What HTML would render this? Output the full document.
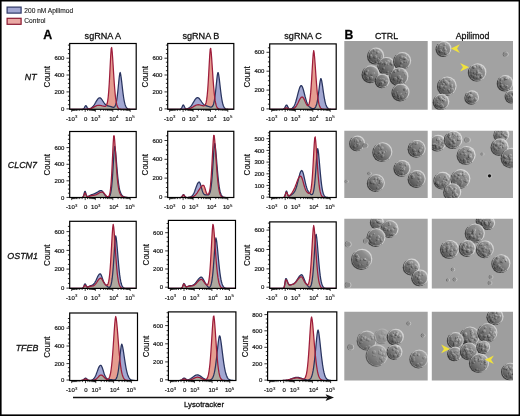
<!DOCTYPE html>
<html><head><meta charset="utf-8"><title>Figure</title>
<style>
html,body{margin:0;padding:0;background:#fff;}
body{width:520px;height:416px;overflow:hidden;}
svg{display:block;will-change:transform;}
text{font-family:"Liberation Sans",sans-serif;stroke:#111;stroke-width:0.28px;}
</style></head><body>
<svg width="520" height="416" viewBox="0 0 520 416">
<rect width="520" height="416" fill="#fff"/>
<rect x="7.1" y="7.1" width="14" height="6" fill="#a2a7d2" stroke="#2e3866" stroke-width="1.2"/>
<rect x="7.1" y="18.3" width="14" height="6" fill="#eaa9a4" stroke="#8a1830" stroke-width="1.2"/>
<text x="24.3" y="13.2" font-size="6.6" fill="#222" style="stroke-width:0.1px">200 nM Apilimod</text>
<text x="24.3" y="23.1" font-size="6.6" fill="#222" style="stroke-width:0.1px">Control</text>
<text x="47.8" y="38.8" font-size="12.4" font-weight="bold" text-anchor="middle" fill="#000">A</text>
<text x="348.8" y="38.6" font-size="12.2" font-weight="bold" text-anchor="middle" fill="#000">B</text>
<text x="386.5" y="39.4" font-size="8.9" text-anchor="middle" fill="#111">CTRL</text>
<text x="472.5" y="39.2" font-size="8.8" text-anchor="middle" fill="#111">Apilimod</text>
<clipPath id="c00"><rect x="69.7" y="43.5" width="66.5" height="65.8"/></clipPath>
<g clip-path="url(#c00)">
<path d="M69.7,109.3 L69.7,109.3 70.2,109.3 70.7,109.3 71.2,109.3 71.7,109.3 72.2,109.3 72.7,109.3 73.2,109.3 73.7,109.3 74.2,109.3 74.7,109.3 75.2,109.3 75.7,109.3 76.2,109.3 76.7,109.3 77.2,109.3 77.7,109.3 78.2,109.3 78.7,109.3 79.2,109.3 79.7,109.3 80.2,109.3 80.7,109.3 81.2,109.3 81.7,109.3 82.2,109.3 82.7,109.2 83.2,109.1 83.7,108.7 84.2,108 84.7,107 85.2,106.1 85.7,105.6 86.2,105.8 86.7,106.6 87.2,107.6 87.7,108.3 88.2,108.8 88.7,108.9 89.2,108.9 89.7,108.8 90.2,108.6 90.7,108.3 91.2,108.1 91.7,107.7 92.2,107.3 92.7,106.7 93.2,106.2 93.7,105.5 94.2,104.8 94.7,104 95.2,103.1 95.7,102.3 96.2,101.4 96.7,100.6 97.2,99.8 97.7,99.2 98.2,98.6 98.7,98.2 99.2,97.9 99.7,97.8 100.2,97.9 100.7,98.2 101.2,98.7 101.7,99.3 102.2,100 102.7,100.8 103.2,101.5 103.7,102.3 104.2,103 104.7,103.7 105.2,104.2 105.7,104.7 106.2,105.1 106.7,105.4 107.2,105.6 107.7,105.8 108.2,105.9 108.7,106.1 109.2,106.2 109.7,106.3 110.2,106.4 110.7,106.6 111.2,106.7 111.7,106.9 112.2,107.1 112.7,107.2 113.2,107.3 113.7,107.3 114.2,107.1 114.7,106.6 115.2,105.9 115.7,104.6 116.2,102.7 116.7,100.1 117.2,96.6 117.7,92.4 118.2,87.5 118.7,82.4 119.2,77.5 119.7,73.8 120.2,72.5 120.7,74.5 121.2,77.8 121.7,81.9 122.2,86.3 122.7,90.6 123.2,94.5 123.7,98 124.2,100.8 124.7,103.1 125.2,104.9 125.7,106.3 126.2,107.2 126.7,107.9 127.2,108.4 127.7,108.7 128.2,109 128.7,109.1 129.2,109.2 129.7,109.2 130.2,109.3 130.7,109.3 131.2,109.3 131.7,109.3 132.2,109.3 132.7,109.3 133.2,109.3 133.7,109.3 134.2,109.3 134.7,109.3 135.2,109.3 135.7,109.3 L135.7,109.3 Z" fill="#a2a7d2"/>
<path d="M69.7,109.3 L69.7,109.3 70.2,109.3 70.7,109.3 71.2,109.3 71.7,109.3 72.2,109.3 72.7,109.3 73.2,109.3 73.7,109.3 74.2,109.3 74.7,109.3 75.2,109.3 75.7,109.3 76.2,109.3 76.7,109.3 77.2,109.3 77.7,109.3 78.2,109.3 78.7,109.3 79.2,109.3 79.7,109.3 80.2,109.3 80.7,109.3 81.2,109.3 81.7,109.3 82.2,109.3 82.7,109.3 83.2,109.3 83.7,109.3 84.2,109.3 84.7,109.3 85.2,109.3 85.7,109.2 86.2,109.2 86.7,109.2 87.2,109.1 87.7,109.1 88.2,109 88.7,109 89.2,108.9 89.7,108.8 90.2,108.6 90.7,108.5 91.2,108.3 91.7,108.1 92.2,107.9 92.7,107.7 93.2,107.4 93.7,107.1 94.2,106.9 94.7,106.6 95.2,106.3 95.7,106.1 96.2,105.9 96.7,105.7 97.2,105.5 97.7,105.4 98.2,105.3 98.7,105.3 99.2,105.3 99.7,105.3 100.2,105.4 100.7,105.5 101.2,105.6 101.7,105.7 102.2,105.9 102.7,106 103.2,106.1 103.7,106.2 104.2,106.3 104.7,106.3 105.2,106.3 105.7,106.1 106.2,105.7 106.7,104.8 107.2,103.3 107.7,100.8 108.2,97 108.7,91.6 109.2,84.3 109.7,75.3 110.2,65.3 110.7,55.7 111.2,48.6 111.7,47.5 112.2,52 112.7,58.8 113.2,66.7 113.7,74.7 114.2,82.2 114.7,88.8 115.2,94.3 115.7,98.7 116.2,102 116.7,104.4 117.2,106.1 117.7,107.3 118.2,108 118.7,108.5 119.2,108.9 119.7,109 120.2,109.2 120.7,109.2 121.2,109.3 121.7,109.3 122.2,109.3 122.7,109.3 123.2,109.3 123.7,109.3 124.2,109.3 124.7,109.3 125.2,109.3 125.7,109.3 126.2,109.3 126.7,109.3 127.2,109.3 127.7,109.3 128.2,109.3 128.7,109.3 129.2,109.3 129.7,109.3 130.2,109.3 130.7,109.3 131.2,109.3 131.7,109.3 132.2,109.3 132.7,109.3 133.2,109.3 133.7,109.3 134.2,109.3 134.7,109.3 135.2,109.3 135.7,109.3 L135.7,109.3 Z" fill="#e59d90"/>
<path d="M69.7,109.3 L69.7,109.3 70.2,109.3 70.7,109.3 71.2,109.3 71.7,109.3 72.2,109.3 72.7,109.3 73.2,109.3 73.7,109.3 74.2,109.3 74.7,109.3 75.2,109.3 75.7,109.3 76.2,109.3 76.7,109.3 77.2,109.3 77.7,109.3 78.2,109.3 78.7,109.3 79.2,109.3 79.7,109.3 80.2,109.3 80.7,109.3 81.2,109.3 81.7,109.3 82.2,109.3 82.7,109.3 83.2,109.3 83.7,109.3 84.2,109.3 84.7,109.3 85.2,109.3 85.7,109.2 86.2,109.2 86.7,109.2 87.2,109.1 87.7,109.1 88.2,109 88.7,109 89.2,108.9 89.7,108.8 90.2,108.6 90.7,108.5 91.2,108.3 91.7,108.1 92.2,107.9 92.7,107.7 93.2,107.4 93.7,107.1 94.2,106.9 94.7,106.6 95.2,106.3 95.7,106.1 96.2,105.9 96.7,105.7 97.2,105.5 97.7,105.4 98.2,105.3 98.7,105.3 99.2,105.3 99.7,105.3 100.2,105.4 100.7,105.5 101.2,105.6 101.7,105.7 102.2,105.9 102.7,106 103.2,106.1 103.7,106.2 104.2,106.3 104.7,106.3 105.2,106.3 105.7,106.1 106.2,105.7 106.7,105.4 107.2,105.6 107.7,105.8 108.2,105.9 108.7,106.1 109.2,106.2 109.7,106.3 110.2,106.4 110.7,106.6 111.2,106.7 111.7,106.9 112.2,107.1 112.7,107.2 113.2,107.3 113.7,107.3 114.2,107.1 114.7,106.6 115.2,105.9 115.7,104.6 116.2,102.7 116.7,104.4 117.2,106.1 117.7,107.3 118.2,108 118.7,108.5 119.2,108.9 119.7,109 120.2,109.2 120.7,109.2 121.2,109.3 121.7,109.3 122.2,109.3 122.7,109.3 123.2,109.3 123.7,109.3 124.2,109.3 124.7,109.3 125.2,109.3 125.7,109.3 126.2,109.3 126.7,109.3 127.2,109.3 127.7,109.3 128.2,109.3 128.7,109.3 129.2,109.3 129.7,109.3 130.2,109.3 130.7,109.3 131.2,109.3 131.7,109.3 132.2,109.3 132.7,109.3 133.2,109.3 133.7,109.3 134.2,109.3 134.7,109.3 135.2,109.3 135.7,109.3 L135.7,109.3 Z" fill="#aea99f"/>
<path d="M69.7,109.3 L70.2,109.3 L70.7,109.3 L71.2,109.3 L71.7,109.3 L72.2,109.3 L72.7,109.3 L73.2,109.3 L73.7,109.3 L74.2,109.3 L74.7,109.3 L75.2,109.3 L75.7,109.3 L76.2,109.3 L76.7,109.3 L77.2,109.3 L77.7,109.3 L78.2,109.3 L78.7,109.3 L79.2,109.3 L79.7,109.3 L80.2,109.3 L80.7,109.3 L81.2,109.3 L81.7,109.3 L82.2,109.3 L82.7,109.2 L83.2,109.1 L83.7,108.7 L84.2,108 L84.7,107 L85.2,106.1 L85.7,105.6 L86.2,105.8 L86.7,106.6 L87.2,107.6 L87.7,108.3 L88.2,108.8 L88.7,108.9 L89.2,108.9 L89.7,108.8 L90.2,108.6 L90.7,108.3 L91.2,108.1 L91.7,107.7 L92.2,107.3 L92.7,106.7 L93.2,106.2 L93.7,105.5 L94.2,104.8 L94.7,104 L95.2,103.1 L95.7,102.3 L96.2,101.4 L96.7,100.6 L97.2,99.8 L97.7,99.2 L98.2,98.6 L98.7,98.2 L99.2,97.9 L99.7,97.8 L100.2,97.9 L100.7,98.2 L101.2,98.7 L101.7,99.3 L102.2,100 L102.7,100.8 L103.2,101.5 L103.7,102.3 L104.2,103 L104.7,103.7 L105.2,104.2 L105.7,104.7 L106.2,105.1 L106.7,105.4 L107.2,105.6 L107.7,105.8 L108.2,105.9 L108.7,106.1 L109.2,106.2 L109.7,106.3 L110.2,106.4 L110.7,106.6 L111.2,106.7 L111.7,106.9 L112.2,107.1 L112.7,107.2 L113.2,107.3 L113.7,107.3 L114.2,107.1 L114.7,106.6 L115.2,105.9 L115.7,104.6 L116.2,102.7 L116.7,100.1 L117.2,96.6 L117.7,92.4 L118.2,87.5 L118.7,82.4 L119.2,77.5 L119.7,73.8 L120.2,72.5 L120.7,74.5 L121.2,77.8 L121.7,81.9 L122.2,86.3 L122.7,90.6 L123.2,94.5 L123.7,98 L124.2,100.8 L124.7,103.1 L125.2,104.9 L125.7,106.3 L126.2,107.2 L126.7,107.9 L127.2,108.4 L127.7,108.7 L128.2,109 L128.7,109.1 L129.2,109.2 L129.7,109.2 L130.2,109.3 L130.7,109.3 L131.2,109.3 L131.7,109.3 L132.2,109.3 L132.7,109.3 L133.2,109.3 L133.7,109.3 L134.2,109.3 L134.7,109.3 L135.2,109.3 L135.7,109.3" fill="none" stroke="#29345f" stroke-width="1.25" stroke-linejoin="round"/>
<path d="M69.7,109.3 L70.2,109.3 L70.7,109.3 L71.2,109.3 L71.7,109.3 L72.2,109.3 L72.7,109.3 L73.2,109.3 L73.7,109.3 L74.2,109.3 L74.7,109.3 L75.2,109.3 L75.7,109.3 L76.2,109.3 L76.7,109.3 L77.2,109.3 L77.7,109.3 L78.2,109.3 L78.7,109.3 L79.2,109.3 L79.7,109.3 L80.2,109.3 L80.7,109.3 L81.2,109.3 L81.7,109.3 L82.2,109.3 L82.7,109.3 L83.2,109.3 L83.7,109.3 L84.2,109.3 L84.7,109.3 L85.2,109.3 L85.7,109.2 L86.2,109.2 L86.7,109.2 L87.2,109.1 L87.7,109.1 L88.2,109 L88.7,109 L89.2,108.9 L89.7,108.8 L90.2,108.6 L90.7,108.5 L91.2,108.3 L91.7,108.1 L92.2,107.9 L92.7,107.7 L93.2,107.4 L93.7,107.1 L94.2,106.9 L94.7,106.6 L95.2,106.3 L95.7,106.1 L96.2,105.9 L96.7,105.7 L97.2,105.5 L97.7,105.4 L98.2,105.3 L98.7,105.3 L99.2,105.3 L99.7,105.3 L100.2,105.4 L100.7,105.5 L101.2,105.6 L101.7,105.7 L102.2,105.9 L102.7,106 L103.2,106.1 L103.7,106.2 L104.2,106.3 L104.7,106.3 L105.2,106.3 L105.7,106.1 L106.2,105.7 L106.7,104.8 L107.2,103.3 L107.7,100.8 L108.2,97 L108.7,91.6 L109.2,84.3 L109.7,75.3 L110.2,65.3 L110.7,55.7 L111.2,48.6 L111.7,47.5 L112.2,52 L112.7,58.8 L113.2,66.7 L113.7,74.7 L114.2,82.2 L114.7,88.8 L115.2,94.3 L115.7,98.7 L116.2,102 L116.7,104.4 L117.2,106.1 L117.7,107.3 L118.2,108 L118.7,108.5 L119.2,108.9 L119.7,109 L120.2,109.2 L120.7,109.2 L121.2,109.3 L121.7,109.3 L122.2,109.3 L122.7,109.3 L123.2,109.3 L123.7,109.3 L124.2,109.3 L124.7,109.3 L125.2,109.3 L125.7,109.3 L126.2,109.3 L126.7,109.3 L127.2,109.3 L127.7,109.3 L128.2,109.3 L128.7,109.3 L129.2,109.3 L129.7,109.3 L130.2,109.3 L130.7,109.3 L131.2,109.3 L131.7,109.3 L132.2,109.3 L132.7,109.3 L133.2,109.3 L133.7,109.3 L134.2,109.3 L134.7,109.3 L135.2,109.3 L135.7,109.3" fill="none" stroke="#9e1d3b" stroke-width="1.25" stroke-linejoin="round"/>
</g>
<rect x="69.7" y="43.5" width="66.5" height="65.8" fill="none" stroke="#000" stroke-width="1.2"/>
<path d="M66.5,58.2H69.7 M66.5,75H69.7 M66.5,91.9H69.7 M66.5,108.9H69.7 M67.9,104.7H69.7 M67.9,100.4H69.7 M67.9,96.2H69.7 M67.9,87.7H69.7 M67.9,83.4H69.7 M67.9,79.2H69.7 M67.9,70.7H69.7 M67.9,66.4H69.7 M67.9,62.2H69.7 M67.9,53.6H69.7 M67.9,49.4H69.7 M67.9,45.1H69.7" stroke="#000" stroke-width="0.8"/>
<text x="64.4" y="60.3" font-size="6.0" text-anchor="end" fill="#222" style="stroke-width:0.2px">600</text>
<text x="64.4" y="77.1" font-size="6.0" text-anchor="end" fill="#222" style="stroke-width:0.2px">400</text>
<text x="64.4" y="94" font-size="6.0" text-anchor="end" fill="#222" style="stroke-width:0.2px">200</text>
<text x="64.4" y="111" font-size="6.0" text-anchor="end" fill="#222" style="stroke-width:0.2px">0</text>
<path d="M71.7,109.3v2.6 M85.2,109.3v2.6 M95.3,109.3v2.6 M112.8,109.3v2.6 M130.2,109.3v2.6 M100.6,109.3v1.6 M103.6,109.3v1.6 M105.8,109.3v1.6 M107.5,109.3v1.6 M108.9,109.3v1.6 M110,109.3v1.6 M111.1,109.3v1.6 M112,109.3v1.6 M118.1,109.3v1.6 M121.1,109.3v1.6 M123.3,109.3v1.6 M125,109.3v1.6 M126.4,109.3v1.6 M127.5,109.3v1.6 M128.6,109.3v1.6 M129.5,109.3v1.6 M87.5,109.3v1.6 M82.1,109.3v1.6 M89.3,109.3v1.6 M79.7,109.3v1.6 M90.7,109.3v1.6 M77.9,109.3v1.6 M91.7,109.3v1.6 M76.5,109.3v1.6 M92.6,109.3v1.6 M75.3,109.3v1.6 M93.3,109.3v1.6 M74.4,109.3v1.6 M93.9,109.3v1.6 M73.6,109.3v1.6 M94.4,109.3v1.6 M72.9,109.3v1.6 M94.9,109.3v1.6 M72.3,109.3v1.6" stroke="#000" stroke-width="0.75"/>
<text x="66.1" y="121.1" font-size="6.0" fill="#222" style="stroke-width:0.2px">-10</text>
<text x="75" y="118.3" font-size="4.3" fill="#222" style="stroke-width:0.12px">3</text>
<text x="85.7" y="121.1" font-size="6.0" text-anchor="middle" fill="#222" style="stroke-width:0.2px">0</text>
<text x="91.1" y="121.1" font-size="6.0" fill="#222" style="stroke-width:0.2px">10</text>
<text x="98" y="118.3" font-size="4.3" fill="#222" style="stroke-width:0.12px">3</text>
<text x="109.2" y="121.1" font-size="6.0" fill="#222" style="stroke-width:0.2px">10</text>
<text x="116.1" y="118.3" font-size="4.3" fill="#222" style="stroke-width:0.12px">4</text>
<text x="125.3" y="121.1" font-size="6.0" fill="#222" style="stroke-width:0.2px">10</text>
<text x="132.2" y="118.3" font-size="4.3" fill="#222" style="stroke-width:0.12px">5</text>
<text transform="translate(50.1,76.7) rotate(-90)" font-size="9.0" text-anchor="middle" textLength="21.4" lengthAdjust="spacingAndGlyphs" fill="#111" style="stroke-width:0.15px">Count</text>
<clipPath id="c01"><rect x="167.7" y="43.5" width="66.1" height="65.8"/></clipPath>
<g clip-path="url(#c01)">
<path d="M167.7,109.3 L167.7,109.3 168.2,109.3 168.7,109.3 169.2,109.3 169.7,109.3 170.2,109.3 170.7,109.3 171.2,109.3 171.7,109.3 172.2,109.3 172.7,109.3 173.2,109.3 173.7,109.3 174.2,109.3 174.7,109.3 175.2,109.3 175.7,109.3 176.2,109.3 176.7,109.3 177.2,109.3 177.7,109.3 178.2,109.3 178.7,109.3 179.2,109.3 179.7,109.3 180.2,109.2 180.7,109 181.2,108.6 181.7,107.8 182.2,106.7 182.7,105.6 183.2,105 183.7,105.2 184.2,106.2 184.7,107.3 185.2,108.2 185.7,108.7 186.2,108.9 186.7,108.9 187.2,108.8 187.7,108.6 188.2,108.4 188.7,108.2 189.2,107.8 189.7,107.4 190.2,106.9 190.7,106.4 191.2,105.8 191.7,105.1 192.2,104.3 192.7,103.5 193.2,102.7 193.7,101.8 194.2,101 194.7,100.2 195.2,99.4 195.7,98.8 196.2,98.3 196.7,97.9 197.2,97.7 197.7,97.6 198.2,97.8 198.7,98.1 199.2,98.5 199.7,99.1 200.2,99.8 200.7,100.5 201.2,101.2 201.7,102 202.2,102.7 202.7,103.3 203.2,103.9 203.7,104.4 204.2,104.8 204.7,105.1 205.2,105.4 205.7,105.6 206.2,105.7 206.7,105.9 207.2,106.1 207.7,106.2 208.2,106.4 208.7,106.5 209.2,106.7 209.7,106.8 210.2,107 210.7,107.1 211.2,107.1 211.7,107 212.2,106.6 212.7,106 213.2,105 213.7,103.4 214.2,101.3 214.7,98.3 215.2,94.7 215.7,90.3 216.2,85.5 216.7,80.6 217.2,76.1 217.7,73 218.2,72.6 218.7,74.9 219.2,78.4 219.7,82.6 220.2,87.1 220.7,91.3 221.2,95.2 221.7,98.5 222.2,101.3 222.7,103.5 223.2,105.2 223.7,106.5 224.2,107.4 224.7,108 225.2,108.5 225.7,108.8 226.2,109 226.7,109.1 227.2,109.2 227.7,109.2 228.2,109.3 228.7,109.3 229.2,109.3 229.7,109.3 230.2,109.3 230.7,109.3 231.2,109.3 231.7,109.3 232.2,109.3 232.7,109.3 233.2,109.3 233.7,109.3 L233.7,109.3 Z" fill="#a2a7d2"/>
<path d="M167.7,109.3 L167.7,109.3 168.2,109.3 168.7,109.3 169.2,109.3 169.7,109.3 170.2,109.3 170.7,109.3 171.2,109.3 171.7,109.3 172.2,109.3 172.7,109.3 173.2,109.3 173.7,109.3 174.2,109.3 174.7,109.3 175.2,109.3 175.7,109.3 176.2,109.3 176.7,109.3 177.2,109.3 177.7,109.3 178.2,109.3 178.7,109.3 179.2,109.3 179.7,109.3 180.2,109.3 180.7,109.3 181.2,109.3 181.7,109.3 182.2,109.3 182.7,109.3 183.2,109.3 183.7,109.3 184.2,109.3 184.7,109.2 185.2,109.2 185.7,109.2 186.2,109.2 186.7,109.1 187.2,109 187.7,109 188.2,108.9 188.7,108.8 189.2,108.6 189.7,108.5 190.2,108.3 190.7,108.1 191.2,107.9 191.7,107.6 192.2,107.3 192.7,107.1 193.2,106.8 193.7,106.4 194.2,106.1 194.7,105.9 195.2,105.6 195.7,105.3 196.2,105.1 196.7,105 197.2,104.8 197.7,104.8 198.2,104.7 198.7,104.8 199.2,104.8 199.7,104.9 200.2,105 200.7,105.2 201.2,105.3 201.7,105.5 202.2,105.6 202.7,105.7 203.2,105.8 203.7,105.8 204.2,105.8 204.7,105.5 205.2,104.9 205.7,103.9 206.2,102.2 206.7,99.4 207.2,95.3 207.7,89.7 208.2,82.5 208.7,73.9 209.2,64.6 209.7,55.8 210.2,49.4 210.7,48.4 211.2,52.5 211.7,58.9 212.2,66.2 212.7,73.9 213.2,81.1 213.7,87.5 214.2,93 214.7,97.5 215.2,100.9 215.7,103.5 216.2,105.4 216.7,106.8 217.2,107.7 217.7,108.3 218.2,108.7 218.7,108.9 219.2,109.1 219.7,109.2 220.2,109.2 220.7,109.3 221.2,109.3 221.7,109.3 222.2,109.3 222.7,109.3 223.2,109.3 223.7,109.3 224.2,109.3 224.7,109.3 225.2,109.3 225.7,109.3 226.2,109.3 226.7,109.3 227.2,109.3 227.7,109.3 228.2,109.3 228.7,109.3 229.2,109.3 229.7,109.3 230.2,109.3 230.7,109.3 231.2,109.3 231.7,109.3 232.2,109.3 232.7,109.3 233.2,109.3 233.7,109.3 L233.7,109.3 Z" fill="#e59d90"/>
<path d="M167.7,109.3 L167.7,109.3 168.2,109.3 168.7,109.3 169.2,109.3 169.7,109.3 170.2,109.3 170.7,109.3 171.2,109.3 171.7,109.3 172.2,109.3 172.7,109.3 173.2,109.3 173.7,109.3 174.2,109.3 174.7,109.3 175.2,109.3 175.7,109.3 176.2,109.3 176.7,109.3 177.2,109.3 177.7,109.3 178.2,109.3 178.7,109.3 179.2,109.3 179.7,109.3 180.2,109.3 180.7,109.3 181.2,109.3 181.7,109.3 182.2,109.3 182.7,109.3 183.2,109.3 183.7,109.3 184.2,109.3 184.7,109.2 185.2,109.2 185.7,109.2 186.2,109.2 186.7,109.1 187.2,109 187.7,109 188.2,108.9 188.7,108.8 189.2,108.6 189.7,108.5 190.2,108.3 190.7,108.1 191.2,107.9 191.7,107.6 192.2,107.3 192.7,107.1 193.2,106.8 193.7,106.4 194.2,106.1 194.7,105.9 195.2,105.6 195.7,105.3 196.2,105.1 196.7,105 197.2,104.8 197.7,104.8 198.2,104.7 198.7,104.8 199.2,104.8 199.7,104.9 200.2,105 200.7,105.2 201.2,105.3 201.7,105.5 202.2,105.6 202.7,105.7 203.2,105.8 203.7,105.8 204.2,105.8 204.7,105.5 205.2,105.4 205.7,105.6 206.2,105.7 206.7,105.9 207.2,106.1 207.7,106.2 208.2,106.4 208.7,106.5 209.2,106.7 209.7,106.8 210.2,107 210.7,107.1 211.2,107.1 211.7,107 212.2,106.6 212.7,106 213.2,105 213.7,103.4 214.2,101.3 214.7,98.3 215.2,100.9 215.7,103.5 216.2,105.4 216.7,106.8 217.2,107.7 217.7,108.3 218.2,108.7 218.7,108.9 219.2,109.1 219.7,109.2 220.2,109.2 220.7,109.3 221.2,109.3 221.7,109.3 222.2,109.3 222.7,109.3 223.2,109.3 223.7,109.3 224.2,109.3 224.7,109.3 225.2,109.3 225.7,109.3 226.2,109.3 226.7,109.3 227.2,109.3 227.7,109.3 228.2,109.3 228.7,109.3 229.2,109.3 229.7,109.3 230.2,109.3 230.7,109.3 231.2,109.3 231.7,109.3 232.2,109.3 232.7,109.3 233.2,109.3 233.7,109.3 L233.7,109.3 Z" fill="#aea99f"/>
<path d="M167.7,109.3 L168.2,109.3 L168.7,109.3 L169.2,109.3 L169.7,109.3 L170.2,109.3 L170.7,109.3 L171.2,109.3 L171.7,109.3 L172.2,109.3 L172.7,109.3 L173.2,109.3 L173.7,109.3 L174.2,109.3 L174.7,109.3 L175.2,109.3 L175.7,109.3 L176.2,109.3 L176.7,109.3 L177.2,109.3 L177.7,109.3 L178.2,109.3 L178.7,109.3 L179.2,109.3 L179.7,109.3 L180.2,109.2 L180.7,109 L181.2,108.6 L181.7,107.8 L182.2,106.7 L182.7,105.6 L183.2,105 L183.7,105.2 L184.2,106.2 L184.7,107.3 L185.2,108.2 L185.7,108.7 L186.2,108.9 L186.7,108.9 L187.2,108.8 L187.7,108.6 L188.2,108.4 L188.7,108.2 L189.2,107.8 L189.7,107.4 L190.2,106.9 L190.7,106.4 L191.2,105.8 L191.7,105.1 L192.2,104.3 L192.7,103.5 L193.2,102.7 L193.7,101.8 L194.2,101 L194.7,100.2 L195.2,99.4 L195.7,98.8 L196.2,98.3 L196.7,97.9 L197.2,97.7 L197.7,97.6 L198.2,97.8 L198.7,98.1 L199.2,98.5 L199.7,99.1 L200.2,99.8 L200.7,100.5 L201.2,101.2 L201.7,102 L202.2,102.7 L202.7,103.3 L203.2,103.9 L203.7,104.4 L204.2,104.8 L204.7,105.1 L205.2,105.4 L205.7,105.6 L206.2,105.7 L206.7,105.9 L207.2,106.1 L207.7,106.2 L208.2,106.4 L208.7,106.5 L209.2,106.7 L209.7,106.8 L210.2,107 L210.7,107.1 L211.2,107.1 L211.7,107 L212.2,106.6 L212.7,106 L213.2,105 L213.7,103.4 L214.2,101.3 L214.7,98.3 L215.2,94.7 L215.7,90.3 L216.2,85.5 L216.7,80.6 L217.2,76.1 L217.7,73 L218.2,72.6 L218.7,74.9 L219.2,78.4 L219.7,82.6 L220.2,87.1 L220.7,91.3 L221.2,95.2 L221.7,98.5 L222.2,101.3 L222.7,103.5 L223.2,105.2 L223.7,106.5 L224.2,107.4 L224.7,108 L225.2,108.5 L225.7,108.8 L226.2,109 L226.7,109.1 L227.2,109.2 L227.7,109.2 L228.2,109.3 L228.7,109.3 L229.2,109.3 L229.7,109.3 L230.2,109.3 L230.7,109.3 L231.2,109.3 L231.7,109.3 L232.2,109.3 L232.7,109.3 L233.2,109.3 L233.7,109.3" fill="none" stroke="#29345f" stroke-width="1.25" stroke-linejoin="round"/>
<path d="M167.7,109.3 L168.2,109.3 L168.7,109.3 L169.2,109.3 L169.7,109.3 L170.2,109.3 L170.7,109.3 L171.2,109.3 L171.7,109.3 L172.2,109.3 L172.7,109.3 L173.2,109.3 L173.7,109.3 L174.2,109.3 L174.7,109.3 L175.2,109.3 L175.7,109.3 L176.2,109.3 L176.7,109.3 L177.2,109.3 L177.7,109.3 L178.2,109.3 L178.7,109.3 L179.2,109.3 L179.7,109.3 L180.2,109.3 L180.7,109.3 L181.2,109.3 L181.7,109.3 L182.2,109.3 L182.7,109.3 L183.2,109.3 L183.7,109.3 L184.2,109.3 L184.7,109.2 L185.2,109.2 L185.7,109.2 L186.2,109.2 L186.7,109.1 L187.2,109 L187.7,109 L188.2,108.9 L188.7,108.8 L189.2,108.6 L189.7,108.5 L190.2,108.3 L190.7,108.1 L191.2,107.9 L191.7,107.6 L192.2,107.3 L192.7,107.1 L193.2,106.8 L193.7,106.4 L194.2,106.1 L194.7,105.9 L195.2,105.6 L195.7,105.3 L196.2,105.1 L196.7,105 L197.2,104.8 L197.7,104.8 L198.2,104.7 L198.7,104.8 L199.2,104.8 L199.7,104.9 L200.2,105 L200.7,105.2 L201.2,105.3 L201.7,105.5 L202.2,105.6 L202.7,105.7 L203.2,105.8 L203.7,105.8 L204.2,105.8 L204.7,105.5 L205.2,104.9 L205.7,103.9 L206.2,102.2 L206.7,99.4 L207.2,95.3 L207.7,89.7 L208.2,82.5 L208.7,73.9 L209.2,64.6 L209.7,55.8 L210.2,49.4 L210.7,48.4 L211.2,52.5 L211.7,58.9 L212.2,66.2 L212.7,73.9 L213.2,81.1 L213.7,87.5 L214.2,93 L214.7,97.5 L215.2,100.9 L215.7,103.5 L216.2,105.4 L216.7,106.8 L217.2,107.7 L217.7,108.3 L218.2,108.7 L218.7,108.9 L219.2,109.1 L219.7,109.2 L220.2,109.2 L220.7,109.3 L221.2,109.3 L221.7,109.3 L222.2,109.3 L222.7,109.3 L223.2,109.3 L223.7,109.3 L224.2,109.3 L224.7,109.3 L225.2,109.3 L225.7,109.3 L226.2,109.3 L226.7,109.3 L227.2,109.3 L227.7,109.3 L228.2,109.3 L228.7,109.3 L229.2,109.3 L229.7,109.3 L230.2,109.3 L230.7,109.3 L231.2,109.3 L231.7,109.3 L232.2,109.3 L232.7,109.3 L233.2,109.3 L233.7,109.3" fill="none" stroke="#9e1d3b" stroke-width="1.25" stroke-linejoin="round"/>
</g>
<rect x="167.7" y="43.5" width="66.1" height="65.8" fill="none" stroke="#000" stroke-width="1.2"/>
<path d="M164.5,58.2H167.7 M164.5,75H167.7 M164.5,91.9H167.7 M164.5,108.9H167.7 M165.9,104.7H167.7 M165.9,100.4H167.7 M165.9,96.2H167.7 M165.9,87.7H167.7 M165.9,83.4H167.7 M165.9,79.2H167.7 M165.9,70.7H167.7 M165.9,66.4H167.7 M165.9,62.2H167.7 M165.9,53.6H167.7 M165.9,49.4H167.7 M165.9,45.1H167.7" stroke="#000" stroke-width="0.8"/>
<text x="162.4" y="60.3" font-size="6.0" text-anchor="end" fill="#222" style="stroke-width:0.2px">600</text>
<text x="162.4" y="77.1" font-size="6.0" text-anchor="end" fill="#222" style="stroke-width:0.2px">400</text>
<text x="162.4" y="94" font-size="6.0" text-anchor="end" fill="#222" style="stroke-width:0.2px">200</text>
<text x="162.4" y="111" font-size="6.0" text-anchor="end" fill="#222" style="stroke-width:0.2px">0</text>
<path d="M169.7,109.3v2.6 M183.1,109.3v2.6 M193.1,109.3v2.6 M210.5,109.3v2.6 M227.8,109.3v2.6 M198.4,109.3v1.6 M201.4,109.3v1.6 M203.6,109.3v1.6 M205.3,109.3v1.6 M206.6,109.3v1.6 M207.8,109.3v1.6 M208.8,109.3v1.6 M209.7,109.3v1.6 M215.8,109.3v1.6 M218.8,109.3v1.6 M221,109.3v1.6 M222.7,109.3v1.6 M224,109.3v1.6 M225.2,109.3v1.6 M226.2,109.3v1.6 M227.1,109.3v1.6 M185.4,109.3v1.6 M180,109.3v1.6 M187.2,109.3v1.6 M177.6,109.3v1.6 M188.5,109.3v1.6 M175.8,109.3v1.6 M189.6,109.3v1.6 M174.4,109.3v1.6 M190.4,109.3v1.6 M173.3,109.3v1.6 M191.1,109.3v1.6 M172.4,109.3v1.6 M191.7,109.3v1.6 M171.6,109.3v1.6 M192.3,109.3v1.6 M170.9,109.3v1.6 M192.7,109.3v1.6 M170.2,109.3v1.6" stroke="#000" stroke-width="0.75"/>
<text x="164.1" y="121.1" font-size="6.0" fill="#222" style="stroke-width:0.2px">-10</text>
<text x="173" y="118.3" font-size="4.3" fill="#222" style="stroke-width:0.12px">3</text>
<text x="183.6" y="121.1" font-size="6.0" text-anchor="middle" fill="#222" style="stroke-width:0.2px">0</text>
<text x="188.9" y="121.1" font-size="6.0" fill="#222" style="stroke-width:0.2px">10</text>
<text x="195.9" y="118.3" font-size="4.3" fill="#222" style="stroke-width:0.12px">3</text>
<text x="206.9" y="121.1" font-size="6.0" fill="#222" style="stroke-width:0.2px">10</text>
<text x="213.9" y="118.3" font-size="4.3" fill="#222" style="stroke-width:0.12px">4</text>
<text x="222.9" y="121.1" font-size="6.0" fill="#222" style="stroke-width:0.2px">10</text>
<text x="229.9" y="118.3" font-size="4.3" fill="#222" style="stroke-width:0.12px">5</text>
<text transform="translate(148.1,76.7) rotate(-90)" font-size="9.0" text-anchor="middle" textLength="21.4" lengthAdjust="spacingAndGlyphs" fill="#111" style="stroke-width:0.15px">Count</text>
<clipPath id="c02"><rect x="269.7" y="43.9" width="66.5" height="65.4"/></clipPath>
<g clip-path="url(#c02)">
<path d="M269.7,109.3 L269.7,109.3 270.2,109.3 270.7,109.3 271.2,109.3 271.7,109.3 272.2,109.3 272.7,109.3 273.2,109.3 273.7,109.3 274.2,109.3 274.7,109.3 275.2,109.3 275.7,109.3 276.2,109.3 276.7,109.3 277.2,109.3 277.7,109.3 278.2,109.3 278.7,109.3 279.2,109.3 279.7,109.3 280.2,109.3 280.7,109.3 281.2,109.3 281.7,109.3 282.2,109.3 282.7,109.3 283.2,109.2 283.7,109 284.2,108.6 284.7,107.9 285.2,106.9 285.7,105.8 286.2,105 286.7,105 287.2,105.6 287.7,106.6 288.2,107.7 288.7,108.4 289.2,108.9 289.7,109 290.2,109 290.7,109 291.2,108.8 291.7,108.6 292.2,108.3 292.7,107.8 293.2,107.3 293.7,106.6 294.2,105.7 294.7,104.7 295.2,103.4 295.7,102 296.2,100.3 296.7,98.5 297.2,96.6 297.7,94.6 298.2,92.6 298.7,90.8 299.2,89.1 299.7,87.6 300.2,86.6 300.7,85.9 301.2,85.6 301.7,85.9 302.2,86.6 302.7,87.7 303.2,89.2 303.7,91 304.2,92.9 304.7,94.9 305.2,96.9 305.7,98.7 306.2,100.4 306.7,102 307.2,103.3 307.7,104.4 308.2,105.3 308.7,106 309.2,106.6 309.7,107.1 310.2,107.5 310.7,107.9 311.2,108.1 311.7,108.3 312.2,108.5 312.7,108.6 313.2,108.6 313.7,108.6 314.2,108.4 314.7,108.1 315.2,107.6 315.7,106.8 316.2,105.6 316.7,104 317.2,101.8 317.7,99.1 318.2,95.8 318.7,92.1 319.2,88.1 319.7,84.2 320.2,80.8 320.7,78.6 321.2,78.8 321.7,80.8 322.2,83.8 322.7,87.2 323.2,90.8 323.7,94.2 324.2,97.3 324.7,100 325.2,102.3 325.7,104.2 326.2,105.6 326.7,106.7 327.2,107.5 327.7,108.1 328.2,108.5 328.7,108.8 329.2,109 329.7,109.1 330.2,109.2 330.7,109.2 331.2,109.3 331.7,109.3 332.2,109.3 332.7,109.3 333.2,109.3 333.7,109.3 334.2,109.3 334.7,109.3 335.2,109.3 335.7,109.3 336.2,109.3 L336.2,109.3 Z" fill="#a2a7d2"/>
<path d="M269.7,109.3 L269.7,109.3 270.2,109.3 270.7,109.3 271.2,109.3 271.7,109.3 272.2,109.3 272.7,109.3 273.2,109.3 273.7,109.3 274.2,109.3 274.7,109.3 275.2,109.3 275.7,109.3 276.2,109.3 276.7,109.3 277.2,109.3 277.7,109.3 278.2,109.3 278.7,109.3 279.2,109.3 279.7,109.3 280.2,109.3 280.7,109.3 281.2,109.3 281.7,109.3 282.2,109.3 282.7,109.3 283.2,109.3 283.7,109.2 284.2,109.1 284.7,108.8 285.2,108.5 285.7,108.1 286.2,107.8 286.7,107.8 287.2,108 287.7,108.4 288.2,108.7 288.7,109 289.2,109.2 289.7,109.2 290.2,109.2 290.7,109.2 291.2,109.2 291.7,109.1 292.2,109 292.7,108.9 293.2,108.7 293.7,108.5 294.2,108.2 294.7,107.8 295.2,107.3 295.7,106.8 296.2,106.1 296.7,105.3 297.2,104.4 297.7,103.5 298.2,102.5 298.7,101.4 299.2,100.4 299.7,99.5 300.2,98.6 300.7,97.9 301.2,97.4 301.7,97.1 302.2,97 302.7,97.2 303.2,97.7 303.7,98.4 304.2,99.4 304.7,100.4 305.2,101.6 305.7,102.7 306.2,103.7 306.7,104.6 307.2,105.3 307.7,105.7 308.2,105.6 308.7,104.9 309.2,103.5 309.7,101.1 310.2,97.4 310.7,92.4 311.2,85.9 311.7,78.1 312.2,69.5 312.7,61 313.2,54.1 313.7,50.7 314.2,53.2 314.7,58.5 315.2,65.2 315.7,72.5 316.2,79.6 316.7,86.1 317.2,91.7 317.7,96.4 318.2,100 318.7,102.8 319.2,104.9 319.7,106.4 320.2,107.4 320.7,108.1 321.2,108.6 321.7,108.9 322.2,109 322.7,109.2 323.2,109.2 323.7,109.3 324.2,109.3 324.7,109.3 325.2,109.3 325.7,109.3 326.2,109.3 326.7,109.3 327.2,109.3 327.7,109.3 328.2,109.3 328.7,109.3 329.2,109.3 329.7,109.3 330.2,109.3 330.7,109.3 331.2,109.3 331.7,109.3 332.2,109.3 332.7,109.3 333.2,109.3 333.7,109.3 334.2,109.3 334.7,109.3 335.2,109.3 335.7,109.3 336.2,109.3 L336.2,109.3 Z" fill="#e59d90"/>
<path d="M269.7,109.3 L269.7,109.3 270.2,109.3 270.7,109.3 271.2,109.3 271.7,109.3 272.2,109.3 272.7,109.3 273.2,109.3 273.7,109.3 274.2,109.3 274.7,109.3 275.2,109.3 275.7,109.3 276.2,109.3 276.7,109.3 277.2,109.3 277.7,109.3 278.2,109.3 278.7,109.3 279.2,109.3 279.7,109.3 280.2,109.3 280.7,109.3 281.2,109.3 281.7,109.3 282.2,109.3 282.7,109.3 283.2,109.3 283.7,109.2 284.2,109.1 284.7,108.8 285.2,108.5 285.7,108.1 286.2,107.8 286.7,107.8 287.2,108 287.7,108.4 288.2,108.7 288.7,109 289.2,109.2 289.7,109.2 290.2,109.2 290.7,109.2 291.2,109.2 291.7,109.1 292.2,109 292.7,108.9 293.2,108.7 293.7,108.5 294.2,108.2 294.7,107.8 295.2,107.3 295.7,106.8 296.2,106.1 296.7,105.3 297.2,104.4 297.7,103.5 298.2,102.5 298.7,101.4 299.2,100.4 299.7,99.5 300.2,98.6 300.7,97.9 301.2,97.4 301.7,97.1 302.2,97 302.7,97.2 303.2,97.7 303.7,98.4 304.2,99.4 304.7,100.4 305.2,101.6 305.7,102.7 306.2,103.7 306.7,104.6 307.2,105.3 307.7,105.7 308.2,105.6 308.7,106 309.2,106.6 309.7,107.1 310.2,107.5 310.7,107.9 311.2,108.1 311.7,108.3 312.2,108.5 312.7,108.6 313.2,108.6 313.7,108.6 314.2,108.4 314.7,108.1 315.2,107.6 315.7,106.8 316.2,105.6 316.7,104 317.2,101.8 317.7,99.1 318.2,100 318.7,102.8 319.2,104.9 319.7,106.4 320.2,107.4 320.7,108.1 321.2,108.6 321.7,108.9 322.2,109 322.7,109.2 323.2,109.2 323.7,109.3 324.2,109.3 324.7,109.3 325.2,109.3 325.7,109.3 326.2,109.3 326.7,109.3 327.2,109.3 327.7,109.3 328.2,109.3 328.7,109.3 329.2,109.3 329.7,109.3 330.2,109.3 330.7,109.3 331.2,109.3 331.7,109.3 332.2,109.3 332.7,109.3 333.2,109.3 333.7,109.3 334.2,109.3 334.7,109.3 335.2,109.3 335.7,109.3 336.2,109.3 L336.2,109.3 Z" fill="#aea99f"/>
<path d="M269.7,109.3 L270.2,109.3 L270.7,109.3 L271.2,109.3 L271.7,109.3 L272.2,109.3 L272.7,109.3 L273.2,109.3 L273.7,109.3 L274.2,109.3 L274.7,109.3 L275.2,109.3 L275.7,109.3 L276.2,109.3 L276.7,109.3 L277.2,109.3 L277.7,109.3 L278.2,109.3 L278.7,109.3 L279.2,109.3 L279.7,109.3 L280.2,109.3 L280.7,109.3 L281.2,109.3 L281.7,109.3 L282.2,109.3 L282.7,109.3 L283.2,109.2 L283.7,109 L284.2,108.6 L284.7,107.9 L285.2,106.9 L285.7,105.8 L286.2,105 L286.7,105 L287.2,105.6 L287.7,106.6 L288.2,107.7 L288.7,108.4 L289.2,108.9 L289.7,109 L290.2,109 L290.7,109 L291.2,108.8 L291.7,108.6 L292.2,108.3 L292.7,107.8 L293.2,107.3 L293.7,106.6 L294.2,105.7 L294.7,104.7 L295.2,103.4 L295.7,102 L296.2,100.3 L296.7,98.5 L297.2,96.6 L297.7,94.6 L298.2,92.6 L298.7,90.8 L299.2,89.1 L299.7,87.6 L300.2,86.6 L300.7,85.9 L301.2,85.6 L301.7,85.9 L302.2,86.6 L302.7,87.7 L303.2,89.2 L303.7,91 L304.2,92.9 L304.7,94.9 L305.2,96.9 L305.7,98.7 L306.2,100.4 L306.7,102 L307.2,103.3 L307.7,104.4 L308.2,105.3 L308.7,106 L309.2,106.6 L309.7,107.1 L310.2,107.5 L310.7,107.9 L311.2,108.1 L311.7,108.3 L312.2,108.5 L312.7,108.6 L313.2,108.6 L313.7,108.6 L314.2,108.4 L314.7,108.1 L315.2,107.6 L315.7,106.8 L316.2,105.6 L316.7,104 L317.2,101.8 L317.7,99.1 L318.2,95.8 L318.7,92.1 L319.2,88.1 L319.7,84.2 L320.2,80.8 L320.7,78.6 L321.2,78.8 L321.7,80.8 L322.2,83.8 L322.7,87.2 L323.2,90.8 L323.7,94.2 L324.2,97.3 L324.7,100 L325.2,102.3 L325.7,104.2 L326.2,105.6 L326.7,106.7 L327.2,107.5 L327.7,108.1 L328.2,108.5 L328.7,108.8 L329.2,109 L329.7,109.1 L330.2,109.2 L330.7,109.2 L331.2,109.3 L331.7,109.3 L332.2,109.3 L332.7,109.3 L333.2,109.3 L333.7,109.3 L334.2,109.3 L334.7,109.3 L335.2,109.3 L335.7,109.3 L336.2,109.3" fill="none" stroke="#29345f" stroke-width="1.25" stroke-linejoin="round"/>
<path d="M269.7,109.3 L270.2,109.3 L270.7,109.3 L271.2,109.3 L271.7,109.3 L272.2,109.3 L272.7,109.3 L273.2,109.3 L273.7,109.3 L274.2,109.3 L274.7,109.3 L275.2,109.3 L275.7,109.3 L276.2,109.3 L276.7,109.3 L277.2,109.3 L277.7,109.3 L278.2,109.3 L278.7,109.3 L279.2,109.3 L279.7,109.3 L280.2,109.3 L280.7,109.3 L281.2,109.3 L281.7,109.3 L282.2,109.3 L282.7,109.3 L283.2,109.3 L283.7,109.2 L284.2,109.1 L284.7,108.8 L285.2,108.5 L285.7,108.1 L286.2,107.8 L286.7,107.8 L287.2,108 L287.7,108.4 L288.2,108.7 L288.7,109 L289.2,109.2 L289.7,109.2 L290.2,109.2 L290.7,109.2 L291.2,109.2 L291.7,109.1 L292.2,109 L292.7,108.9 L293.2,108.7 L293.7,108.5 L294.2,108.2 L294.7,107.8 L295.2,107.3 L295.7,106.8 L296.2,106.1 L296.7,105.3 L297.2,104.4 L297.7,103.5 L298.2,102.5 L298.7,101.4 L299.2,100.4 L299.7,99.5 L300.2,98.6 L300.7,97.9 L301.2,97.4 L301.7,97.1 L302.2,97 L302.7,97.2 L303.2,97.7 L303.7,98.4 L304.2,99.4 L304.7,100.4 L305.2,101.6 L305.7,102.7 L306.2,103.7 L306.7,104.6 L307.2,105.3 L307.7,105.7 L308.2,105.6 L308.7,104.9 L309.2,103.5 L309.7,101.1 L310.2,97.4 L310.7,92.4 L311.2,85.9 L311.7,78.1 L312.2,69.5 L312.7,61 L313.2,54.1 L313.7,50.7 L314.2,53.2 L314.7,58.5 L315.2,65.2 L315.7,72.5 L316.2,79.6 L316.7,86.1 L317.2,91.7 L317.7,96.4 L318.2,100 L318.7,102.8 L319.2,104.9 L319.7,106.4 L320.2,107.4 L320.7,108.1 L321.2,108.6 L321.7,108.9 L322.2,109 L322.7,109.2 L323.2,109.2 L323.7,109.3 L324.2,109.3 L324.7,109.3 L325.2,109.3 L325.7,109.3 L326.2,109.3 L326.7,109.3 L327.2,109.3 L327.7,109.3 L328.2,109.3 L328.7,109.3 L329.2,109.3 L329.7,109.3 L330.2,109.3 L330.7,109.3 L331.2,109.3 L331.7,109.3 L332.2,109.3 L332.7,109.3 L333.2,109.3 L333.7,109.3 L334.2,109.3 L334.7,109.3 L335.2,109.3 L335.7,109.3 L336.2,109.3" fill="none" stroke="#9e1d3b" stroke-width="1.25" stroke-linejoin="round"/>
</g>
<rect x="269.7" y="43.9" width="66.5" height="65.4" fill="none" stroke="#000" stroke-width="1.2"/>
<path d="M266.5,52.3H269.7 M266.5,71.2H269.7 M266.5,90.1H269.7 M266.5,108.9H269.7 M267.9,104.2H269.7 M267.9,99.5H269.7 M267.9,94.8H269.7 M267.9,85.4H269.7 M267.9,80.7H269.7 M267.9,76H269.7 M267.9,66.6H269.7 M267.9,61.9H269.7 M267.9,57.2H269.7 M267.9,47.8H269.7" stroke="#000" stroke-width="0.8"/>
<text x="264.4" y="54.4" font-size="6.0" text-anchor="end" fill="#222" style="stroke-width:0.2px">600</text>
<text x="264.4" y="73.3" font-size="6.0" text-anchor="end" fill="#222" style="stroke-width:0.2px">400</text>
<text x="264.4" y="92.2" font-size="6.0" text-anchor="end" fill="#222" style="stroke-width:0.2px">200</text>
<text x="264.4" y="111" font-size="6.0" text-anchor="end" fill="#222" style="stroke-width:0.2px">0</text>
<path d="M271.7,109.3v2.6 M285.2,109.3v2.6 M295.3,109.3v2.6 M312.8,109.3v2.6 M330.2,109.3v2.6 M300.6,109.3v1.6 M303.6,109.3v1.6 M305.8,109.3v1.6 M307.5,109.3v1.6 M308.9,109.3v1.6 M310,109.3v1.6 M311.1,109.3v1.6 M312,109.3v1.6 M318.1,109.3v1.6 M321.1,109.3v1.6 M323.3,109.3v1.6 M325,109.3v1.6 M326.4,109.3v1.6 M327.5,109.3v1.6 M328.6,109.3v1.6 M329.5,109.3v1.6 M287.5,109.3v1.6 M282.1,109.3v1.6 M289.3,109.3v1.6 M279.7,109.3v1.6 M290.7,109.3v1.6 M277.9,109.3v1.6 M291.7,109.3v1.6 M276.5,109.3v1.6 M292.6,109.3v1.6 M275.3,109.3v1.6 M293.3,109.3v1.6 M274.4,109.3v1.6 M293.9,109.3v1.6 M273.6,109.3v1.6 M294.4,109.3v1.6 M272.9,109.3v1.6 M294.9,109.3v1.6 M272.3,109.3v1.6" stroke="#000" stroke-width="0.75"/>
<text x="266.1" y="121.1" font-size="6.0" fill="#222" style="stroke-width:0.2px">-10</text>
<text x="275" y="118.3" font-size="4.3" fill="#222" style="stroke-width:0.12px">3</text>
<text x="285.7" y="121.1" font-size="6.0" text-anchor="middle" fill="#222" style="stroke-width:0.2px">0</text>
<text x="291.1" y="121.1" font-size="6.0" fill="#222" style="stroke-width:0.2px">10</text>
<text x="298" y="118.3" font-size="4.3" fill="#222" style="stroke-width:0.12px">3</text>
<text x="309.2" y="121.1" font-size="6.0" fill="#222" style="stroke-width:0.2px">10</text>
<text x="316.1" y="118.3" font-size="4.3" fill="#222" style="stroke-width:0.12px">4</text>
<text x="325.3" y="121.1" font-size="6.0" fill="#222" style="stroke-width:0.2px">10</text>
<text x="332.2" y="118.3" font-size="4.3" fill="#222" style="stroke-width:0.12px">5</text>
<text transform="translate(250.1,76.9) rotate(-90)" font-size="9.0" text-anchor="middle" textLength="21.4" lengthAdjust="spacingAndGlyphs" fill="#111" style="stroke-width:0.15px">Count</text>
<clipPath id="c10"><rect x="69.7" y="131.5" width="66.5" height="66"/></clipPath>
<g clip-path="url(#c10)">
<path d="M69.7,197.5 L69.7,197.5 70.2,197.5 70.7,197.5 71.2,197.5 71.7,197.5 72.2,197.5 72.7,197.5 73.2,197.5 73.7,197.5 74.2,197.5 74.7,197.5 75.2,197.5 75.7,197.5 76.2,197.5 76.7,197.5 77.2,197.5 77.7,197.5 78.2,197.5 78.7,197.5 79.2,197.5 79.7,197.5 80.2,197.5 80.7,197.5 81.2,197.5 81.7,197.5 82.2,197.4 82.7,197.2 83.2,196.6 83.7,195.3 84.2,193.2 84.7,191.5 85.2,191.3 85.7,192.6 86.2,194.6 86.7,195.9 87.2,196.5 87.7,196.6 88.2,196.4 88.7,196.2 89.2,195.9 89.7,195.7 90.2,195.4 90.7,195.2 91.2,194.9 91.7,194.7 92.2,194.5 92.7,194.4 93.2,194.2 93.7,194 94.2,193.8 94.7,193.6 95.2,193.4 95.7,193.2 96.2,192.9 96.7,192.6 97.2,192.3 97.7,192 98.2,191.7 98.7,191.4 99.2,191.1 99.7,190.9 100.2,190.7 100.7,190.6 101.2,190.6 101.7,190.7 102.2,191.1 102.7,191.7 103.2,192.4 103.7,193.2 104.2,194 104.7,194.7 105.2,195.4 105.7,196 106.2,196.4 106.7,196.7 107.2,197 107.7,197.1 108.2,197.1 108.7,197 109.2,196.7 109.7,196.1 110.2,195 110.7,193.1 111.2,190.3 111.7,186.3 112.2,180.7 112.7,173.7 113.2,165.5 113.7,157.2 114.2,150 114.7,146.3 115.2,148.3 115.7,152.8 116.2,158.6 116.7,164.8 117.2,170.8 117.7,176.2 118.2,180.8 118.7,184.6 119.2,187.7 119.7,190 120.2,191.8 120.7,193.1 121.2,194.2 121.7,194.9 122.2,195.5 122.7,196 123.2,196.4 123.7,196.7 124.2,196.9 124.7,197.1 125.2,197.2 125.7,197.3 126.2,197.4 126.7,197.4 127.2,197.4 127.7,197.5 128.2,197.5 128.7,197.5 129.2,197.5 129.7,197.5 130.2,197.5 130.7,197.5 131.2,197.5 131.7,197.5 132.2,197.5 132.7,197.5 133.2,197.5 133.7,197.5 134.2,197.5 134.7,197.5 135.2,197.5 135.7,197.5 L135.7,197.5 Z" fill="#a2a7d2"/>
<path d="M69.7,197.5 L69.7,197.5 70.2,197.5 70.7,197.5 71.2,197.5 71.7,197.5 72.2,197.5 72.7,197.5 73.2,197.5 73.7,197.5 74.2,197.5 74.7,197.5 75.2,197.5 75.7,197.5 76.2,197.5 76.7,197.5 77.2,197.5 77.7,197.5 78.2,197.5 78.7,197.5 79.2,197.5 79.7,197.5 80.2,197.5 80.7,197.5 81.2,197.5 81.7,197.5 82.2,197.5 82.7,197.3 83.2,196.9 83.7,195.9 84.2,194.4 84.7,193.1 85.2,193 85.7,194 86.2,195.3 86.7,196.3 87.2,196.7 87.7,196.8 88.2,196.6 88.7,196.5 89.2,196.3 89.7,196.1 90.2,195.9 90.7,195.8 91.2,195.6 91.7,195.5 92.2,195.5 92.7,195.4 93.2,195.3 93.7,195.3 94.2,195.2 94.7,195.2 95.2,195 95.7,194.9 96.2,194.7 96.7,194.5 97.2,194.2 97.7,193.9 98.2,193.6 98.7,193.3 99.2,193 99.7,192.7 100.2,192.5 100.7,192.3 101.2,192.1 101.7,192 102.2,192 102.7,192.1 103.2,192.4 103.7,192.8 104.2,193.4 104.7,194 105.2,194.7 105.7,195.3 106.2,195.8 106.7,196.2 107.2,196.5 107.7,196.7 108.2,196.7 108.7,196.3 109.2,195.6 109.7,194.1 110.2,191.6 110.7,187.7 111.2,181.9 111.7,174.1 112.2,164.3 112.7,153.4 113.2,143.1 113.7,135.8 114.2,135.8 114.7,140.8 115.2,147.9 115.7,155.9 116.2,163.8 116.7,171 117.2,177.1 117.7,182.1 118.2,186 118.7,189 119.2,191.2 119.7,192.8 120.2,194 120.7,194.9 121.2,195.5 121.7,196 122.2,196.4 122.7,196.7 123.2,196.9 123.7,197.1 124.2,197.2 124.7,197.3 125.2,197.4 125.7,197.4 126.2,197.4 126.7,197.5 127.2,197.5 127.7,197.5 128.2,197.5 128.7,197.5 129.2,197.5 129.7,197.5 130.2,197.5 130.7,197.5 131.2,197.5 131.7,197.5 132.2,197.5 132.7,197.5 133.2,197.5 133.7,197.5 134.2,197.5 134.7,197.5 135.2,197.5 135.7,197.5 L135.7,197.5 Z" fill="#e59d90"/>
<path d="M69.7,197.5 L69.7,197.5 70.2,197.5 70.7,197.5 71.2,197.5 71.7,197.5 72.2,197.5 72.7,197.5 73.2,197.5 73.7,197.5 74.2,197.5 74.7,197.5 75.2,197.5 75.7,197.5 76.2,197.5 76.7,197.5 77.2,197.5 77.7,197.5 78.2,197.5 78.7,197.5 79.2,197.5 79.7,197.5 80.2,197.5 80.7,197.5 81.2,197.5 81.7,197.5 82.2,197.5 82.7,197.3 83.2,196.9 83.7,195.9 84.2,194.4 84.7,193.1 85.2,193 85.7,194 86.2,195.3 86.7,196.3 87.2,196.7 87.7,196.8 88.2,196.6 88.7,196.5 89.2,196.3 89.7,196.1 90.2,195.9 90.7,195.8 91.2,195.6 91.7,195.5 92.2,195.5 92.7,195.4 93.2,195.3 93.7,195.3 94.2,195.2 94.7,195.2 95.2,195 95.7,194.9 96.2,194.7 96.7,194.5 97.2,194.2 97.7,193.9 98.2,193.6 98.7,193.3 99.2,193 99.7,192.7 100.2,192.5 100.7,192.3 101.2,192.1 101.7,192 102.2,192 102.7,192.1 103.2,192.4 103.7,193.2 104.2,194 104.7,194.7 105.2,195.4 105.7,196 106.2,196.4 106.7,196.7 107.2,197 107.7,197.1 108.2,197.1 108.7,197 109.2,196.7 109.7,196.1 110.2,195 110.7,193.1 111.2,190.3 111.7,186.3 112.2,180.7 112.7,173.7 113.2,165.5 113.7,157.2 114.2,150 114.7,146.3 115.2,148.3 115.7,155.9 116.2,163.8 116.7,171 117.2,177.1 117.7,182.1 118.2,186 118.7,189 119.2,191.2 119.7,192.8 120.2,194 120.7,194.9 121.2,195.5 121.7,196 122.2,196.4 122.7,196.7 123.2,196.9 123.7,197.1 124.2,197.2 124.7,197.3 125.2,197.4 125.7,197.4 126.2,197.4 126.7,197.5 127.2,197.5 127.7,197.5 128.2,197.5 128.7,197.5 129.2,197.5 129.7,197.5 130.2,197.5 130.7,197.5 131.2,197.5 131.7,197.5 132.2,197.5 132.7,197.5 133.2,197.5 133.7,197.5 134.2,197.5 134.7,197.5 135.2,197.5 135.7,197.5 L135.7,197.5 Z" fill="#aea99f"/>
<path d="M69.7,197.5 L70.2,197.5 L70.7,197.5 L71.2,197.5 L71.7,197.5 L72.2,197.5 L72.7,197.5 L73.2,197.5 L73.7,197.5 L74.2,197.5 L74.7,197.5 L75.2,197.5 L75.7,197.5 L76.2,197.5 L76.7,197.5 L77.2,197.5 L77.7,197.5 L78.2,197.5 L78.7,197.5 L79.2,197.5 L79.7,197.5 L80.2,197.5 L80.7,197.5 L81.2,197.5 L81.7,197.5 L82.2,197.4 L82.7,197.2 L83.2,196.6 L83.7,195.3 L84.2,193.2 L84.7,191.5 L85.2,191.3 L85.7,192.6 L86.2,194.6 L86.7,195.9 L87.2,196.5 L87.7,196.6 L88.2,196.4 L88.7,196.2 L89.2,195.9 L89.7,195.7 L90.2,195.4 L90.7,195.2 L91.2,194.9 L91.7,194.7 L92.2,194.5 L92.7,194.4 L93.2,194.2 L93.7,194 L94.2,193.8 L94.7,193.6 L95.2,193.4 L95.7,193.2 L96.2,192.9 L96.7,192.6 L97.2,192.3 L97.7,192 L98.2,191.7 L98.7,191.4 L99.2,191.1 L99.7,190.9 L100.2,190.7 L100.7,190.6 L101.2,190.6 L101.7,190.7 L102.2,191.1 L102.7,191.7 L103.2,192.4 L103.7,193.2 L104.2,194 L104.7,194.7 L105.2,195.4 L105.7,196 L106.2,196.4 L106.7,196.7 L107.2,197 L107.7,197.1 L108.2,197.1 L108.7,197 L109.2,196.7 L109.7,196.1 L110.2,195 L110.7,193.1 L111.2,190.3 L111.7,186.3 L112.2,180.7 L112.7,173.7 L113.2,165.5 L113.7,157.2 L114.2,150 L114.7,146.3 L115.2,148.3 L115.7,152.8 L116.2,158.6 L116.7,164.8 L117.2,170.8 L117.7,176.2 L118.2,180.8 L118.7,184.6 L119.2,187.7 L119.7,190 L120.2,191.8 L120.7,193.1 L121.2,194.2 L121.7,194.9 L122.2,195.5 L122.7,196 L123.2,196.4 L123.7,196.7 L124.2,196.9 L124.7,197.1 L125.2,197.2 L125.7,197.3 L126.2,197.4 L126.7,197.4 L127.2,197.4 L127.7,197.5 L128.2,197.5 L128.7,197.5 L129.2,197.5 L129.7,197.5 L130.2,197.5 L130.7,197.5 L131.2,197.5 L131.7,197.5 L132.2,197.5 L132.7,197.5 L133.2,197.5 L133.7,197.5 L134.2,197.5 L134.7,197.5 L135.2,197.5 L135.7,197.5" fill="none" stroke="#29345f" stroke-width="1.25" stroke-linejoin="round"/>
<path d="M69.7,197.5 L70.2,197.5 L70.7,197.5 L71.2,197.5 L71.7,197.5 L72.2,197.5 L72.7,197.5 L73.2,197.5 L73.7,197.5 L74.2,197.5 L74.7,197.5 L75.2,197.5 L75.7,197.5 L76.2,197.5 L76.7,197.5 L77.2,197.5 L77.7,197.5 L78.2,197.5 L78.7,197.5 L79.2,197.5 L79.7,197.5 L80.2,197.5 L80.7,197.5 L81.2,197.5 L81.7,197.5 L82.2,197.5 L82.7,197.3 L83.2,196.9 L83.7,195.9 L84.2,194.4 L84.7,193.1 L85.2,193 L85.7,194 L86.2,195.3 L86.7,196.3 L87.2,196.7 L87.7,196.8 L88.2,196.6 L88.7,196.5 L89.2,196.3 L89.7,196.1 L90.2,195.9 L90.7,195.8 L91.2,195.6 L91.7,195.5 L92.2,195.5 L92.7,195.4 L93.2,195.3 L93.7,195.3 L94.2,195.2 L94.7,195.2 L95.2,195 L95.7,194.9 L96.2,194.7 L96.7,194.5 L97.2,194.2 L97.7,193.9 L98.2,193.6 L98.7,193.3 L99.2,193 L99.7,192.7 L100.2,192.5 L100.7,192.3 L101.2,192.1 L101.7,192 L102.2,192 L102.7,192.1 L103.2,192.4 L103.7,192.8 L104.2,193.4 L104.7,194 L105.2,194.7 L105.7,195.3 L106.2,195.8 L106.7,196.2 L107.2,196.5 L107.7,196.7 L108.2,196.7 L108.7,196.3 L109.2,195.6 L109.7,194.1 L110.2,191.6 L110.7,187.7 L111.2,181.9 L111.7,174.1 L112.2,164.3 L112.7,153.4 L113.2,143.1 L113.7,135.8 L114.2,135.8 L114.7,140.8 L115.2,147.9 L115.7,155.9 L116.2,163.8 L116.7,171 L117.2,177.1 L117.7,182.1 L118.2,186 L118.7,189 L119.2,191.2 L119.7,192.8 L120.2,194 L120.7,194.9 L121.2,195.5 L121.7,196 L122.2,196.4 L122.7,196.7 L123.2,196.9 L123.7,197.1 L124.2,197.2 L124.7,197.3 L125.2,197.4 L125.7,197.4 L126.2,197.4 L126.7,197.5 L127.2,197.5 L127.7,197.5 L128.2,197.5 L128.7,197.5 L129.2,197.5 L129.7,197.5 L130.2,197.5 L130.7,197.5 L131.2,197.5 L131.7,197.5 L132.2,197.5 L132.7,197.5 L133.2,197.5 L133.7,197.5 L134.2,197.5 L134.7,197.5 L135.2,197.5 L135.7,197.5" fill="none" stroke="#9e1d3b" stroke-width="1.25" stroke-linejoin="round"/>
</g>
<rect x="69.7" y="131.5" width="66.5" height="66" fill="none" stroke="#000" stroke-width="1.2"/>
<path d="M66.5,147.6H69.7 M66.5,164.3H69.7 M66.5,180.8H69.7 M66.5,197.4H69.7 M67.9,193.2H69.7 M67.9,189.1H69.7 M67.9,185H69.7 M67.9,176.7H69.7 M67.9,172.5H69.7 M67.9,168.4H69.7 M67.9,160.1H69.7 M67.9,155.9H69.7 M67.9,151.8H69.7 M67.9,143.5H69.7 M67.9,139.3H69.7 M67.9,135.2H69.7" stroke="#000" stroke-width="0.8"/>
<text x="64.4" y="149.7" font-size="6.0" text-anchor="end" fill="#222" style="stroke-width:0.2px">600</text>
<text x="64.4" y="166.4" font-size="6.0" text-anchor="end" fill="#222" style="stroke-width:0.2px">400</text>
<text x="64.4" y="182.9" font-size="6.0" text-anchor="end" fill="#222" style="stroke-width:0.2px">200</text>
<text x="64.4" y="199.5" font-size="6.0" text-anchor="end" fill="#222" style="stroke-width:0.2px">0</text>
<path d="M71.7,197.5v2.6 M85.2,197.5v2.6 M95.3,197.5v2.6 M112.8,197.5v2.6 M130.2,197.5v2.6 M100.6,197.5v1.6 M103.6,197.5v1.6 M105.8,197.5v1.6 M107.5,197.5v1.6 M108.9,197.5v1.6 M110,197.5v1.6 M111.1,197.5v1.6 M112,197.5v1.6 M118.1,197.5v1.6 M121.1,197.5v1.6 M123.3,197.5v1.6 M125,197.5v1.6 M126.4,197.5v1.6 M127.5,197.5v1.6 M128.6,197.5v1.6 M129.5,197.5v1.6 M87.5,197.5v1.6 M82.1,197.5v1.6 M89.3,197.5v1.6 M79.7,197.5v1.6 M90.7,197.5v1.6 M77.9,197.5v1.6 M91.7,197.5v1.6 M76.5,197.5v1.6 M92.6,197.5v1.6 M75.3,197.5v1.6 M93.3,197.5v1.6 M74.4,197.5v1.6 M93.9,197.5v1.6 M73.6,197.5v1.6 M94.4,197.5v1.6 M72.9,197.5v1.6 M94.9,197.5v1.6 M72.3,197.5v1.6" stroke="#000" stroke-width="0.75"/>
<text x="66.1" y="209.3" font-size="6.0" fill="#222" style="stroke-width:0.2px">-10</text>
<text x="75" y="206.5" font-size="4.3" fill="#222" style="stroke-width:0.12px">3</text>
<text x="85.7" y="209.3" font-size="6.0" text-anchor="middle" fill="#222" style="stroke-width:0.2px">0</text>
<text x="91.1" y="209.3" font-size="6.0" fill="#222" style="stroke-width:0.2px">10</text>
<text x="98" y="206.5" font-size="4.3" fill="#222" style="stroke-width:0.12px">3</text>
<text x="109.2" y="209.3" font-size="6.0" fill="#222" style="stroke-width:0.2px">10</text>
<text x="116.1" y="206.5" font-size="4.3" fill="#222" style="stroke-width:0.12px">4</text>
<text x="125.3" y="209.3" font-size="6.0" fill="#222" style="stroke-width:0.2px">10</text>
<text x="132.2" y="206.5" font-size="4.3" fill="#222" style="stroke-width:0.12px">5</text>
<text transform="translate(50.1,164.8) rotate(-90)" font-size="9.0" text-anchor="middle" textLength="21.4" lengthAdjust="spacingAndGlyphs" fill="#111" style="stroke-width:0.15px">Count</text>
<clipPath id="c11"><rect x="167.7" y="131.3" width="66.1" height="66.2"/></clipPath>
<g clip-path="url(#c11)">
<path d="M167.7,197.5 L167.7,197.5 168.2,197.5 168.7,197.5 169.2,197.5 169.7,197.5 170.2,197.5 170.7,197.5 171.2,197.5 171.7,197.5 172.2,197.5 172.7,197.5 173.2,197.5 173.7,197.5 174.2,197.5 174.7,197.5 175.2,197.5 175.7,197.5 176.2,197.5 176.7,197.5 177.2,197.5 177.7,197.5 178.2,197.5 178.7,197.5 179.2,197.5 179.7,197.5 180.2,197.5 180.7,197.4 181.2,197.3 181.7,196.9 182.2,196.2 182.7,195.3 183.2,194.6 183.7,194.6 184.2,195.2 184.7,196 185.2,196.8 185.7,197.2 186.2,197.4 186.7,197.5 187.2,197.5 187.7,197.5 188.2,197.4 188.7,197.4 189.2,197.3 189.7,197.2 190.2,197.1 190.7,196.9 191.2,196.6 191.7,196.3 192.2,195.8 192.7,195.2 193.2,194.4 193.7,193.5 194.2,192.4 194.7,191.2 195.2,189.8 195.7,188.4 196.2,187 196.7,185.7 197.2,184.4 197.7,183.4 198.2,182.6 198.7,182.1 199.2,182 199.7,182.5 200.2,183.5 200.7,185.1 201.2,186.9 201.7,188.7 202.2,190.5 202.7,191.9 203.2,193.1 203.7,193.9 204.2,194.4 204.7,194.7 205.2,194.8 205.7,194.9 206.2,194.9 206.7,194.9 207.2,194.9 207.7,194.9 208.2,194.8 208.7,194.6 209.2,194.2 209.7,193.3 210.2,191.9 210.7,189.6 211.2,186.2 211.7,181.6 212.2,175.6 212.7,168.5 213.2,160.6 213.7,152.9 214.2,146.5 214.7,143.4 215.2,145.5 215.7,149.8 216.2,155.4 216.7,161.5 217.2,167.6 217.7,173.4 218.2,178.6 218.7,183 219.2,186.7 219.7,189.6 220.2,191.9 220.7,193.6 221.2,194.8 221.7,195.7 222.2,196.3 222.7,196.8 223.2,197 223.7,197.2 224.2,197.3 224.7,197.4 225.2,197.4 225.7,197.5 226.2,197.5 226.7,197.5 227.2,197.5 227.7,197.5 228.2,197.5 228.7,197.5 229.2,197.5 229.7,197.5 230.2,197.5 230.7,197.5 231.2,197.5 231.7,197.5 232.2,197.5 232.7,197.5 233.2,197.5 233.7,197.5 L233.7,197.5 Z" fill="#a2a7d2"/>
<path d="M167.7,197.5 L167.7,197.5 168.2,197.5 168.7,197.5 169.2,197.5 169.7,197.5 170.2,197.5 170.7,197.5 171.2,197.5 171.7,197.5 172.2,197.5 172.7,197.5 173.2,197.5 173.7,197.5 174.2,197.5 174.7,197.5 175.2,197.5 175.7,197.5 176.2,197.5 176.7,197.5 177.2,197.5 177.7,197.5 178.2,197.5 178.7,197.5 179.2,197.5 179.7,197.5 180.2,197.5 180.7,197.5 181.2,197.3 181.7,197 182.2,196.4 182.7,195.7 183.2,195.1 183.7,195 184.2,195.5 184.7,196.3 185.2,196.9 185.7,197.3 186.2,197.4 186.7,197.5 187.2,197.5 187.7,197.5 188.2,197.5 188.7,197.4 189.2,197.4 189.7,197.4 190.2,197.3 190.7,197.3 191.2,197.2 191.7,197.1 192.2,196.9 192.7,196.8 193.2,196.6 193.7,196.3 194.2,196 194.7,195.6 195.2,195.2 195.7,194.7 196.2,194.1 196.7,193.5 197.2,192.8 197.7,192 198.2,191.2 198.7,190.4 199.2,189.6 199.7,188.8 200.2,188 200.7,187.3 201.2,186.7 201.7,186.1 202.2,185.7 202.7,185.4 203.2,185.3 203.7,185.4 204.2,186.1 204.7,187.4 205.2,189 205.7,190.7 206.2,192.2 206.7,193.3 207.2,194.1 207.7,194.4 208.2,194.3 208.7,193.8 209.2,192.6 209.7,190.6 210.2,187.5 210.7,183 211.2,176.9 211.7,169.1 212.2,159.9 212.7,150.2 213.2,141.4 213.7,135.4 214.2,135.6 214.7,140.1 215.2,146.4 215.7,153.7 216.2,161.2 216.7,168.3 217.2,174.7 217.7,180.2 218.2,184.7 218.7,188.3 219.2,191 219.7,193.1 220.2,194.5 220.7,195.5 221.2,196.2 221.7,196.7 222.2,197 222.7,197.2 223.2,197.3 223.7,197.4 224.2,197.4 224.7,197.5 225.2,197.5 225.7,197.5 226.2,197.5 226.7,197.5 227.2,197.5 227.7,197.5 228.2,197.5 228.7,197.5 229.2,197.5 229.7,197.5 230.2,197.5 230.7,197.5 231.2,197.5 231.7,197.5 232.2,197.5 232.7,197.5 233.2,197.5 233.7,197.5 L233.7,197.5 Z" fill="#e59d90"/>
<path d="M167.7,197.5 L167.7,197.5 168.2,197.5 168.7,197.5 169.2,197.5 169.7,197.5 170.2,197.5 170.7,197.5 171.2,197.5 171.7,197.5 172.2,197.5 172.7,197.5 173.2,197.5 173.7,197.5 174.2,197.5 174.7,197.5 175.2,197.5 175.7,197.5 176.2,197.5 176.7,197.5 177.2,197.5 177.7,197.5 178.2,197.5 178.7,197.5 179.2,197.5 179.7,197.5 180.2,197.5 180.7,197.5 181.2,197.3 181.7,197 182.2,196.4 182.7,195.7 183.2,195.1 183.7,195 184.2,195.5 184.7,196.3 185.2,196.9 185.7,197.3 186.2,197.4 186.7,197.5 187.2,197.5 187.7,197.5 188.2,197.5 188.7,197.4 189.2,197.4 189.7,197.4 190.2,197.3 190.7,197.3 191.2,197.2 191.7,197.1 192.2,196.9 192.7,196.8 193.2,196.6 193.7,196.3 194.2,196 194.7,195.6 195.2,195.2 195.7,194.7 196.2,194.1 196.7,193.5 197.2,192.8 197.7,192 198.2,191.2 198.7,190.4 199.2,189.6 199.7,188.8 200.2,188 200.7,187.3 201.2,186.9 201.7,188.7 202.2,190.5 202.7,191.9 203.2,193.1 203.7,193.9 204.2,194.4 204.7,194.7 205.2,194.8 205.7,194.9 206.2,194.9 206.7,194.9 207.2,194.9 207.7,194.9 208.2,194.8 208.7,194.6 209.2,194.2 209.7,193.3 210.2,191.9 210.7,189.6 211.2,186.2 211.7,181.6 212.2,175.6 212.7,168.5 213.2,160.6 213.7,152.9 214.2,146.5 214.7,143.4 215.2,146.4 215.7,153.7 216.2,161.2 216.7,168.3 217.2,174.7 217.7,180.2 218.2,184.7 218.7,188.3 219.2,191 219.7,193.1 220.2,194.5 220.7,195.5 221.2,196.2 221.7,196.7 222.2,197 222.7,197.2 223.2,197.3 223.7,197.4 224.2,197.4 224.7,197.5 225.2,197.5 225.7,197.5 226.2,197.5 226.7,197.5 227.2,197.5 227.7,197.5 228.2,197.5 228.7,197.5 229.2,197.5 229.7,197.5 230.2,197.5 230.7,197.5 231.2,197.5 231.7,197.5 232.2,197.5 232.7,197.5 233.2,197.5 233.7,197.5 L233.7,197.5 Z" fill="#aea99f"/>
<path d="M167.7,197.5 L168.2,197.5 L168.7,197.5 L169.2,197.5 L169.7,197.5 L170.2,197.5 L170.7,197.5 L171.2,197.5 L171.7,197.5 L172.2,197.5 L172.7,197.5 L173.2,197.5 L173.7,197.5 L174.2,197.5 L174.7,197.5 L175.2,197.5 L175.7,197.5 L176.2,197.5 L176.7,197.5 L177.2,197.5 L177.7,197.5 L178.2,197.5 L178.7,197.5 L179.2,197.5 L179.7,197.5 L180.2,197.5 L180.7,197.4 L181.2,197.3 L181.7,196.9 L182.2,196.2 L182.7,195.3 L183.2,194.6 L183.7,194.6 L184.2,195.2 L184.7,196 L185.2,196.8 L185.7,197.2 L186.2,197.4 L186.7,197.5 L187.2,197.5 L187.7,197.5 L188.2,197.4 L188.7,197.4 L189.2,197.3 L189.7,197.2 L190.2,197.1 L190.7,196.9 L191.2,196.6 L191.7,196.3 L192.2,195.8 L192.7,195.2 L193.2,194.4 L193.7,193.5 L194.2,192.4 L194.7,191.2 L195.2,189.8 L195.7,188.4 L196.2,187 L196.7,185.7 L197.2,184.4 L197.7,183.4 L198.2,182.6 L198.7,182.1 L199.2,182 L199.7,182.5 L200.2,183.5 L200.7,185.1 L201.2,186.9 L201.7,188.7 L202.2,190.5 L202.7,191.9 L203.2,193.1 L203.7,193.9 L204.2,194.4 L204.7,194.7 L205.2,194.8 L205.7,194.9 L206.2,194.9 L206.7,194.9 L207.2,194.9 L207.7,194.9 L208.2,194.8 L208.7,194.6 L209.2,194.2 L209.7,193.3 L210.2,191.9 L210.7,189.6 L211.2,186.2 L211.7,181.6 L212.2,175.6 L212.7,168.5 L213.2,160.6 L213.7,152.9 L214.2,146.5 L214.7,143.4 L215.2,145.5 L215.7,149.8 L216.2,155.4 L216.7,161.5 L217.2,167.6 L217.7,173.4 L218.2,178.6 L218.7,183 L219.2,186.7 L219.7,189.6 L220.2,191.9 L220.7,193.6 L221.2,194.8 L221.7,195.7 L222.2,196.3 L222.7,196.8 L223.2,197 L223.7,197.2 L224.2,197.3 L224.7,197.4 L225.2,197.4 L225.7,197.5 L226.2,197.5 L226.7,197.5 L227.2,197.5 L227.7,197.5 L228.2,197.5 L228.7,197.5 L229.2,197.5 L229.7,197.5 L230.2,197.5 L230.7,197.5 L231.2,197.5 L231.7,197.5 L232.2,197.5 L232.7,197.5 L233.2,197.5 L233.7,197.5" fill="none" stroke="#29345f" stroke-width="1.25" stroke-linejoin="round"/>
<path d="M167.7,197.5 L168.2,197.5 L168.7,197.5 L169.2,197.5 L169.7,197.5 L170.2,197.5 L170.7,197.5 L171.2,197.5 L171.7,197.5 L172.2,197.5 L172.7,197.5 L173.2,197.5 L173.7,197.5 L174.2,197.5 L174.7,197.5 L175.2,197.5 L175.7,197.5 L176.2,197.5 L176.7,197.5 L177.2,197.5 L177.7,197.5 L178.2,197.5 L178.7,197.5 L179.2,197.5 L179.7,197.5 L180.2,197.5 L180.7,197.5 L181.2,197.3 L181.7,197 L182.2,196.4 L182.7,195.7 L183.2,195.1 L183.7,195 L184.2,195.5 L184.7,196.3 L185.2,196.9 L185.7,197.3 L186.2,197.4 L186.7,197.5 L187.2,197.5 L187.7,197.5 L188.2,197.5 L188.7,197.4 L189.2,197.4 L189.7,197.4 L190.2,197.3 L190.7,197.3 L191.2,197.2 L191.7,197.1 L192.2,196.9 L192.7,196.8 L193.2,196.6 L193.7,196.3 L194.2,196 L194.7,195.6 L195.2,195.2 L195.7,194.7 L196.2,194.1 L196.7,193.5 L197.2,192.8 L197.7,192 L198.2,191.2 L198.7,190.4 L199.2,189.6 L199.7,188.8 L200.2,188 L200.7,187.3 L201.2,186.7 L201.7,186.1 L202.2,185.7 L202.7,185.4 L203.2,185.3 L203.7,185.4 L204.2,186.1 L204.7,187.4 L205.2,189 L205.7,190.7 L206.2,192.2 L206.7,193.3 L207.2,194.1 L207.7,194.4 L208.2,194.3 L208.7,193.8 L209.2,192.6 L209.7,190.6 L210.2,187.5 L210.7,183 L211.2,176.9 L211.7,169.1 L212.2,159.9 L212.7,150.2 L213.2,141.4 L213.7,135.4 L214.2,135.6 L214.7,140.1 L215.2,146.4 L215.7,153.7 L216.2,161.2 L216.7,168.3 L217.2,174.7 L217.7,180.2 L218.2,184.7 L218.7,188.3 L219.2,191 L219.7,193.1 L220.2,194.5 L220.7,195.5 L221.2,196.2 L221.7,196.7 L222.2,197 L222.7,197.2 L223.2,197.3 L223.7,197.4 L224.2,197.4 L224.7,197.5 L225.2,197.5 L225.7,197.5 L226.2,197.5 L226.7,197.5 L227.2,197.5 L227.7,197.5 L228.2,197.5 L228.7,197.5 L229.2,197.5 L229.7,197.5 L230.2,197.5 L230.7,197.5 L231.2,197.5 L231.7,197.5 L232.2,197.5 L232.7,197.5 L233.2,197.5 L233.7,197.5" fill="none" stroke="#9e1d3b" stroke-width="1.25" stroke-linejoin="round"/>
</g>
<rect x="167.7" y="131.3" width="66.1" height="66.2" fill="none" stroke="#000" stroke-width="1.2"/>
<path d="M164.5,140.5H167.7 M164.5,159.3H167.7 M164.5,178.1H167.7 M164.5,196.9H167.7 M165.9,192.2H167.7 M165.9,187.5H167.7 M165.9,182.8H167.7 M165.9,173.4H167.7 M165.9,168.7H167.7 M165.9,164H167.7 M165.9,154.6H167.7 M165.9,149.9H167.7 M165.9,145.2H167.7 M165.9,135.8H167.7" stroke="#000" stroke-width="0.8"/>
<text x="162.4" y="142.6" font-size="6.0" text-anchor="end" fill="#222" style="stroke-width:0.2px">600</text>
<text x="162.4" y="161.4" font-size="6.0" text-anchor="end" fill="#222" style="stroke-width:0.2px">400</text>
<text x="162.4" y="180.2" font-size="6.0" text-anchor="end" fill="#222" style="stroke-width:0.2px">200</text>
<text x="162.4" y="199" font-size="6.0" text-anchor="end" fill="#222" style="stroke-width:0.2px">0</text>
<path d="M169.7,197.5v2.6 M183.1,197.5v2.6 M193.1,197.5v2.6 M210.5,197.5v2.6 M227.8,197.5v2.6 M198.4,197.5v1.6 M201.4,197.5v1.6 M203.6,197.5v1.6 M205.3,197.5v1.6 M206.6,197.5v1.6 M207.8,197.5v1.6 M208.8,197.5v1.6 M209.7,197.5v1.6 M215.8,197.5v1.6 M218.8,197.5v1.6 M221,197.5v1.6 M222.7,197.5v1.6 M224,197.5v1.6 M225.2,197.5v1.6 M226.2,197.5v1.6 M227.1,197.5v1.6 M185.4,197.5v1.6 M180,197.5v1.6 M187.2,197.5v1.6 M177.6,197.5v1.6 M188.5,197.5v1.6 M175.8,197.5v1.6 M189.6,197.5v1.6 M174.4,197.5v1.6 M190.4,197.5v1.6 M173.3,197.5v1.6 M191.1,197.5v1.6 M172.4,197.5v1.6 M191.7,197.5v1.6 M171.6,197.5v1.6 M192.3,197.5v1.6 M170.9,197.5v1.6 M192.7,197.5v1.6 M170.2,197.5v1.6" stroke="#000" stroke-width="0.75"/>
<text x="164.1" y="209.3" font-size="6.0" fill="#222" style="stroke-width:0.2px">-10</text>
<text x="173" y="206.5" font-size="4.3" fill="#222" style="stroke-width:0.12px">3</text>
<text x="183.6" y="209.3" font-size="6.0" text-anchor="middle" fill="#222" style="stroke-width:0.2px">0</text>
<text x="188.9" y="209.3" font-size="6.0" fill="#222" style="stroke-width:0.2px">10</text>
<text x="195.9" y="206.5" font-size="4.3" fill="#222" style="stroke-width:0.12px">3</text>
<text x="206.9" y="209.3" font-size="6.0" fill="#222" style="stroke-width:0.2px">10</text>
<text x="213.9" y="206.5" font-size="4.3" fill="#222" style="stroke-width:0.12px">4</text>
<text x="222.9" y="209.3" font-size="6.0" fill="#222" style="stroke-width:0.2px">10</text>
<text x="229.9" y="206.5" font-size="4.3" fill="#222" style="stroke-width:0.12px">5</text>
<text transform="translate(148.1,164.7) rotate(-90)" font-size="9.0" text-anchor="middle" textLength="21.4" lengthAdjust="spacingAndGlyphs" fill="#111" style="stroke-width:0.15px">Count</text>
<clipPath id="c12"><rect x="269.7" y="131.3" width="66.5" height="66.2"/></clipPath>
<g clip-path="url(#c12)">
<path d="M269.7,197.5 L269.7,197.5 270.2,197.5 270.7,197.5 271.2,197.5 271.7,197.5 272.2,197.5 272.7,197.5 273.2,197.5 273.7,197.5 274.2,197.5 274.7,197.5 275.2,197.5 275.7,197.5 276.2,197.5 276.7,197.5 277.2,197.5 277.7,197.5 278.2,197.5 278.7,197.5 279.2,197.5 279.7,197.5 280.2,197.5 280.7,197.5 281.2,197.5 281.7,197.5 282.2,197.5 282.7,197.5 283.2,197.5 283.7,197.4 284.2,197.1 284.7,196.4 285.2,194.8 285.7,192.7 286.2,191.1 286.7,191.2 287.2,192.8 287.7,194.6 288.2,195.8 288.7,196.2 289.2,196.1 289.7,195.9 290.2,195.6 290.7,195.2 291.2,194.9 291.7,194.6 292.2,194.2 292.7,193.8 293.2,193.4 293.7,192.9 294.2,192.2 294.7,191.4 295.2,190.5 295.7,189.3 296.2,187.9 296.7,186.2 297.2,184.4 297.7,182.4 298.2,180.3 298.7,178.2 299.2,176.1 299.7,174.3 300.2,172.7 300.7,171.5 301.2,170.8 301.7,170.5 302.2,170.9 302.7,171.8 303.2,173.2 303.7,175.1 304.2,177.3 304.7,179.6 305.2,181.9 305.7,184.1 306.2,186 306.7,187.7 307.2,189.2 307.7,190.4 308.2,191.3 308.7,192.1 309.2,192.7 309.7,193.3 310.2,193.8 310.7,194.2 311.2,194.5 311.7,194.7 312.2,194.5 312.7,193.9 313.2,192.7 313.7,190.6 314.2,187.6 314.7,183.4 315.2,178 315.7,171.4 316.2,164.3 316.7,157.2 317.2,151.4 317.7,148.6 318.2,150.6 318.7,154.7 319.2,160 319.7,165.8 320.2,171.5 320.7,176.9 321.2,181.6 321.7,185.5 322.2,188.8 322.7,191.3 323.2,193.2 323.7,194.5 324.2,195.5 324.7,196.2 325.2,196.7 325.7,197 326.2,197.2 326.7,197.3 327.2,197.4 327.7,197.4 328.2,197.5 328.7,197.5 329.2,197.5 329.7,197.5 330.2,197.5 330.7,197.5 331.2,197.5 331.7,197.5 332.2,197.5 332.7,197.5 333.2,197.5 333.7,197.5 334.2,197.5 334.7,197.5 335.2,197.5 335.7,197.5 336.2,197.5 L336.2,197.5 Z" fill="#a2a7d2"/>
<path d="M269.7,197.5 L269.7,197.5 270.2,197.5 270.7,197.5 271.2,197.5 271.7,197.5 272.2,197.5 272.7,197.5 273.2,197.5 273.7,197.5 274.2,197.5 274.7,197.5 275.2,197.5 275.7,197.5 276.2,197.5 276.7,197.5 277.2,197.5 277.7,197.5 278.2,197.5 278.7,197.5 279.2,197.5 279.7,197.5 280.2,197.5 280.7,197.5 281.2,197.5 281.7,197.5 282.2,197.5 282.7,197.5 283.2,197.5 283.7,197.3 284.2,197 284.7,196.2 285.2,195 285.7,193.4 286.2,192.3 286.7,192.4 287.2,193.4 287.7,194.6 288.2,195.6 288.7,195.9 289.2,195.8 289.7,195.5 290.2,195 290.7,194.5 291.2,193.9 291.7,193.2 292.2,192.5 292.7,191.7 293.2,190.8 293.7,189.9 294.2,188.8 294.7,187.7 295.2,186.5 295.7,185.2 296.2,183.9 296.7,182.5 297.2,181.2 297.7,179.9 298.2,178.8 298.7,177.8 299.2,177 299.7,176.4 300.2,176.1 300.7,176.2 301.2,176.6 301.7,177.5 302.2,178.8 302.7,180.4 303.2,182.2 303.7,184 304.2,185.7 304.7,187.4 305.2,188.8 305.7,190 306.2,191 306.7,191.7 307.2,192.3 307.7,192.7 308.2,193.1 308.7,193.3 309.2,193.3 309.7,193 310.2,192.2 310.7,190.7 311.2,188.2 311.7,184.2 312.2,178.7 312.7,171.5 313.2,162.8 313.7,153.4 314.2,144.5 314.7,138 315.2,136.9 315.7,141 316.2,147.2 316.7,154.5 317.2,162.1 317.7,169.3 318.2,175.8 318.7,181.2 319.2,185.7 319.7,189.1 320.2,191.7 320.7,193.6 321.2,195 321.7,195.9 322.2,196.5 322.7,196.9 323.2,197.1 323.7,197.3 324.2,197.4 324.7,197.4 325.2,197.5 325.7,197.5 326.2,197.5 326.7,197.5 327.2,197.5 327.7,197.5 328.2,197.5 328.7,197.5 329.2,197.5 329.7,197.5 330.2,197.5 330.7,197.5 331.2,197.5 331.7,197.5 332.2,197.5 332.7,197.5 333.2,197.5 333.7,197.5 334.2,197.5 334.7,197.5 335.2,197.5 335.7,197.5 336.2,197.5 L336.2,197.5 Z" fill="#e59d90"/>
<path d="M269.7,197.5 L269.7,197.5 270.2,197.5 270.7,197.5 271.2,197.5 271.7,197.5 272.2,197.5 272.7,197.5 273.2,197.5 273.7,197.5 274.2,197.5 274.7,197.5 275.2,197.5 275.7,197.5 276.2,197.5 276.7,197.5 277.2,197.5 277.7,197.5 278.2,197.5 278.7,197.5 279.2,197.5 279.7,197.5 280.2,197.5 280.7,197.5 281.2,197.5 281.7,197.5 282.2,197.5 282.7,197.5 283.2,197.5 283.7,197.4 284.2,197.1 284.7,196.4 285.2,195 285.7,193.4 286.2,192.3 286.7,192.4 287.2,193.4 287.7,194.6 288.2,195.8 288.7,196.2 289.2,196.1 289.7,195.9 290.2,195.6 290.7,195.2 291.2,194.9 291.7,194.6 292.2,194.2 292.7,193.8 293.2,193.4 293.7,192.9 294.2,192.2 294.7,191.4 295.2,190.5 295.7,189.3 296.2,187.9 296.7,186.2 297.2,184.4 297.7,182.4 298.2,180.3 298.7,178.2 299.2,177 299.7,176.4 300.2,176.1 300.7,176.2 301.2,176.6 301.7,177.5 302.2,178.8 302.7,180.4 303.2,182.2 303.7,184 304.2,185.7 304.7,187.4 305.2,188.8 305.7,190 306.2,191 306.7,191.7 307.2,192.3 307.7,192.7 308.2,193.1 308.7,193.3 309.2,193.3 309.7,193.3 310.2,193.8 310.7,194.2 311.2,194.5 311.7,194.7 312.2,194.5 312.7,193.9 313.2,192.7 313.7,190.6 314.2,187.6 314.7,183.4 315.2,178 315.7,171.4 316.2,164.3 316.7,157.2 317.2,162.1 317.7,169.3 318.2,175.8 318.7,181.2 319.2,185.7 319.7,189.1 320.2,191.7 320.7,193.6 321.2,195 321.7,195.9 322.2,196.5 322.7,196.9 323.2,197.1 323.7,197.3 324.2,197.4 324.7,197.4 325.2,197.5 325.7,197.5 326.2,197.5 326.7,197.5 327.2,197.5 327.7,197.5 328.2,197.5 328.7,197.5 329.2,197.5 329.7,197.5 330.2,197.5 330.7,197.5 331.2,197.5 331.7,197.5 332.2,197.5 332.7,197.5 333.2,197.5 333.7,197.5 334.2,197.5 334.7,197.5 335.2,197.5 335.7,197.5 336.2,197.5 L336.2,197.5 Z" fill="#aea99f"/>
<path d="M269.7,197.5 L270.2,197.5 L270.7,197.5 L271.2,197.5 L271.7,197.5 L272.2,197.5 L272.7,197.5 L273.2,197.5 L273.7,197.5 L274.2,197.5 L274.7,197.5 L275.2,197.5 L275.7,197.5 L276.2,197.5 L276.7,197.5 L277.2,197.5 L277.7,197.5 L278.2,197.5 L278.7,197.5 L279.2,197.5 L279.7,197.5 L280.2,197.5 L280.7,197.5 L281.2,197.5 L281.7,197.5 L282.2,197.5 L282.7,197.5 L283.2,197.5 L283.7,197.4 L284.2,197.1 L284.7,196.4 L285.2,194.8 L285.7,192.7 L286.2,191.1 L286.7,191.2 L287.2,192.8 L287.7,194.6 L288.2,195.8 L288.7,196.2 L289.2,196.1 L289.7,195.9 L290.2,195.6 L290.7,195.2 L291.2,194.9 L291.7,194.6 L292.2,194.2 L292.7,193.8 L293.2,193.4 L293.7,192.9 L294.2,192.2 L294.7,191.4 L295.2,190.5 L295.7,189.3 L296.2,187.9 L296.7,186.2 L297.2,184.4 L297.7,182.4 L298.2,180.3 L298.7,178.2 L299.2,176.1 L299.7,174.3 L300.2,172.7 L300.7,171.5 L301.2,170.8 L301.7,170.5 L302.2,170.9 L302.7,171.8 L303.2,173.2 L303.7,175.1 L304.2,177.3 L304.7,179.6 L305.2,181.9 L305.7,184.1 L306.2,186 L306.7,187.7 L307.2,189.2 L307.7,190.4 L308.2,191.3 L308.7,192.1 L309.2,192.7 L309.7,193.3 L310.2,193.8 L310.7,194.2 L311.2,194.5 L311.7,194.7 L312.2,194.5 L312.7,193.9 L313.2,192.7 L313.7,190.6 L314.2,187.6 L314.7,183.4 L315.2,178 L315.7,171.4 L316.2,164.3 L316.7,157.2 L317.2,151.4 L317.7,148.6 L318.2,150.6 L318.7,154.7 L319.2,160 L319.7,165.8 L320.2,171.5 L320.7,176.9 L321.2,181.6 L321.7,185.5 L322.2,188.8 L322.7,191.3 L323.2,193.2 L323.7,194.5 L324.2,195.5 L324.7,196.2 L325.2,196.7 L325.7,197 L326.2,197.2 L326.7,197.3 L327.2,197.4 L327.7,197.4 L328.2,197.5 L328.7,197.5 L329.2,197.5 L329.7,197.5 L330.2,197.5 L330.7,197.5 L331.2,197.5 L331.7,197.5 L332.2,197.5 L332.7,197.5 L333.2,197.5 L333.7,197.5 L334.2,197.5 L334.7,197.5 L335.2,197.5 L335.7,197.5 L336.2,197.5" fill="none" stroke="#29345f" stroke-width="1.25" stroke-linejoin="round"/>
<path d="M269.7,197.5 L270.2,197.5 L270.7,197.5 L271.2,197.5 L271.7,197.5 L272.2,197.5 L272.7,197.5 L273.2,197.5 L273.7,197.5 L274.2,197.5 L274.7,197.5 L275.2,197.5 L275.7,197.5 L276.2,197.5 L276.7,197.5 L277.2,197.5 L277.7,197.5 L278.2,197.5 L278.7,197.5 L279.2,197.5 L279.7,197.5 L280.2,197.5 L280.7,197.5 L281.2,197.5 L281.7,197.5 L282.2,197.5 L282.7,197.5 L283.2,197.5 L283.7,197.3 L284.2,197 L284.7,196.2 L285.2,195 L285.7,193.4 L286.2,192.3 L286.7,192.4 L287.2,193.4 L287.7,194.6 L288.2,195.6 L288.7,195.9 L289.2,195.8 L289.7,195.5 L290.2,195 L290.7,194.5 L291.2,193.9 L291.7,193.2 L292.2,192.5 L292.7,191.7 L293.2,190.8 L293.7,189.9 L294.2,188.8 L294.7,187.7 L295.2,186.5 L295.7,185.2 L296.2,183.9 L296.7,182.5 L297.2,181.2 L297.7,179.9 L298.2,178.8 L298.7,177.8 L299.2,177 L299.7,176.4 L300.2,176.1 L300.7,176.2 L301.2,176.6 L301.7,177.5 L302.2,178.8 L302.7,180.4 L303.2,182.2 L303.7,184 L304.2,185.7 L304.7,187.4 L305.2,188.8 L305.7,190 L306.2,191 L306.7,191.7 L307.2,192.3 L307.7,192.7 L308.2,193.1 L308.7,193.3 L309.2,193.3 L309.7,193 L310.2,192.2 L310.7,190.7 L311.2,188.2 L311.7,184.2 L312.2,178.7 L312.7,171.5 L313.2,162.8 L313.7,153.4 L314.2,144.5 L314.7,138 L315.2,136.9 L315.7,141 L316.2,147.2 L316.7,154.5 L317.2,162.1 L317.7,169.3 L318.2,175.8 L318.7,181.2 L319.2,185.7 L319.7,189.1 L320.2,191.7 L320.7,193.6 L321.2,195 L321.7,195.9 L322.2,196.5 L322.7,196.9 L323.2,197.1 L323.7,197.3 L324.2,197.4 L324.7,197.4 L325.2,197.5 L325.7,197.5 L326.2,197.5 L326.7,197.5 L327.2,197.5 L327.7,197.5 L328.2,197.5 L328.7,197.5 L329.2,197.5 L329.7,197.5 L330.2,197.5 L330.7,197.5 L331.2,197.5 L331.7,197.5 L332.2,197.5 L332.7,197.5 L333.2,197.5 L333.7,197.5 L334.2,197.5 L334.7,197.5 L335.2,197.5 L335.7,197.5 L336.2,197.5" fill="none" stroke="#9e1d3b" stroke-width="1.25" stroke-linejoin="round"/>
</g>
<rect x="269.7" y="131.3" width="66.5" height="66.2" fill="none" stroke="#000" stroke-width="1.2"/>
<path d="M266.5,138.7H269.7 M266.5,150.4H269.7 M266.5,162.1H269.7 M266.5,173.8H269.7 M266.5,185.4H269.7 M266.5,197.1H269.7 M267.9,194.2H269.7 M267.9,191.2H269.7 M267.9,188.3H269.7 M267.9,182.5H269.7 M267.9,179.6H269.7 M267.9,176.6H269.7 M267.9,170.8H269.7 M267.9,167.9H269.7 M267.9,164.9H269.7 M267.9,159.1H269.7 M267.9,156.2H269.7 M267.9,153.2H269.7 M267.9,147.4H269.7 M267.9,144.5H269.7 M267.9,141.5H269.7 M267.9,135.7H269.7 M267.9,132.8H269.7" stroke="#000" stroke-width="0.8"/>
<text x="264.4" y="140.8" font-size="6.0" text-anchor="end" fill="#222" style="stroke-width:0.2px">500</text>
<text x="264.4" y="152.5" font-size="6.0" text-anchor="end" fill="#222" style="stroke-width:0.2px">400</text>
<text x="264.4" y="164.2" font-size="6.0" text-anchor="end" fill="#222" style="stroke-width:0.2px">300</text>
<text x="264.4" y="175.9" font-size="6.0" text-anchor="end" fill="#222" style="stroke-width:0.2px">200</text>
<text x="264.4" y="187.5" font-size="6.0" text-anchor="end" fill="#222" style="stroke-width:0.2px">100</text>
<text x="264.4" y="199.2" font-size="6.0" text-anchor="end" fill="#222" style="stroke-width:0.2px">0</text>
<path d="M271.7,197.5v2.6 M285.2,197.5v2.6 M295.3,197.5v2.6 M312.8,197.5v2.6 M330.2,197.5v2.6 M300.6,197.5v1.6 M303.6,197.5v1.6 M305.8,197.5v1.6 M307.5,197.5v1.6 M308.9,197.5v1.6 M310,197.5v1.6 M311.1,197.5v1.6 M312,197.5v1.6 M318.1,197.5v1.6 M321.1,197.5v1.6 M323.3,197.5v1.6 M325,197.5v1.6 M326.4,197.5v1.6 M327.5,197.5v1.6 M328.6,197.5v1.6 M329.5,197.5v1.6 M287.5,197.5v1.6 M282.1,197.5v1.6 M289.3,197.5v1.6 M279.7,197.5v1.6 M290.7,197.5v1.6 M277.9,197.5v1.6 M291.7,197.5v1.6 M276.5,197.5v1.6 M292.6,197.5v1.6 M275.3,197.5v1.6 M293.3,197.5v1.6 M274.4,197.5v1.6 M293.9,197.5v1.6 M273.6,197.5v1.6 M294.4,197.5v1.6 M272.9,197.5v1.6 M294.9,197.5v1.6 M272.3,197.5v1.6" stroke="#000" stroke-width="0.75"/>
<text x="266.1" y="209.3" font-size="6.0" fill="#222" style="stroke-width:0.2px">-10</text>
<text x="275" y="206.5" font-size="4.3" fill="#222" style="stroke-width:0.12px">3</text>
<text x="285.7" y="209.3" font-size="6.0" text-anchor="middle" fill="#222" style="stroke-width:0.2px">0</text>
<text x="291.1" y="209.3" font-size="6.0" fill="#222" style="stroke-width:0.2px">10</text>
<text x="298" y="206.5" font-size="4.3" fill="#222" style="stroke-width:0.12px">3</text>
<text x="309.2" y="209.3" font-size="6.0" fill="#222" style="stroke-width:0.2px">10</text>
<text x="316.1" y="206.5" font-size="4.3" fill="#222" style="stroke-width:0.12px">4</text>
<text x="325.3" y="209.3" font-size="6.0" fill="#222" style="stroke-width:0.2px">10</text>
<text x="332.2" y="206.5" font-size="4.3" fill="#222" style="stroke-width:0.12px">5</text>
<text transform="translate(250.1,164.7) rotate(-90)" font-size="9.0" text-anchor="middle" textLength="21.4" lengthAdjust="spacingAndGlyphs" fill="#111" style="stroke-width:0.15px">Count</text>
<clipPath id="c20"><rect x="69.7" y="221.3" width="66.5" height="67.1"/></clipPath>
<g clip-path="url(#c20)">
<path d="M69.7,288.4 L69.7,288.4 70.2,288.4 70.7,288.4 71.2,288.4 71.7,288.4 72.2,288.4 72.7,288.4 73.2,288.4 73.7,288.4 74.2,288.4 74.7,288.4 75.2,288.4 75.7,288.4 76.2,288.4 76.7,288.4 77.2,288.4 77.7,288.4 78.2,288.4 78.7,288.4 79.2,288.4 79.7,288.4 80.2,288.4 80.7,288.4 81.2,288.4 81.7,288.4 82.2,288.3 82.7,288 83.2,287.5 83.7,286.5 84.2,285.1 84.7,284.1 85.2,283.9 85.7,284.6 86.2,285.6 86.7,286.5 87.2,286.9 87.7,286.9 88.2,286.8 88.7,286.5 89.2,286.3 89.7,286.1 90.2,285.9 90.7,285.7 91.2,285.5 91.7,285.4 92.2,285.2 92.7,284.9 93.2,284.5 93.7,284.1 94.2,283.5 94.7,282.8 95.2,281.9 95.7,281 96.2,279.9 96.7,278.8 97.2,277.7 97.7,276.6 98.2,275.7 98.7,274.9 99.2,274.3 99.7,273.9 100.2,273.8 100.7,274.2 101.2,275 101.7,276.2 102.2,277.7 102.7,279.1 103.2,280.5 103.7,281.7 104.2,282.7 104.7,283.5 105.2,284.2 105.7,284.7 106.2,285.2 106.7,285.7 107.2,286.2 107.7,286.7 108.2,287 108.7,287.3 109.2,287.4 109.7,287.2 110.2,286.7 110.7,285.7 111.2,284.1 111.7,281.7 112.2,278.2 112.7,273.5 113.2,267.6 113.7,260.5 114.2,252.7 114.7,245.1 115.2,238.9 115.7,235.8 116.2,237.8 116.7,242.2 117.2,247.7 117.7,253.8 118.2,259.9 118.7,265.6 119.2,270.6 119.7,274.9 120.2,278.4 120.7,281.2 121.2,283.3 121.7,284.9 122.2,286.1 122.7,286.9 123.2,287.4 123.7,287.8 124.2,288 124.7,288.2 125.2,288.3 125.7,288.3 126.2,288.4 126.7,288.4 127.2,288.4 127.7,288.4 128.2,288.4 128.7,288.4 129.2,288.4 129.7,288.4 130.2,288.4 130.7,288.4 131.2,288.4 131.7,288.4 132.2,288.4 132.7,288.4 133.2,288.4 133.7,288.4 134.2,288.4 134.7,288.4 135.2,288.4 135.7,288.4 L135.7,288.4 Z" fill="#a2a7d2"/>
<path d="M69.7,288.4 L69.7,288.4 70.2,288.4 70.7,288.4 71.2,288.4 71.7,288.4 72.2,288.4 72.7,288.4 73.2,288.4 73.7,288.4 74.2,288.4 74.7,288.4 75.2,288.4 75.7,288.4 76.2,288.4 76.7,288.4 77.2,288.4 77.7,288.4 78.2,288.4 78.7,288.4 79.2,288.4 79.7,288.4 80.2,288.4 80.7,288.4 81.2,288.4 81.7,288.4 82.2,288.3 82.7,288.1 83.2,287.7 83.7,287 84.2,286 84.7,285.3 85.2,285.1 85.7,285.6 86.2,286.3 86.7,286.9 87.2,287.1 87.7,287.1 88.2,286.9 88.7,286.8 89.2,286.6 89.7,286.4 90.2,286.3 90.7,286.2 91.2,286.1 91.7,286 92.2,286 92.7,285.9 93.2,285.8 93.7,285.6 94.2,285.3 94.7,284.9 95.2,284.4 95.7,283.9 96.2,283.2 96.7,282.5 97.2,281.7 97.7,280.9 98.2,280.1 98.7,279.5 99.2,278.9 99.7,278.5 100.2,278.2 100.7,278.1 101.2,278.3 101.7,278.9 102.2,279.7 102.7,280.6 103.2,281.5 103.7,282.4 104.2,283.2 104.7,283.9 105.2,284.4 105.7,284.9 106.2,285.2 106.7,285.3 107.2,285.1 107.7,284.5 108.2,283.4 108.7,281.4 109.2,278.3 109.7,274 110.2,268.2 110.7,261 111.2,252.6 111.7,243.6 112.2,234.9 112.7,227.8 113.2,224.4 113.7,227 114.2,232.4 114.7,239.3 115.2,246.9 115.7,254.4 116.2,261.4 116.7,267.6 117.2,272.8 117.7,276.9 118.2,280.2 118.7,282.7 119.2,284.5 119.7,285.8 120.2,286.7 120.7,287.3 121.2,287.7 121.7,288 122.2,288.2 122.7,288.3 123.2,288.3 123.7,288.4 124.2,288.4 124.7,288.4 125.2,288.4 125.7,288.4 126.2,288.4 126.7,288.4 127.2,288.4 127.7,288.4 128.2,288.4 128.7,288.4 129.2,288.4 129.7,288.4 130.2,288.4 130.7,288.4 131.2,288.4 131.7,288.4 132.2,288.4 132.7,288.4 133.2,288.4 133.7,288.4 134.2,288.4 134.7,288.4 135.2,288.4 135.7,288.4 L135.7,288.4 Z" fill="#e59d90"/>
<path d="M69.7,288.4 L69.7,288.4 70.2,288.4 70.7,288.4 71.2,288.4 71.7,288.4 72.2,288.4 72.7,288.4 73.2,288.4 73.7,288.4 74.2,288.4 74.7,288.4 75.2,288.4 75.7,288.4 76.2,288.4 76.7,288.4 77.2,288.4 77.7,288.4 78.2,288.4 78.7,288.4 79.2,288.4 79.7,288.4 80.2,288.4 80.7,288.4 81.2,288.4 81.7,288.4 82.2,288.3 82.7,288.1 83.2,287.7 83.7,287 84.2,286 84.7,285.3 85.2,285.1 85.7,285.6 86.2,286.3 86.7,286.9 87.2,287.1 87.7,287.1 88.2,286.9 88.7,286.8 89.2,286.6 89.7,286.4 90.2,286.3 90.7,286.2 91.2,286.1 91.7,286 92.2,286 92.7,285.9 93.2,285.8 93.7,285.6 94.2,285.3 94.7,284.9 95.2,284.4 95.7,283.9 96.2,283.2 96.7,282.5 97.2,281.7 97.7,280.9 98.2,280.1 98.7,279.5 99.2,278.9 99.7,278.5 100.2,278.2 100.7,278.1 101.2,278.3 101.7,278.9 102.2,279.7 102.7,280.6 103.2,281.5 103.7,282.4 104.2,283.2 104.7,283.9 105.2,284.4 105.7,284.9 106.2,285.2 106.7,285.7 107.2,286.2 107.7,286.7 108.2,287 108.7,287.3 109.2,287.4 109.7,287.2 110.2,286.7 110.7,285.7 111.2,284.1 111.7,281.7 112.2,278.2 112.7,273.5 113.2,267.6 113.7,260.5 114.2,252.7 114.7,245.1 115.2,246.9 115.7,254.4 116.2,261.4 116.7,267.6 117.2,272.8 117.7,276.9 118.2,280.2 118.7,282.7 119.2,284.5 119.7,285.8 120.2,286.7 120.7,287.3 121.2,287.7 121.7,288 122.2,288.2 122.7,288.3 123.2,288.3 123.7,288.4 124.2,288.4 124.7,288.4 125.2,288.4 125.7,288.4 126.2,288.4 126.7,288.4 127.2,288.4 127.7,288.4 128.2,288.4 128.7,288.4 129.2,288.4 129.7,288.4 130.2,288.4 130.7,288.4 131.2,288.4 131.7,288.4 132.2,288.4 132.7,288.4 133.2,288.4 133.7,288.4 134.2,288.4 134.7,288.4 135.2,288.4 135.7,288.4 L135.7,288.4 Z" fill="#aea99f"/>
<path d="M69.7,288.4 L70.2,288.4 L70.7,288.4 L71.2,288.4 L71.7,288.4 L72.2,288.4 L72.7,288.4 L73.2,288.4 L73.7,288.4 L74.2,288.4 L74.7,288.4 L75.2,288.4 L75.7,288.4 L76.2,288.4 L76.7,288.4 L77.2,288.4 L77.7,288.4 L78.2,288.4 L78.7,288.4 L79.2,288.4 L79.7,288.4 L80.2,288.4 L80.7,288.4 L81.2,288.4 L81.7,288.4 L82.2,288.3 L82.7,288 L83.2,287.5 L83.7,286.5 L84.2,285.1 L84.7,284.1 L85.2,283.9 L85.7,284.6 L86.2,285.6 L86.7,286.5 L87.2,286.9 L87.7,286.9 L88.2,286.8 L88.7,286.5 L89.2,286.3 L89.7,286.1 L90.2,285.9 L90.7,285.7 L91.2,285.5 L91.7,285.4 L92.2,285.2 L92.7,284.9 L93.2,284.5 L93.7,284.1 L94.2,283.5 L94.7,282.8 L95.2,281.9 L95.7,281 L96.2,279.9 L96.7,278.8 L97.2,277.7 L97.7,276.6 L98.2,275.7 L98.7,274.9 L99.2,274.3 L99.7,273.9 L100.2,273.8 L100.7,274.2 L101.2,275 L101.7,276.2 L102.2,277.7 L102.7,279.1 L103.2,280.5 L103.7,281.7 L104.2,282.7 L104.7,283.5 L105.2,284.2 L105.7,284.7 L106.2,285.2 L106.7,285.7 L107.2,286.2 L107.7,286.7 L108.2,287 L108.7,287.3 L109.2,287.4 L109.7,287.2 L110.2,286.7 L110.7,285.7 L111.2,284.1 L111.7,281.7 L112.2,278.2 L112.7,273.5 L113.2,267.6 L113.7,260.5 L114.2,252.7 L114.7,245.1 L115.2,238.9 L115.7,235.8 L116.2,237.8 L116.7,242.2 L117.2,247.7 L117.7,253.8 L118.2,259.9 L118.7,265.6 L119.2,270.6 L119.7,274.9 L120.2,278.4 L120.7,281.2 L121.2,283.3 L121.7,284.9 L122.2,286.1 L122.7,286.9 L123.2,287.4 L123.7,287.8 L124.2,288 L124.7,288.2 L125.2,288.3 L125.7,288.3 L126.2,288.4 L126.7,288.4 L127.2,288.4 L127.7,288.4 L128.2,288.4 L128.7,288.4 L129.2,288.4 L129.7,288.4 L130.2,288.4 L130.7,288.4 L131.2,288.4 L131.7,288.4 L132.2,288.4 L132.7,288.4 L133.2,288.4 L133.7,288.4 L134.2,288.4 L134.7,288.4 L135.2,288.4 L135.7,288.4" fill="none" stroke="#29345f" stroke-width="1.25" stroke-linejoin="round"/>
<path d="M69.7,288.4 L70.2,288.4 L70.7,288.4 L71.2,288.4 L71.7,288.4 L72.2,288.4 L72.7,288.4 L73.2,288.4 L73.7,288.4 L74.2,288.4 L74.7,288.4 L75.2,288.4 L75.7,288.4 L76.2,288.4 L76.7,288.4 L77.2,288.4 L77.7,288.4 L78.2,288.4 L78.7,288.4 L79.2,288.4 L79.7,288.4 L80.2,288.4 L80.7,288.4 L81.2,288.4 L81.7,288.4 L82.2,288.3 L82.7,288.1 L83.2,287.7 L83.7,287 L84.2,286 L84.7,285.3 L85.2,285.1 L85.7,285.6 L86.2,286.3 L86.7,286.9 L87.2,287.1 L87.7,287.1 L88.2,286.9 L88.7,286.8 L89.2,286.6 L89.7,286.4 L90.2,286.3 L90.7,286.2 L91.2,286.1 L91.7,286 L92.2,286 L92.7,285.9 L93.2,285.8 L93.7,285.6 L94.2,285.3 L94.7,284.9 L95.2,284.4 L95.7,283.9 L96.2,283.2 L96.7,282.5 L97.2,281.7 L97.7,280.9 L98.2,280.1 L98.7,279.5 L99.2,278.9 L99.7,278.5 L100.2,278.2 L100.7,278.1 L101.2,278.3 L101.7,278.9 L102.2,279.7 L102.7,280.6 L103.2,281.5 L103.7,282.4 L104.2,283.2 L104.7,283.9 L105.2,284.4 L105.7,284.9 L106.2,285.2 L106.7,285.3 L107.2,285.1 L107.7,284.5 L108.2,283.4 L108.7,281.4 L109.2,278.3 L109.7,274 L110.2,268.2 L110.7,261 L111.2,252.6 L111.7,243.6 L112.2,234.9 L112.7,227.8 L113.2,224.4 L113.7,227 L114.2,232.4 L114.7,239.3 L115.2,246.9 L115.7,254.4 L116.2,261.4 L116.7,267.6 L117.2,272.8 L117.7,276.9 L118.2,280.2 L118.7,282.7 L119.2,284.5 L119.7,285.8 L120.2,286.7 L120.7,287.3 L121.2,287.7 L121.7,288 L122.2,288.2 L122.7,288.3 L123.2,288.3 L123.7,288.4 L124.2,288.4 L124.7,288.4 L125.2,288.4 L125.7,288.4 L126.2,288.4 L126.7,288.4 L127.2,288.4 L127.7,288.4 L128.2,288.4 L128.7,288.4 L129.2,288.4 L129.7,288.4 L130.2,288.4 L130.7,288.4 L131.2,288.4 L131.7,288.4 L132.2,288.4 L132.7,288.4 L133.2,288.4 L133.7,288.4 L134.2,288.4 L134.7,288.4 L135.2,288.4 L135.7,288.4" fill="none" stroke="#9e1d3b" stroke-width="1.25" stroke-linejoin="round"/>
</g>
<rect x="69.7" y="221.3" width="66.5" height="67.1" fill="none" stroke="#000" stroke-width="1.2"/>
<path d="M66.5,231.6H69.7 M66.5,250.4H69.7 M66.5,269.1H69.7 M66.5,288.1H69.7 M67.9,283.4H69.7 M67.9,278.6H69.7 M67.9,273.9H69.7 M67.9,264.4H69.7 M67.9,259.6H69.7 M67.9,254.9H69.7 M67.9,245.4H69.7 M67.9,240.6H69.7 M67.9,235.9H69.7 M67.9,226.4H69.7" stroke="#000" stroke-width="0.8"/>
<text x="64.4" y="233.7" font-size="6.0" text-anchor="end" fill="#222" style="stroke-width:0.2px">600</text>
<text x="64.4" y="252.5" font-size="6.0" text-anchor="end" fill="#222" style="stroke-width:0.2px">400</text>
<text x="64.4" y="271.2" font-size="6.0" text-anchor="end" fill="#222" style="stroke-width:0.2px">200</text>
<text x="64.4" y="290.2" font-size="6.0" text-anchor="end" fill="#222" style="stroke-width:0.2px">0</text>
<path d="M71.7,288.4v2.6 M85.2,288.4v2.6 M95.3,288.4v2.6 M112.8,288.4v2.6 M130.2,288.4v2.6 M100.6,288.4v1.6 M103.6,288.4v1.6 M105.8,288.4v1.6 M107.5,288.4v1.6 M108.9,288.4v1.6 M110,288.4v1.6 M111.1,288.4v1.6 M112,288.4v1.6 M118.1,288.4v1.6 M121.1,288.4v1.6 M123.3,288.4v1.6 M125,288.4v1.6 M126.4,288.4v1.6 M127.5,288.4v1.6 M128.6,288.4v1.6 M129.5,288.4v1.6 M87.5,288.4v1.6 M82.1,288.4v1.6 M89.3,288.4v1.6 M79.7,288.4v1.6 M90.7,288.4v1.6 M77.9,288.4v1.6 M91.7,288.4v1.6 M76.5,288.4v1.6 M92.6,288.4v1.6 M75.3,288.4v1.6 M93.3,288.4v1.6 M74.4,288.4v1.6 M93.9,288.4v1.6 M73.6,288.4v1.6 M94.4,288.4v1.6 M72.9,288.4v1.6 M94.9,288.4v1.6 M72.3,288.4v1.6" stroke="#000" stroke-width="0.75"/>
<text x="66.1" y="300.2" font-size="6.0" fill="#222" style="stroke-width:0.2px">-10</text>
<text x="75" y="297.4" font-size="4.3" fill="#222" style="stroke-width:0.12px">3</text>
<text x="85.7" y="300.2" font-size="6.0" text-anchor="middle" fill="#222" style="stroke-width:0.2px">0</text>
<text x="91.1" y="300.2" font-size="6.0" fill="#222" style="stroke-width:0.2px">10</text>
<text x="98" y="297.4" font-size="4.3" fill="#222" style="stroke-width:0.12px">3</text>
<text x="109.2" y="300.2" font-size="6.0" fill="#222" style="stroke-width:0.2px">10</text>
<text x="116.1" y="297.4" font-size="4.3" fill="#222" style="stroke-width:0.12px">4</text>
<text x="125.3" y="300.2" font-size="6.0" fill="#222" style="stroke-width:0.2px">10</text>
<text x="132.2" y="297.4" font-size="4.3" fill="#222" style="stroke-width:0.12px">5</text>
<text transform="translate(50.1,255.2) rotate(-90)" font-size="9.0" text-anchor="middle" textLength="21.4" lengthAdjust="spacingAndGlyphs" fill="#111" style="stroke-width:0.15px">Count</text>
<clipPath id="c21"><rect x="168.4" y="220.4" width="67.1" height="68"/></clipPath>
<g clip-path="url(#c21)">
<path d="M168.4,288.4 L168.4,288.4 168.9,288.4 169.4,288.4 169.9,288.4 170.4,288.4 170.9,288.4 171.4,288.4 171.9,288.4 172.4,288.4 172.9,288.4 173.4,288.4 173.9,288.4 174.4,288.4 174.9,288.4 175.4,288.4 175.9,288.4 176.4,288.4 176.9,288.4 177.4,288.4 177.9,288.4 178.4,288.4 178.9,288.4 179.4,288.4 179.9,288.4 180.4,288.4 180.9,288.3 181.4,288.1 181.9,287.7 182.4,286.8 182.9,285.5 183.4,284.1 183.9,283.5 184.4,283.9 184.9,284.9 185.4,286 185.9,286.6 186.4,286.8 186.9,286.7 187.4,286.5 187.9,286.3 188.4,286.1 188.9,286 189.4,285.8 189.9,285.7 190.4,285.7 190.9,285.6 191.4,285.6 191.9,285.5 192.4,285.4 192.9,285.2 193.4,285 193.9,284.6 194.4,284.2 194.9,283.7 195.4,283.2 195.9,282.5 196.4,281.9 196.9,281.2 197.4,280.5 197.9,279.8 198.4,279.2 198.9,278.6 199.4,278.1 199.9,277.7 200.4,277.4 200.9,277.2 201.4,277.1 201.9,277.3 202.4,277.9 202.9,278.6 203.4,279.5 203.9,280.4 204.4,281.3 204.9,282.2 205.4,283.1 205.9,283.9 206.4,284.8 206.9,285.5 207.4,286.2 207.9,286.7 208.4,287.1 208.9,287.3 209.4,287.3 209.9,287 210.4,286.3 210.9,285.2 211.4,283.4 211.9,280.8 212.4,277.2 212.9,272.6 213.4,266.9 213.9,260.2 214.4,253.1 214.9,246.2 215.4,240.6 215.9,237.9 216.4,239.6 216.9,243.2 217.4,247.8 217.9,253.1 218.4,258.5 218.9,263.6 219.4,268.4 219.9,272.6 220.4,276.2 220.9,279.2 221.4,281.5 221.9,283.4 222.4,284.8 222.9,285.9 223.4,286.7 223.9,287.2 224.4,287.6 224.9,287.9 225.4,288.1 225.9,288.2 226.4,288.3 226.9,288.3 227.4,288.4 227.9,288.4 228.4,288.4 228.9,288.4 229.4,288.4 229.9,288.4 230.4,288.4 230.9,288.4 231.4,288.4 231.9,288.4 232.4,288.4 232.9,288.4 233.4,288.4 233.9,288.4 234.4,288.4 234.9,288.4 235.4,288.4 L235.4,288.4 Z" fill="#a2a7d2"/>
<path d="M168.4,288.4 L168.4,288.4 168.9,288.4 169.4,288.4 169.9,288.4 170.4,288.4 170.9,288.4 171.4,288.4 171.9,288.4 172.4,288.4 172.9,288.4 173.4,288.4 173.9,288.4 174.4,288.4 174.9,288.4 175.4,288.4 175.9,288.4 176.4,288.4 176.9,288.4 177.4,288.4 177.9,288.4 178.4,288.4 178.9,288.4 179.4,288.4 179.9,288.4 180.4,288.4 180.9,288.3 181.4,288.2 181.9,287.8 182.4,287 182.9,285.8 183.4,284.6 183.9,284 184.4,284.4 184.9,285.3 185.4,286.3 185.9,286.8 186.4,287 186.9,286.9 187.4,286.7 187.9,286.5 188.4,286.3 188.9,286.2 189.4,286.1 189.9,286 190.4,286 190.9,286 191.4,285.9 191.9,285.9 192.4,285.8 192.9,285.7 193.4,285.5 193.9,285.3 194.4,285 194.9,284.6 195.4,284.2 195.9,283.7 196.4,283.2 196.9,282.6 197.4,282.1 197.9,281.5 198.4,281 198.9,280.6 199.4,280.2 199.9,279.8 200.4,279.6 200.9,279.4 201.4,279.3 201.9,279.5 202.4,279.9 202.9,280.5 203.4,281.1 203.9,281.8 204.4,282.5 204.9,283.1 205.4,283.8 205.9,284.3 206.4,284.7 206.9,285 207.4,284.8 207.9,284.2 208.4,282.7 208.9,280.3 209.4,276.5 209.9,271.3 210.4,264.4 210.9,256 211.4,246.7 211.9,237.3 212.4,229.1 212.9,224.3 213.4,225.7 213.9,230.1 214.4,236.1 214.9,243 215.4,250.1 215.9,257 216.4,263.2 216.9,268.7 217.4,273.4 217.9,277.2 218.4,280.2 218.9,282.5 219.4,284.3 219.9,285.6 220.4,286.5 220.9,287.1 221.4,287.6 221.9,287.9 222.4,288.1 222.9,288.2 223.4,288.3 223.9,288.3 224.4,288.4 224.9,288.4 225.4,288.4 225.9,288.4 226.4,288.4 226.9,288.4 227.4,288.4 227.9,288.4 228.4,288.4 228.9,288.4 229.4,288.4 229.9,288.4 230.4,288.4 230.9,288.4 231.4,288.4 231.9,288.4 232.4,288.4 232.9,288.4 233.4,288.4 233.9,288.4 234.4,288.4 234.9,288.4 235.4,288.4 L235.4,288.4 Z" fill="#e59d90"/>
<path d="M168.4,288.4 L168.4,288.4 168.9,288.4 169.4,288.4 169.9,288.4 170.4,288.4 170.9,288.4 171.4,288.4 171.9,288.4 172.4,288.4 172.9,288.4 173.4,288.4 173.9,288.4 174.4,288.4 174.9,288.4 175.4,288.4 175.9,288.4 176.4,288.4 176.9,288.4 177.4,288.4 177.9,288.4 178.4,288.4 178.9,288.4 179.4,288.4 179.9,288.4 180.4,288.4 180.9,288.3 181.4,288.2 181.9,287.8 182.4,287 182.9,285.8 183.4,284.6 183.9,284 184.4,284.4 184.9,285.3 185.4,286.3 185.9,286.8 186.4,287 186.9,286.9 187.4,286.7 187.9,286.5 188.4,286.3 188.9,286.2 189.4,286.1 189.9,286 190.4,286 190.9,286 191.4,285.9 191.9,285.9 192.4,285.8 192.9,285.7 193.4,285.5 193.9,285.3 194.4,285 194.9,284.6 195.4,284.2 195.9,283.7 196.4,283.2 196.9,282.6 197.4,282.1 197.9,281.5 198.4,281 198.9,280.6 199.4,280.2 199.9,279.8 200.4,279.6 200.9,279.4 201.4,279.3 201.9,279.5 202.4,279.9 202.9,280.5 203.4,281.1 203.9,281.8 204.4,282.5 204.9,283.1 205.4,283.8 205.9,284.3 206.4,284.8 206.9,285.5 207.4,286.2 207.9,286.7 208.4,287.1 208.9,287.3 209.4,287.3 209.9,287 210.4,286.3 210.9,285.2 211.4,283.4 211.9,280.8 212.4,277.2 212.9,272.6 213.4,266.9 213.9,260.2 214.4,253.1 214.9,246.2 215.4,250.1 215.9,257 216.4,263.2 216.9,268.7 217.4,273.4 217.9,277.2 218.4,280.2 218.9,282.5 219.4,284.3 219.9,285.6 220.4,286.5 220.9,287.1 221.4,287.6 221.9,287.9 222.4,288.1 222.9,288.2 223.4,288.3 223.9,288.3 224.4,288.4 224.9,288.4 225.4,288.4 225.9,288.4 226.4,288.4 226.9,288.4 227.4,288.4 227.9,288.4 228.4,288.4 228.9,288.4 229.4,288.4 229.9,288.4 230.4,288.4 230.9,288.4 231.4,288.4 231.9,288.4 232.4,288.4 232.9,288.4 233.4,288.4 233.9,288.4 234.4,288.4 234.9,288.4 235.4,288.4 L235.4,288.4 Z" fill="#aea99f"/>
<path d="M168.4,288.4 L168.9,288.4 L169.4,288.4 L169.9,288.4 L170.4,288.4 L170.9,288.4 L171.4,288.4 L171.9,288.4 L172.4,288.4 L172.9,288.4 L173.4,288.4 L173.9,288.4 L174.4,288.4 L174.9,288.4 L175.4,288.4 L175.9,288.4 L176.4,288.4 L176.9,288.4 L177.4,288.4 L177.9,288.4 L178.4,288.4 L178.9,288.4 L179.4,288.4 L179.9,288.4 L180.4,288.4 L180.9,288.3 L181.4,288.1 L181.9,287.7 L182.4,286.8 L182.9,285.5 L183.4,284.1 L183.9,283.5 L184.4,283.9 L184.9,284.9 L185.4,286 L185.9,286.6 L186.4,286.8 L186.9,286.7 L187.4,286.5 L187.9,286.3 L188.4,286.1 L188.9,286 L189.4,285.8 L189.9,285.7 L190.4,285.7 L190.9,285.6 L191.4,285.6 L191.9,285.5 L192.4,285.4 L192.9,285.2 L193.4,285 L193.9,284.6 L194.4,284.2 L194.9,283.7 L195.4,283.2 L195.9,282.5 L196.4,281.9 L196.9,281.2 L197.4,280.5 L197.9,279.8 L198.4,279.2 L198.9,278.6 L199.4,278.1 L199.9,277.7 L200.4,277.4 L200.9,277.2 L201.4,277.1 L201.9,277.3 L202.4,277.9 L202.9,278.6 L203.4,279.5 L203.9,280.4 L204.4,281.3 L204.9,282.2 L205.4,283.1 L205.9,283.9 L206.4,284.8 L206.9,285.5 L207.4,286.2 L207.9,286.7 L208.4,287.1 L208.9,287.3 L209.4,287.3 L209.9,287 L210.4,286.3 L210.9,285.2 L211.4,283.4 L211.9,280.8 L212.4,277.2 L212.9,272.6 L213.4,266.9 L213.9,260.2 L214.4,253.1 L214.9,246.2 L215.4,240.6 L215.9,237.9 L216.4,239.6 L216.9,243.2 L217.4,247.8 L217.9,253.1 L218.4,258.5 L218.9,263.6 L219.4,268.4 L219.9,272.6 L220.4,276.2 L220.9,279.2 L221.4,281.5 L221.9,283.4 L222.4,284.8 L222.9,285.9 L223.4,286.7 L223.9,287.2 L224.4,287.6 L224.9,287.9 L225.4,288.1 L225.9,288.2 L226.4,288.3 L226.9,288.3 L227.4,288.4 L227.9,288.4 L228.4,288.4 L228.9,288.4 L229.4,288.4 L229.9,288.4 L230.4,288.4 L230.9,288.4 L231.4,288.4 L231.9,288.4 L232.4,288.4 L232.9,288.4 L233.4,288.4 L233.9,288.4 L234.4,288.4 L234.9,288.4 L235.4,288.4" fill="none" stroke="#29345f" stroke-width="1.25" stroke-linejoin="round"/>
<path d="M168.4,288.4 L168.9,288.4 L169.4,288.4 L169.9,288.4 L170.4,288.4 L170.9,288.4 L171.4,288.4 L171.9,288.4 L172.4,288.4 L172.9,288.4 L173.4,288.4 L173.9,288.4 L174.4,288.4 L174.9,288.4 L175.4,288.4 L175.9,288.4 L176.4,288.4 L176.9,288.4 L177.4,288.4 L177.9,288.4 L178.4,288.4 L178.9,288.4 L179.4,288.4 L179.9,288.4 L180.4,288.4 L180.9,288.3 L181.4,288.2 L181.9,287.8 L182.4,287 L182.9,285.8 L183.4,284.6 L183.9,284 L184.4,284.4 L184.9,285.3 L185.4,286.3 L185.9,286.8 L186.4,287 L186.9,286.9 L187.4,286.7 L187.9,286.5 L188.4,286.3 L188.9,286.2 L189.4,286.1 L189.9,286 L190.4,286 L190.9,286 L191.4,285.9 L191.9,285.9 L192.4,285.8 L192.9,285.7 L193.4,285.5 L193.9,285.3 L194.4,285 L194.9,284.6 L195.4,284.2 L195.9,283.7 L196.4,283.2 L196.9,282.6 L197.4,282.1 L197.9,281.5 L198.4,281 L198.9,280.6 L199.4,280.2 L199.9,279.8 L200.4,279.6 L200.9,279.4 L201.4,279.3 L201.9,279.5 L202.4,279.9 L202.9,280.5 L203.4,281.1 L203.9,281.8 L204.4,282.5 L204.9,283.1 L205.4,283.8 L205.9,284.3 L206.4,284.7 L206.9,285 L207.4,284.8 L207.9,284.2 L208.4,282.7 L208.9,280.3 L209.4,276.5 L209.9,271.3 L210.4,264.4 L210.9,256 L211.4,246.7 L211.9,237.3 L212.4,229.1 L212.9,224.3 L213.4,225.7 L213.9,230.1 L214.4,236.1 L214.9,243 L215.4,250.1 L215.9,257 L216.4,263.2 L216.9,268.7 L217.4,273.4 L217.9,277.2 L218.4,280.2 L218.9,282.5 L219.4,284.3 L219.9,285.6 L220.4,286.5 L220.9,287.1 L221.4,287.6 L221.9,287.9 L222.4,288.1 L222.9,288.2 L223.4,288.3 L223.9,288.3 L224.4,288.4 L224.9,288.4 L225.4,288.4 L225.9,288.4 L226.4,288.4 L226.9,288.4 L227.4,288.4 L227.9,288.4 L228.4,288.4 L228.9,288.4 L229.4,288.4 L229.9,288.4 L230.4,288.4 L230.9,288.4 L231.4,288.4 L231.9,288.4 L232.4,288.4 L232.9,288.4 L233.4,288.4 L233.9,288.4 L234.4,288.4 L234.9,288.4 L235.4,288.4" fill="none" stroke="#9e1d3b" stroke-width="1.25" stroke-linejoin="round"/>
</g>
<rect x="168.4" y="220.4" width="67.1" height="68" fill="none" stroke="#000" stroke-width="1.2"/>
<path d="M165.2,232.7H168.4 M165.2,250.9H168.4 M165.2,269H168.4 M165.2,287.2H168.4 M166.6,282.6H168.4 M166.6,278.1H168.4 M166.6,273.6H168.4 M166.6,264.4H168.4 M166.6,259.9H168.4 M166.6,255.4H168.4 M166.6,246.2H168.4 M166.6,241.7H168.4 M166.6,237.2H168.4 M166.6,228.1H168.4 M166.6,223.5H168.4" stroke="#000" stroke-width="0.8"/>
<text x="163.1" y="234.8" font-size="6.0" text-anchor="end" fill="#222" style="stroke-width:0.2px">600</text>
<text x="163.1" y="253" font-size="6.0" text-anchor="end" fill="#222" style="stroke-width:0.2px">400</text>
<text x="163.1" y="271.1" font-size="6.0" text-anchor="end" fill="#222" style="stroke-width:0.2px">200</text>
<text x="163.1" y="289.3" font-size="6.0" text-anchor="end" fill="#222" style="stroke-width:0.2px">0</text>
<path d="M170.4,288.4v2.6 M184,288.4v2.6 M194.2,288.4v2.6 M211.9,288.4v2.6 M229.4,288.4v2.6 M199.5,288.4v1.6 M202.6,288.4v1.6 M204.8,288.4v1.6 M206.5,288.4v1.6 M207.9,288.4v1.6 M209.1,288.4v1.6 M210.1,288.4v1.6 M211,288.4v1.6 M217.2,288.4v1.6 M220.3,288.4v1.6 M222.5,288.4v1.6 M224.2,288.4v1.6 M225.6,288.4v1.6 M226.8,288.4v1.6 M227.8,288.4v1.6 M228.7,288.4v1.6 M186.4,288.4v1.6 M180.9,288.4v1.6 M188.2,288.4v1.6 M178.5,288.4v1.6 M189.6,288.4v1.6 M176.7,288.4v1.6 M190.6,288.4v1.6 M175.2,288.4v1.6 M191.5,288.4v1.6 M174.1,288.4v1.6 M192.2,288.4v1.6 M173.1,288.4v1.6 M192.8,288.4v1.6 M172.3,288.4v1.6 M193.3,288.4v1.6 M171.6,288.4v1.6 M193.8,288.4v1.6 M171,288.4v1.6" stroke="#000" stroke-width="0.75"/>
<text x="164.8" y="300.2" font-size="6.0" fill="#222" style="stroke-width:0.2px">-10</text>
<text x="173.8" y="297.4" font-size="4.3" fill="#222" style="stroke-width:0.12px">3</text>
<text x="184.5" y="300.2" font-size="6.0" text-anchor="middle" fill="#222" style="stroke-width:0.2px">0</text>
<text x="190" y="300.2" font-size="6.0" fill="#222" style="stroke-width:0.2px">10</text>
<text x="197" y="297.4" font-size="4.3" fill="#222" style="stroke-width:0.12px">3</text>
<text x="208.3" y="300.2" font-size="6.0" fill="#222" style="stroke-width:0.2px">10</text>
<text x="215.2" y="297.4" font-size="4.3" fill="#222" style="stroke-width:0.12px">4</text>
<text x="224.5" y="300.2" font-size="6.0" fill="#222" style="stroke-width:0.2px">10</text>
<text x="231.5" y="297.4" font-size="4.3" fill="#222" style="stroke-width:0.12px">5</text>
<text transform="translate(148.8,254.7) rotate(-90)" font-size="9.0" text-anchor="middle" textLength="21.4" lengthAdjust="spacingAndGlyphs" fill="#111" style="stroke-width:0.15px">Count</text>
<clipPath id="c22"><rect x="269.7" y="221.9" width="66.5" height="66.5"/></clipPath>
<g clip-path="url(#c22)">
<path d="M269.7,288.4 L269.7,288.4 270.2,288.4 270.7,288.4 271.2,288.4 271.7,288.4 272.2,288.4 272.7,288.4 273.2,288.4 273.7,288.4 274.2,288.4 274.7,288.4 275.2,288.4 275.7,288.4 276.2,288.4 276.7,288.4 277.2,288.4 277.7,288.4 278.2,288.4 278.7,288.4 279.2,288.4 279.7,288.4 280.2,288.4 280.7,288.4 281.2,288.4 281.7,288.4 282.2,288.3 282.7,288.3 283.2,288.2 283.7,287.9 284.2,286.9 284.7,284.5 285.2,281 285.7,278.6 286.2,278.6 286.7,279.4 287.2,280.7 287.7,282.1 288.2,283.3 288.7,284.2 289.2,284.7 289.7,284.9 290.2,284.9 290.7,284.8 291.2,284.6 291.7,284.5 292.2,284.3 292.7,284.2 293.2,284 293.7,283.7 294.2,283.4 294.7,282.9 295.2,282.4 295.7,281.8 296.2,281.1 296.7,280.4 297.2,279.6 297.7,278.8 298.2,278 298.7,277.2 299.2,276.5 299.7,275.9 300.2,275.4 300.7,275 301.2,274.8 301.7,274.7 302.2,275.1 302.7,275.8 303.2,276.9 303.7,278.1 304.2,279.3 304.7,280.6 305.2,281.7 305.7,282.7 306.2,283.6 306.7,284.4 307.2,285.2 307.7,285.8 308.2,286.4 308.7,286.9 309.2,287.1 309.7,287.2 310.2,286.9 310.7,286.2 311.2,285 311.7,283 312.2,280.1 312.7,276 313.2,270.7 313.7,264 314.2,256.3 314.7,248.2 315.2,240.7 315.7,235.3 316.2,234.3 316.7,237.5 317.2,242.4 317.7,248.3 318.2,254.6 318.7,260.7 319.2,266.3 319.7,271.2 320.2,275.4 320.7,278.8 321.2,281.4 321.7,283.5 322.2,285 322.7,286.1 323.2,286.9 323.7,287.4 324.2,287.8 324.7,288 325.2,288.2 325.7,288.3 326.2,288.3 326.7,288.4 327.2,288.4 327.7,288.4 328.2,288.4 328.7,288.4 329.2,288.4 329.7,288.4 330.2,288.4 330.7,288.4 331.2,288.4 331.7,288.4 332.2,288.4 332.7,288.4 333.2,288.4 333.7,288.4 334.2,288.4 334.7,288.4 335.2,288.4 335.7,288.4 336.2,288.4 L336.2,288.4 Z" fill="#a2a7d2"/>
<path d="M269.7,288.4 L269.7,288.4 270.2,288.4 270.7,288.4 271.2,288.4 271.7,288.4 272.2,288.4 272.7,288.4 273.2,288.4 273.7,288.4 274.2,288.4 274.7,288.4 275.2,288.4 275.7,288.4 276.2,288.4 276.7,288.4 277.2,288.4 277.7,288.4 278.2,288.4 278.7,288.4 279.2,288.4 279.7,288.4 280.2,288.4 280.7,288.4 281.2,288.4 281.7,288.4 282.2,288.4 282.7,288.3 283.2,288.2 283.7,288 284.2,287.1 284.7,284.9 285.2,281.9 285.7,279.8 286.2,279.8 286.7,280.4 287.2,281.5 287.7,282.7 288.2,283.8 288.7,284.5 289.2,284.9 289.7,285.1 290.2,285.1 290.7,285 291.2,284.8 291.7,284.7 292.2,284.5 292.7,284.4 293.2,284.2 293.7,284 294.2,283.7 294.7,283.3 295.2,282.8 295.7,282.3 296.2,281.7 296.7,281.1 297.2,280.4 297.7,279.7 298.2,279.1 298.7,278.5 299.2,277.9 299.7,277.5 300.2,277.1 300.7,276.9 301.2,276.8 301.7,276.9 302.2,277.4 302.7,278.3 303.2,279.2 303.7,280.3 304.2,281.3 304.7,282.2 305.2,282.9 305.7,283.6 306.2,284.1 306.7,284.5 307.2,284.7 307.7,284.7 308.2,284.2 308.7,283.2 309.2,281.3 309.7,278.4 310.2,274.1 310.7,268.5 311.2,261.5 311.7,253.2 312.2,244.4 312.7,235.8 313.2,228.9 313.7,225.5 314.2,228 314.7,233.4 315.2,240.2 315.7,247.6 316.2,255 316.7,261.9 317.2,267.9 317.7,273 318.2,277.1 318.7,280.4 319.2,282.8 319.7,284.6 320.2,285.9 320.7,286.8 321.2,287.4 321.7,287.8 322.2,288 322.7,288.2 323.2,288.3 323.7,288.3 324.2,288.4 324.7,288.4 325.2,288.4 325.7,288.4 326.2,288.4 326.7,288.4 327.2,288.4 327.7,288.4 328.2,288.4 328.7,288.4 329.2,288.4 329.7,288.4 330.2,288.4 330.7,288.4 331.2,288.4 331.7,288.4 332.2,288.4 332.7,288.4 333.2,288.4 333.7,288.4 334.2,288.4 334.7,288.4 335.2,288.4 335.7,288.4 336.2,288.4 L336.2,288.4 Z" fill="#e59d90"/>
<path d="M269.7,288.4 L269.7,288.4 270.2,288.4 270.7,288.4 271.2,288.4 271.7,288.4 272.2,288.4 272.7,288.4 273.2,288.4 273.7,288.4 274.2,288.4 274.7,288.4 275.2,288.4 275.7,288.4 276.2,288.4 276.7,288.4 277.2,288.4 277.7,288.4 278.2,288.4 278.7,288.4 279.2,288.4 279.7,288.4 280.2,288.4 280.7,288.4 281.2,288.4 281.7,288.4 282.2,288.4 282.7,288.3 283.2,288.2 283.7,288 284.2,287.1 284.7,284.9 285.2,281.9 285.7,279.8 286.2,279.8 286.7,280.4 287.2,281.5 287.7,282.7 288.2,283.8 288.7,284.5 289.2,284.9 289.7,285.1 290.2,285.1 290.7,285 291.2,284.8 291.7,284.7 292.2,284.5 292.7,284.4 293.2,284.2 293.7,284 294.2,283.7 294.7,283.3 295.2,282.8 295.7,282.3 296.2,281.7 296.7,281.1 297.2,280.4 297.7,279.7 298.2,279.1 298.7,278.5 299.2,277.9 299.7,277.5 300.2,277.1 300.7,276.9 301.2,276.8 301.7,276.9 302.2,277.4 302.7,278.3 303.2,279.2 303.7,280.3 304.2,281.3 304.7,282.2 305.2,282.9 305.7,283.6 306.2,284.1 306.7,284.5 307.2,285.2 307.7,285.8 308.2,286.4 308.7,286.9 309.2,287.1 309.7,287.2 310.2,286.9 310.7,286.2 311.2,285 311.7,283 312.2,280.1 312.7,276 313.2,270.7 313.7,264 314.2,256.3 314.7,248.2 315.2,240.7 315.7,247.6 316.2,255 316.7,261.9 317.2,267.9 317.7,273 318.2,277.1 318.7,280.4 319.2,282.8 319.7,284.6 320.2,285.9 320.7,286.8 321.2,287.4 321.7,287.8 322.2,288 322.7,288.2 323.2,288.3 323.7,288.3 324.2,288.4 324.7,288.4 325.2,288.4 325.7,288.4 326.2,288.4 326.7,288.4 327.2,288.4 327.7,288.4 328.2,288.4 328.7,288.4 329.2,288.4 329.7,288.4 330.2,288.4 330.7,288.4 331.2,288.4 331.7,288.4 332.2,288.4 332.7,288.4 333.2,288.4 333.7,288.4 334.2,288.4 334.7,288.4 335.2,288.4 335.7,288.4 336.2,288.4 L336.2,288.4 Z" fill="#aea99f"/>
<path d="M269.7,288.4 L270.2,288.4 L270.7,288.4 L271.2,288.4 L271.7,288.4 L272.2,288.4 L272.7,288.4 L273.2,288.4 L273.7,288.4 L274.2,288.4 L274.7,288.4 L275.2,288.4 L275.7,288.4 L276.2,288.4 L276.7,288.4 L277.2,288.4 L277.7,288.4 L278.2,288.4 L278.7,288.4 L279.2,288.4 L279.7,288.4 L280.2,288.4 L280.7,288.4 L281.2,288.4 L281.7,288.4 L282.2,288.3 L282.7,288.3 L283.2,288.2 L283.7,287.9 L284.2,286.9 L284.7,284.5 L285.2,281 L285.7,278.6 L286.2,278.6 L286.7,279.4 L287.2,280.7 L287.7,282.1 L288.2,283.3 L288.7,284.2 L289.2,284.7 L289.7,284.9 L290.2,284.9 L290.7,284.8 L291.2,284.6 L291.7,284.5 L292.2,284.3 L292.7,284.2 L293.2,284 L293.7,283.7 L294.2,283.4 L294.7,282.9 L295.2,282.4 L295.7,281.8 L296.2,281.1 L296.7,280.4 L297.2,279.6 L297.7,278.8 L298.2,278 L298.7,277.2 L299.2,276.5 L299.7,275.9 L300.2,275.4 L300.7,275 L301.2,274.8 L301.7,274.7 L302.2,275.1 L302.7,275.8 L303.2,276.9 L303.7,278.1 L304.2,279.3 L304.7,280.6 L305.2,281.7 L305.7,282.7 L306.2,283.6 L306.7,284.4 L307.2,285.2 L307.7,285.8 L308.2,286.4 L308.7,286.9 L309.2,287.1 L309.7,287.2 L310.2,286.9 L310.7,286.2 L311.2,285 L311.7,283 L312.2,280.1 L312.7,276 L313.2,270.7 L313.7,264 L314.2,256.3 L314.7,248.2 L315.2,240.7 L315.7,235.3 L316.2,234.3 L316.7,237.5 L317.2,242.4 L317.7,248.3 L318.2,254.6 L318.7,260.7 L319.2,266.3 L319.7,271.2 L320.2,275.4 L320.7,278.8 L321.2,281.4 L321.7,283.5 L322.2,285 L322.7,286.1 L323.2,286.9 L323.7,287.4 L324.2,287.8 L324.7,288 L325.2,288.2 L325.7,288.3 L326.2,288.3 L326.7,288.4 L327.2,288.4 L327.7,288.4 L328.2,288.4 L328.7,288.4 L329.2,288.4 L329.7,288.4 L330.2,288.4 L330.7,288.4 L331.2,288.4 L331.7,288.4 L332.2,288.4 L332.7,288.4 L333.2,288.4 L333.7,288.4 L334.2,288.4 L334.7,288.4 L335.2,288.4 L335.7,288.4 L336.2,288.4" fill="none" stroke="#29345f" stroke-width="1.25" stroke-linejoin="round"/>
<path d="M269.7,288.4 L270.2,288.4 L270.7,288.4 L271.2,288.4 L271.7,288.4 L272.2,288.4 L272.7,288.4 L273.2,288.4 L273.7,288.4 L274.2,288.4 L274.7,288.4 L275.2,288.4 L275.7,288.4 L276.2,288.4 L276.7,288.4 L277.2,288.4 L277.7,288.4 L278.2,288.4 L278.7,288.4 L279.2,288.4 L279.7,288.4 L280.2,288.4 L280.7,288.4 L281.2,288.4 L281.7,288.4 L282.2,288.4 L282.7,288.3 L283.2,288.2 L283.7,288 L284.2,287.1 L284.7,284.9 L285.2,281.9 L285.7,279.8 L286.2,279.8 L286.7,280.4 L287.2,281.5 L287.7,282.7 L288.2,283.8 L288.7,284.5 L289.2,284.9 L289.7,285.1 L290.2,285.1 L290.7,285 L291.2,284.8 L291.7,284.7 L292.2,284.5 L292.7,284.4 L293.2,284.2 L293.7,284 L294.2,283.7 L294.7,283.3 L295.2,282.8 L295.7,282.3 L296.2,281.7 L296.7,281.1 L297.2,280.4 L297.7,279.7 L298.2,279.1 L298.7,278.5 L299.2,277.9 L299.7,277.5 L300.2,277.1 L300.7,276.9 L301.2,276.8 L301.7,276.9 L302.2,277.4 L302.7,278.3 L303.2,279.2 L303.7,280.3 L304.2,281.3 L304.7,282.2 L305.2,282.9 L305.7,283.6 L306.2,284.1 L306.7,284.5 L307.2,284.7 L307.7,284.7 L308.2,284.2 L308.7,283.2 L309.2,281.3 L309.7,278.4 L310.2,274.1 L310.7,268.5 L311.2,261.5 L311.7,253.2 L312.2,244.4 L312.7,235.8 L313.2,228.9 L313.7,225.5 L314.2,228 L314.7,233.4 L315.2,240.2 L315.7,247.6 L316.2,255 L316.7,261.9 L317.2,267.9 L317.7,273 L318.2,277.1 L318.7,280.4 L319.2,282.8 L319.7,284.6 L320.2,285.9 L320.7,286.8 L321.2,287.4 L321.7,287.8 L322.2,288 L322.7,288.2 L323.2,288.3 L323.7,288.3 L324.2,288.4 L324.7,288.4 L325.2,288.4 L325.7,288.4 L326.2,288.4 L326.7,288.4 L327.2,288.4 L327.7,288.4 L328.2,288.4 L328.7,288.4 L329.2,288.4 L329.7,288.4 L330.2,288.4 L330.7,288.4 L331.2,288.4 L331.7,288.4 L332.2,288.4 L332.7,288.4 L333.2,288.4 L333.7,288.4 L334.2,288.4 L334.7,288.4 L335.2,288.4 L335.7,288.4 L336.2,288.4" fill="none" stroke="#9e1d3b" stroke-width="1.25" stroke-linejoin="round"/>
</g>
<rect x="269.7" y="221.9" width="66.5" height="66.5" fill="none" stroke="#000" stroke-width="1.2"/>
<path d="M266.5,230.1H269.7 M266.5,249.5H269.7 M266.5,268.9H269.7 M266.5,287.2H269.7 M267.9,282.6H269.7 M267.9,278H269.7 M267.9,273.5H269.7 M267.9,264.3H269.7 M267.9,259.8H269.7 M267.9,255.2H269.7 M267.9,246H269.7 M267.9,241.4H269.7 M267.9,236.9H269.7 M267.9,227.7H269.7 M267.9,223.1H269.7" stroke="#000" stroke-width="0.8"/>
<text x="264.4" y="232.2" font-size="6.0" text-anchor="end" fill="#222" style="stroke-width:0.2px">600</text>
<text x="264.4" y="251.6" font-size="6.0" text-anchor="end" fill="#222" style="stroke-width:0.2px">400</text>
<text x="264.4" y="271" font-size="6.0" text-anchor="end" fill="#222" style="stroke-width:0.2px">200</text>
<text x="264.4" y="289.3" font-size="6.0" text-anchor="end" fill="#222" style="stroke-width:0.2px">0</text>
<path d="M271.7,288.4v2.6 M285.2,288.4v2.6 M295.3,288.4v2.6 M312.8,288.4v2.6 M330.2,288.4v2.6 M300.6,288.4v1.6 M303.6,288.4v1.6 M305.8,288.4v1.6 M307.5,288.4v1.6 M308.9,288.4v1.6 M310,288.4v1.6 M311.1,288.4v1.6 M312,288.4v1.6 M318.1,288.4v1.6 M321.1,288.4v1.6 M323.3,288.4v1.6 M325,288.4v1.6 M326.4,288.4v1.6 M327.5,288.4v1.6 M328.6,288.4v1.6 M329.5,288.4v1.6 M287.5,288.4v1.6 M282.1,288.4v1.6 M289.3,288.4v1.6 M279.7,288.4v1.6 M290.7,288.4v1.6 M277.9,288.4v1.6 M291.7,288.4v1.6 M276.5,288.4v1.6 M292.6,288.4v1.6 M275.3,288.4v1.6 M293.3,288.4v1.6 M274.4,288.4v1.6 M293.9,288.4v1.6 M273.6,288.4v1.6 M294.4,288.4v1.6 M272.9,288.4v1.6 M294.9,288.4v1.6 M272.3,288.4v1.6" stroke="#000" stroke-width="0.75"/>
<text x="266.1" y="300.2" font-size="6.0" fill="#222" style="stroke-width:0.2px">-10</text>
<text x="275" y="297.4" font-size="4.3" fill="#222" style="stroke-width:0.12px">3</text>
<text x="285.7" y="300.2" font-size="6.0" text-anchor="middle" fill="#222" style="stroke-width:0.2px">0</text>
<text x="291.1" y="300.2" font-size="6.0" fill="#222" style="stroke-width:0.2px">10</text>
<text x="298" y="297.4" font-size="4.3" fill="#222" style="stroke-width:0.12px">3</text>
<text x="309.2" y="300.2" font-size="6.0" fill="#222" style="stroke-width:0.2px">10</text>
<text x="316.1" y="297.4" font-size="4.3" fill="#222" style="stroke-width:0.12px">4</text>
<text x="325.3" y="300.2" font-size="6.0" fill="#222" style="stroke-width:0.2px">10</text>
<text x="332.2" y="297.4" font-size="4.3" fill="#222" style="stroke-width:0.12px">5</text>
<text transform="translate(250.1,255.4) rotate(-90)" font-size="9.0" text-anchor="middle" textLength="21.4" lengthAdjust="spacingAndGlyphs" fill="#111" style="stroke-width:0.15px">Count</text>
<clipPath id="c30"><rect x="69.7" y="313" width="67.8" height="67.5"/></clipPath>
<g clip-path="url(#c30)">
<path d="M69.7,380.5 L69.7,380.5 70.2,380.5 70.7,380.5 71.2,380.5 71.7,380.5 72.2,380.5 72.7,380.5 73.2,380.5 73.7,380.5 74.2,380.5 74.7,380.5 75.2,380.5 75.7,380.5 76.2,380.5 76.7,380.5 77.2,380.5 77.7,380.5 78.2,380.5 78.7,380.5 79.2,380.5 79.7,380.5 80.2,380.5 80.7,380.5 81.2,380.5 81.7,380.4 82.2,380.3 82.7,380.1 83.2,379.8 83.7,379.4 84.2,378.9 84.7,378.5 85.2,378.2 85.7,378.2 86.2,378.4 86.7,378.8 87.2,379.3 87.7,379.7 88.2,380 88.7,380.2 89.2,380.4 89.7,380.4 90.2,380.4 90.7,380.3 91.2,380.2 91.7,380.1 92.2,379.9 92.7,379.6 93.2,379.3 93.7,378.8 94.2,378.2 94.7,377.4 95.2,376.5 95.7,375.5 96.2,374.3 96.7,372.9 97.2,371.6 97.7,370.2 98.2,368.8 98.7,367.6 99.2,366.6 99.7,365.9 100.2,365.4 100.7,365.3 101.2,365.6 101.7,366.4 102.2,367.5 102.7,369 103.2,370.5 103.7,372.1 104.2,373.7 104.7,375 105.2,376.2 105.7,377.2 106.2,377.9 106.7,378.5 107.2,378.8 107.7,379.1 108.2,379.2 108.7,379.3 109.2,379.4 109.7,379.4 110.2,379.5 110.7,379.5 111.2,379.6 111.7,379.7 112.2,379.8 112.7,379.9 113.2,379.9 113.7,380 114.2,380 114.7,379.9 115.2,379.6 115.7,379.3 116.2,378.6 116.7,377.6 117.2,376.2 117.7,374.1 118.2,371.5 118.7,368 119.2,363.9 119.7,359.3 120.2,354.3 120.7,349.7 121.2,345.9 121.7,344.1 122.2,345.1 122.7,347.2 123.2,349.9 123.7,353.1 124.2,356.5 124.7,359.9 125.2,363.1 125.7,366.1 126.2,368.8 126.7,371.1 127.2,373.1 127.7,374.7 128.2,376.1 128.7,377.2 129.2,378 129.7,378.7 130.2,379.2 130.7,379.6 131.2,379.9 131.7,380.1 132.2,380.2 132.7,380.3 133.2,380.4 133.7,380.4 134.2,380.4 134.7,380.5 135.2,380.5 135.7,380.5 136.2,380.5 136.7,380.5 137.2,380.5 L137.2,380.5 Z" fill="#a2a7d2"/>
<path d="M69.7,380.5 L69.7,380.5 70.2,380.5 70.7,380.5 71.2,380.5 71.7,380.5 72.2,380.5 72.7,380.5 73.2,380.5 73.7,380.5 74.2,380.5 74.7,380.5 75.2,380.5 75.7,380.5 76.2,380.5 76.7,380.5 77.2,380.5 77.7,380.5 78.2,380.5 78.7,380.5 79.2,380.5 79.7,380.5 80.2,380.5 80.7,380.5 81.2,380.5 81.7,380.4 82.2,380.4 82.7,380.2 83.2,380 83.7,379.8 84.2,379.5 84.7,379.2 85.2,379 85.7,379 86.2,379.2 86.7,379.4 87.2,379.7 87.7,380 88.2,380.2 88.7,380.3 89.2,380.4 89.7,380.5 90.2,380.5 90.7,380.5 91.2,380.5 91.7,380.5 92.2,380.4 92.7,380.4 93.2,380.3 93.7,380.2 94.2,380.1 94.7,379.9 95.2,379.7 95.7,379.4 96.2,379.1 96.7,378.6 97.2,378.1 97.7,377.6 98.2,377.1 98.7,376.5 99.2,376 99.7,375.6 100.2,375.2 100.7,375 101.2,375 101.7,375.1 102.2,375.4 102.7,375.7 103.2,376.2 103.7,376.7 104.2,377.3 104.7,377.8 105.2,378.3 105.7,378.7 106.2,379.1 106.7,379.3 107.2,379.4 107.7,379.4 108.2,379.1 108.7,378.6 109.2,377.8 109.7,376.5 110.2,374.8 110.7,372.3 111.2,369 111.7,364.8 112.2,359.7 112.7,353.5 113.2,346.5 113.7,339 114.2,331.4 114.7,324.5 115.2,319.1 115.7,316.5 116.2,318.4 116.7,322.5 117.2,327.8 117.7,333.9 118.2,340.3 118.7,346.5 119.2,352.4 119.7,357.7 120.2,362.4 120.7,366.4 121.2,369.7 121.7,372.3 122.2,374.4 122.7,376.1 123.2,377.3 123.7,378.3 124.2,379 124.7,379.4 125.2,379.8 125.7,380 126.2,380.2 126.7,380.3 127.2,380.4 127.7,380.4 128.2,380.5 128.7,380.5 129.2,380.5 129.7,380.5 130.2,380.5 130.7,380.5 131.2,380.5 131.7,380.5 132.2,380.5 132.7,380.5 133.2,380.5 133.7,380.5 134.2,380.5 134.7,380.5 135.2,380.5 135.7,380.5 136.2,380.5 136.7,380.5 137.2,380.5 L137.2,380.5 Z" fill="#e59d90"/>
<path d="M69.7,380.5 L69.7,380.5 70.2,380.5 70.7,380.5 71.2,380.5 71.7,380.5 72.2,380.5 72.7,380.5 73.2,380.5 73.7,380.5 74.2,380.5 74.7,380.5 75.2,380.5 75.7,380.5 76.2,380.5 76.7,380.5 77.2,380.5 77.7,380.5 78.2,380.5 78.7,380.5 79.2,380.5 79.7,380.5 80.2,380.5 80.7,380.5 81.2,380.5 81.7,380.4 82.2,380.4 82.7,380.2 83.2,380 83.7,379.8 84.2,379.5 84.7,379.2 85.2,379 85.7,379 86.2,379.2 86.7,379.4 87.2,379.7 87.7,380 88.2,380.2 88.7,380.3 89.2,380.4 89.7,380.5 90.2,380.5 90.7,380.5 91.2,380.5 91.7,380.5 92.2,380.4 92.7,380.4 93.2,380.3 93.7,380.2 94.2,380.1 94.7,379.9 95.2,379.7 95.7,379.4 96.2,379.1 96.7,378.6 97.2,378.1 97.7,377.6 98.2,377.1 98.7,376.5 99.2,376 99.7,375.6 100.2,375.2 100.7,375 101.2,375 101.7,375.1 102.2,375.4 102.7,375.7 103.2,376.2 103.7,376.7 104.2,377.3 104.7,377.8 105.2,378.3 105.7,378.7 106.2,379.1 106.7,379.3 107.2,379.4 107.7,379.4 108.2,379.2 108.7,379.3 109.2,379.4 109.7,379.4 110.2,379.5 110.7,379.5 111.2,379.6 111.7,379.7 112.2,379.8 112.7,379.9 113.2,379.9 113.7,380 114.2,380 114.7,379.9 115.2,379.6 115.7,379.3 116.2,378.6 116.7,377.6 117.2,376.2 117.7,374.1 118.2,371.5 118.7,368 119.2,363.9 119.7,359.3 120.2,362.4 120.7,366.4 121.2,369.7 121.7,372.3 122.2,374.4 122.7,376.1 123.2,377.3 123.7,378.3 124.2,379 124.7,379.4 125.2,379.8 125.7,380 126.2,380.2 126.7,380.3 127.2,380.4 127.7,380.4 128.2,380.5 128.7,380.5 129.2,380.5 129.7,380.5 130.2,380.5 130.7,380.5 131.2,380.5 131.7,380.5 132.2,380.5 132.7,380.5 133.2,380.5 133.7,380.5 134.2,380.5 134.7,380.5 135.2,380.5 135.7,380.5 136.2,380.5 136.7,380.5 137.2,380.5 L137.2,380.5 Z" fill="#aea99f"/>
<path d="M69.7,380.5 L70.2,380.5 L70.7,380.5 L71.2,380.5 L71.7,380.5 L72.2,380.5 L72.7,380.5 L73.2,380.5 L73.7,380.5 L74.2,380.5 L74.7,380.5 L75.2,380.5 L75.7,380.5 L76.2,380.5 L76.7,380.5 L77.2,380.5 L77.7,380.5 L78.2,380.5 L78.7,380.5 L79.2,380.5 L79.7,380.5 L80.2,380.5 L80.7,380.5 L81.2,380.5 L81.7,380.4 L82.2,380.3 L82.7,380.1 L83.2,379.8 L83.7,379.4 L84.2,378.9 L84.7,378.5 L85.2,378.2 L85.7,378.2 L86.2,378.4 L86.7,378.8 L87.2,379.3 L87.7,379.7 L88.2,380 L88.7,380.2 L89.2,380.4 L89.7,380.4 L90.2,380.4 L90.7,380.3 L91.2,380.2 L91.7,380.1 L92.2,379.9 L92.7,379.6 L93.2,379.3 L93.7,378.8 L94.2,378.2 L94.7,377.4 L95.2,376.5 L95.7,375.5 L96.2,374.3 L96.7,372.9 L97.2,371.6 L97.7,370.2 L98.2,368.8 L98.7,367.6 L99.2,366.6 L99.7,365.9 L100.2,365.4 L100.7,365.3 L101.2,365.6 L101.7,366.4 L102.2,367.5 L102.7,369 L103.2,370.5 L103.7,372.1 L104.2,373.7 L104.7,375 L105.2,376.2 L105.7,377.2 L106.2,377.9 L106.7,378.5 L107.2,378.8 L107.7,379.1 L108.2,379.2 L108.7,379.3 L109.2,379.4 L109.7,379.4 L110.2,379.5 L110.7,379.5 L111.2,379.6 L111.7,379.7 L112.2,379.8 L112.7,379.9 L113.2,379.9 L113.7,380 L114.2,380 L114.7,379.9 L115.2,379.6 L115.7,379.3 L116.2,378.6 L116.7,377.6 L117.2,376.2 L117.7,374.1 L118.2,371.5 L118.7,368 L119.2,363.9 L119.7,359.3 L120.2,354.3 L120.7,349.7 L121.2,345.9 L121.7,344.1 L122.2,345.1 L122.7,347.2 L123.2,349.9 L123.7,353.1 L124.2,356.5 L124.7,359.9 L125.2,363.1 L125.7,366.1 L126.2,368.8 L126.7,371.1 L127.2,373.1 L127.7,374.7 L128.2,376.1 L128.7,377.2 L129.2,378 L129.7,378.7 L130.2,379.2 L130.7,379.6 L131.2,379.9 L131.7,380.1 L132.2,380.2 L132.7,380.3 L133.2,380.4 L133.7,380.4 L134.2,380.4 L134.7,380.5 L135.2,380.5 L135.7,380.5 L136.2,380.5 L136.7,380.5 L137.2,380.5" fill="none" stroke="#29345f" stroke-width="1.25" stroke-linejoin="round"/>
<path d="M69.7,380.5 L70.2,380.5 L70.7,380.5 L71.2,380.5 L71.7,380.5 L72.2,380.5 L72.7,380.5 L73.2,380.5 L73.7,380.5 L74.2,380.5 L74.7,380.5 L75.2,380.5 L75.7,380.5 L76.2,380.5 L76.7,380.5 L77.2,380.5 L77.7,380.5 L78.2,380.5 L78.7,380.5 L79.2,380.5 L79.7,380.5 L80.2,380.5 L80.7,380.5 L81.2,380.5 L81.7,380.4 L82.2,380.4 L82.7,380.2 L83.2,380 L83.7,379.8 L84.2,379.5 L84.7,379.2 L85.2,379 L85.7,379 L86.2,379.2 L86.7,379.4 L87.2,379.7 L87.7,380 L88.2,380.2 L88.7,380.3 L89.2,380.4 L89.7,380.5 L90.2,380.5 L90.7,380.5 L91.2,380.5 L91.7,380.5 L92.2,380.4 L92.7,380.4 L93.2,380.3 L93.7,380.2 L94.2,380.1 L94.7,379.9 L95.2,379.7 L95.7,379.4 L96.2,379.1 L96.7,378.6 L97.2,378.1 L97.7,377.6 L98.2,377.1 L98.7,376.5 L99.2,376 L99.7,375.6 L100.2,375.2 L100.7,375 L101.2,375 L101.7,375.1 L102.2,375.4 L102.7,375.7 L103.2,376.2 L103.7,376.7 L104.2,377.3 L104.7,377.8 L105.2,378.3 L105.7,378.7 L106.2,379.1 L106.7,379.3 L107.2,379.4 L107.7,379.4 L108.2,379.1 L108.7,378.6 L109.2,377.8 L109.7,376.5 L110.2,374.8 L110.7,372.3 L111.2,369 L111.7,364.8 L112.2,359.7 L112.7,353.5 L113.2,346.5 L113.7,339 L114.2,331.4 L114.7,324.5 L115.2,319.1 L115.7,316.5 L116.2,318.4 L116.7,322.5 L117.2,327.8 L117.7,333.9 L118.2,340.3 L118.7,346.5 L119.2,352.4 L119.7,357.7 L120.2,362.4 L120.7,366.4 L121.2,369.7 L121.7,372.3 L122.2,374.4 L122.7,376.1 L123.2,377.3 L123.7,378.3 L124.2,379 L124.7,379.4 L125.2,379.8 L125.7,380 L126.2,380.2 L126.7,380.3 L127.2,380.4 L127.7,380.4 L128.2,380.5 L128.7,380.5 L129.2,380.5 L129.7,380.5 L130.2,380.5 L130.7,380.5 L131.2,380.5 L131.7,380.5 L132.2,380.5 L132.7,380.5 L133.2,380.5 L133.7,380.5 L134.2,380.5 L134.7,380.5 L135.2,380.5 L135.7,380.5 L136.2,380.5 L136.7,380.5 L137.2,380.5" fill="none" stroke="#9e1d3b" stroke-width="1.25" stroke-linejoin="round"/>
</g>
<rect x="69.7" y="313" width="67.8" height="67.5" fill="none" stroke="#000" stroke-width="1.2"/>
<path d="M66.5,328.2H69.7 M66.5,346H69.7 M66.5,363.6H69.7 M66.5,380H69.7 M67.9,375.9H69.7 M67.9,371.8H69.7 M67.9,367.7H69.7 M67.9,359.5H69.7 M67.9,355.4H69.7 M67.9,351.3H69.7 M67.9,343.1H69.7 M67.9,339H69.7 M67.9,334.9H69.7 M67.9,326.7H69.7 M67.9,322.6H69.7 M67.9,318.5H69.7" stroke="#000" stroke-width="0.8"/>
<text x="64.4" y="330.3" font-size="6.0" text-anchor="end" fill="#222" style="stroke-width:0.2px">600</text>
<text x="64.4" y="348.1" font-size="6.0" text-anchor="end" fill="#222" style="stroke-width:0.2px">400</text>
<text x="64.4" y="365.7" font-size="6.0" text-anchor="end" fill="#222" style="stroke-width:0.2px">200</text>
<text x="64.4" y="382.1" font-size="6.0" text-anchor="end" fill="#222" style="stroke-width:0.2px">0</text>
<path d="M71.7,380.5v2.6 M85.5,380.5v2.6 M95.8,380.5v2.6 M113.6,380.5v2.6 M131.4,380.5v2.6 M101.2,380.5v1.6 M104.3,380.5v1.6 M106.5,380.5v1.6 M108.2,380.5v1.6 M109.6,380.5v1.6 M110.8,380.5v1.6 M111.9,380.5v1.6 M112.8,380.5v1.6 M119,380.5v1.6 M122.1,380.5v1.6 M124.4,380.5v1.6 M126.1,380.5v1.6 M127.5,380.5v1.6 M128.7,380.5v1.6 M129.7,380.5v1.6 M130.6,380.5v1.6 M87.9,380.5v1.6 M82.4,380.5v1.6 M89.7,380.5v1.6 M79.9,380.5v1.6 M91.1,380.5v1.6 M78,380.5v1.6 M92.2,380.5v1.6 M76.6,380.5v1.6 M93,380.5v1.6 M75.5,380.5v1.6 M93.7,380.5v1.6 M74.5,380.5v1.6 M94.4,380.5v1.6 M73.7,380.5v1.6 M94.9,380.5v1.6 M73,380.5v1.6 M95.4,380.5v1.6 M72.3,380.5v1.6" stroke="#000" stroke-width="0.75"/>
<text x="66.1" y="392.3" font-size="6.0" fill="#222" style="stroke-width:0.2px">-10</text>
<text x="75.1" y="389.5" font-size="4.3" fill="#222" style="stroke-width:0.12px">3</text>
<text x="86" y="392.3" font-size="6.0" text-anchor="middle" fill="#222" style="stroke-width:0.2px">0</text>
<text x="91.6" y="392.3" font-size="6.0" fill="#222" style="stroke-width:0.2px">10</text>
<text x="98.5" y="389.5" font-size="4.3" fill="#222" style="stroke-width:0.12px">3</text>
<text x="110" y="392.3" font-size="6.0" fill="#222" style="stroke-width:0.2px">10</text>
<text x="117" y="389.5" font-size="4.3" fill="#222" style="stroke-width:0.12px">4</text>
<text x="126.4" y="392.3" font-size="6.0" fill="#222" style="stroke-width:0.2px">10</text>
<text x="133.4" y="389.5" font-size="4.3" fill="#222" style="stroke-width:0.12px">5</text>
<text transform="translate(50.1,347.1) rotate(-90)" font-size="9.0" text-anchor="middle" textLength="21.4" lengthAdjust="spacingAndGlyphs" fill="#111" style="stroke-width:0.15px">Count</text>
<clipPath id="c31"><rect x="168.4" y="311.9" width="67.5" height="68.6"/></clipPath>
<g clip-path="url(#c31)">
<path d="M168.4,380.5 L168.4,380.5 168.9,380.5 169.4,380.5 169.9,380.5 170.4,380.5 170.9,380.5 171.4,380.5 171.9,380.5 172.4,380.5 172.9,380.5 173.4,380.5 173.9,380.5 174.4,380.5 174.9,380.5 175.4,380.5 175.9,380.5 176.4,380.5 176.9,380.5 177.4,380.5 177.9,380.5 178.4,380.5 178.9,380.5 179.4,380.5 179.9,380.4 180.4,380.4 180.9,380.2 181.4,380 181.9,379.7 182.4,379.2 182.9,378.7 183.4,378.3 183.9,378.1 184.4,378.1 184.9,378.3 185.4,378.7 185.9,379.1 186.4,379.5 186.9,379.7 187.4,379.8 187.9,379.8 188.4,379.7 188.9,379.5 189.4,379.3 189.9,379 190.4,378.8 190.9,378.5 191.4,378.1 191.9,377.8 192.4,377.4 192.9,377 193.4,376.7 193.9,376.3 194.4,376 194.9,375.6 195.4,375.4 195.9,375.2 196.4,375 196.9,374.9 197.4,374.9 197.9,374.9 198.4,375.1 198.9,375.2 199.4,375.5 199.9,375.8 200.4,376.1 200.9,376.4 201.4,376.8 201.9,377.2 202.4,377.6 202.9,377.9 203.4,378.3 203.9,378.6 204.4,378.9 204.9,379.2 205.4,379.4 205.9,379.6 206.4,379.8 206.9,379.9 207.4,380 207.9,380.1 208.4,380.2 208.9,380.2 209.4,380.1 209.9,380.1 210.4,379.9 210.9,379.7 211.4,379.4 211.9,378.9 212.4,378.2 212.9,377.2 213.4,376 213.9,374.4 214.4,372.4 214.9,369.8 215.4,366.8 215.9,363.2 216.4,359.2 216.9,354.8 217.4,350.2 217.9,345.6 218.4,341.4 218.9,338 219.4,335.8 219.9,336 220.4,338 220.9,341 221.4,344.6 221.9,348.6 222.4,352.6 222.9,356.6 223.4,360.4 223.9,363.8 224.4,366.9 224.9,369.6 225.4,371.9 225.9,373.8 226.4,375.3 226.9,376.6 227.4,377.6 227.9,378.3 228.4,378.9 228.9,379.4 229.4,379.7 229.9,379.9 230.4,380.1 230.9,380.2 231.4,380.3 231.9,380.4 232.4,380.4 232.9,380.4 233.4,380.5 233.9,380.5 234.4,380.5 234.9,380.5 235.4,380.5 235.9,380.5 L235.9,380.5 Z" fill="#a2a7d2"/>
<path d="M168.4,380.5 L168.4,380.5 168.9,380.5 169.4,380.5 169.9,380.5 170.4,380.5 170.9,380.5 171.4,380.5 171.9,380.5 172.4,380.5 172.9,380.5 173.4,380.5 173.9,380.5 174.4,380.5 174.9,380.5 175.4,380.5 175.9,380.5 176.4,380.5 176.9,380.5 177.4,380.5 177.9,380.5 178.4,380.5 178.9,380.5 179.4,380.5 179.9,380.5 180.4,380.4 180.9,380.3 181.4,380.2 181.9,380 182.4,379.7 182.9,379.4 183.4,379.1 183.9,379 184.4,379 184.9,379.2 185.4,379.4 185.9,379.7 186.4,380 186.9,380.1 187.4,380.2 187.9,380.3 188.4,380.2 188.9,380.2 189.4,380.1 189.9,380 190.4,379.8 190.9,379.7 191.4,379.5 191.9,379.3 192.4,379.1 192.9,378.8 193.4,378.6 193.9,378.3 194.4,378.1 194.9,377.9 195.4,377.7 195.9,377.5 196.4,377.3 196.9,377.3 197.4,377.2 197.9,377.2 198.4,377.3 198.9,377.4 199.4,377.5 199.9,377.7 200.4,377.9 200.9,378.2 201.4,378.4 201.9,378.6 202.4,378.9 202.9,379.1 203.4,379.3 203.9,379.5 204.4,379.6 204.9,379.7 205.4,379.7 205.9,379.5 206.4,379.2 206.9,378.7 207.4,377.9 207.9,376.6 208.4,374.7 208.9,372.1 209.4,368.7 209.9,364.2 210.4,358.6 210.9,352 211.4,344.4 211.9,336.4 212.4,328.5 212.9,321.6 213.4,316.7 213.9,316 214.4,319.8 214.9,325.7 215.4,332.7 215.9,340.2 216.4,347.4 216.9,354.1 217.4,360 217.9,365 218.4,369 218.9,372.2 219.4,374.6 219.9,376.5 220.4,377.8 220.9,378.7 221.4,379.3 221.9,379.8 222.4,380 222.9,380.2 223.4,380.3 223.9,380.4 224.4,380.4 224.9,380.5 225.4,380.5 225.9,380.5 226.4,380.5 226.9,380.5 227.4,380.5 227.9,380.5 228.4,380.5 228.9,380.5 229.4,380.5 229.9,380.5 230.4,380.5 230.9,380.5 231.4,380.5 231.9,380.5 232.4,380.5 232.9,380.5 233.4,380.5 233.9,380.5 234.4,380.5 234.9,380.5 235.4,380.5 235.9,380.5 L235.9,380.5 Z" fill="#e59d90"/>
<path d="M168.4,380.5 L168.4,380.5 168.9,380.5 169.4,380.5 169.9,380.5 170.4,380.5 170.9,380.5 171.4,380.5 171.9,380.5 172.4,380.5 172.9,380.5 173.4,380.5 173.9,380.5 174.4,380.5 174.9,380.5 175.4,380.5 175.9,380.5 176.4,380.5 176.9,380.5 177.4,380.5 177.9,380.5 178.4,380.5 178.9,380.5 179.4,380.5 179.9,380.5 180.4,380.4 180.9,380.3 181.4,380.2 181.9,380 182.4,379.7 182.9,379.4 183.4,379.1 183.9,379 184.4,379 184.9,379.2 185.4,379.4 185.9,379.7 186.4,380 186.9,380.1 187.4,380.2 187.9,380.3 188.4,380.2 188.9,380.2 189.4,380.1 189.9,380 190.4,379.8 190.9,379.7 191.4,379.5 191.9,379.3 192.4,379.1 192.9,378.8 193.4,378.6 193.9,378.3 194.4,378.1 194.9,377.9 195.4,377.7 195.9,377.5 196.4,377.3 196.9,377.3 197.4,377.2 197.9,377.2 198.4,377.3 198.9,377.4 199.4,377.5 199.9,377.7 200.4,377.9 200.9,378.2 201.4,378.4 201.9,378.6 202.4,378.9 202.9,379.1 203.4,379.3 203.9,379.5 204.4,379.6 204.9,379.7 205.4,379.7 205.9,379.6 206.4,379.8 206.9,379.9 207.4,380 207.9,380.1 208.4,380.2 208.9,380.2 209.4,380.1 209.9,380.1 210.4,379.9 210.9,379.7 211.4,379.4 211.9,378.9 212.4,378.2 212.9,377.2 213.4,376 213.9,374.4 214.4,372.4 214.9,369.8 215.4,366.8 215.9,363.2 216.4,359.2 216.9,354.8 217.4,360 217.9,365 218.4,369 218.9,372.2 219.4,374.6 219.9,376.5 220.4,377.8 220.9,378.7 221.4,379.3 221.9,379.8 222.4,380 222.9,380.2 223.4,380.3 223.9,380.4 224.4,380.4 224.9,380.5 225.4,380.5 225.9,380.5 226.4,380.5 226.9,380.5 227.4,380.5 227.9,380.5 228.4,380.5 228.9,380.5 229.4,380.5 229.9,380.5 230.4,380.5 230.9,380.5 231.4,380.5 231.9,380.5 232.4,380.5 232.9,380.5 233.4,380.5 233.9,380.5 234.4,380.5 234.9,380.5 235.4,380.5 235.9,380.5 L235.9,380.5 Z" fill="#aea99f"/>
<path d="M168.4,380.5 L168.9,380.5 L169.4,380.5 L169.9,380.5 L170.4,380.5 L170.9,380.5 L171.4,380.5 L171.9,380.5 L172.4,380.5 L172.9,380.5 L173.4,380.5 L173.9,380.5 L174.4,380.5 L174.9,380.5 L175.4,380.5 L175.9,380.5 L176.4,380.5 L176.9,380.5 L177.4,380.5 L177.9,380.5 L178.4,380.5 L178.9,380.5 L179.4,380.5 L179.9,380.4 L180.4,380.4 L180.9,380.2 L181.4,380 L181.9,379.7 L182.4,379.2 L182.9,378.7 L183.4,378.3 L183.9,378.1 L184.4,378.1 L184.9,378.3 L185.4,378.7 L185.9,379.1 L186.4,379.5 L186.9,379.7 L187.4,379.8 L187.9,379.8 L188.4,379.7 L188.9,379.5 L189.4,379.3 L189.9,379 L190.4,378.8 L190.9,378.5 L191.4,378.1 L191.9,377.8 L192.4,377.4 L192.9,377 L193.4,376.7 L193.9,376.3 L194.4,376 L194.9,375.6 L195.4,375.4 L195.9,375.2 L196.4,375 L196.9,374.9 L197.4,374.9 L197.9,374.9 L198.4,375.1 L198.9,375.2 L199.4,375.5 L199.9,375.8 L200.4,376.1 L200.9,376.4 L201.4,376.8 L201.9,377.2 L202.4,377.6 L202.9,377.9 L203.4,378.3 L203.9,378.6 L204.4,378.9 L204.9,379.2 L205.4,379.4 L205.9,379.6 L206.4,379.8 L206.9,379.9 L207.4,380 L207.9,380.1 L208.4,380.2 L208.9,380.2 L209.4,380.1 L209.9,380.1 L210.4,379.9 L210.9,379.7 L211.4,379.4 L211.9,378.9 L212.4,378.2 L212.9,377.2 L213.4,376 L213.9,374.4 L214.4,372.4 L214.9,369.8 L215.4,366.8 L215.9,363.2 L216.4,359.2 L216.9,354.8 L217.4,350.2 L217.9,345.6 L218.4,341.4 L218.9,338 L219.4,335.8 L219.9,336 L220.4,338 L220.9,341 L221.4,344.6 L221.9,348.6 L222.4,352.6 L222.9,356.6 L223.4,360.4 L223.9,363.8 L224.4,366.9 L224.9,369.6 L225.4,371.9 L225.9,373.8 L226.4,375.3 L226.9,376.6 L227.4,377.6 L227.9,378.3 L228.4,378.9 L228.9,379.4 L229.4,379.7 L229.9,379.9 L230.4,380.1 L230.9,380.2 L231.4,380.3 L231.9,380.4 L232.4,380.4 L232.9,380.4 L233.4,380.5 L233.9,380.5 L234.4,380.5 L234.9,380.5 L235.4,380.5 L235.9,380.5" fill="none" stroke="#29345f" stroke-width="1.25" stroke-linejoin="round"/>
<path d="M168.4,380.5 L168.9,380.5 L169.4,380.5 L169.9,380.5 L170.4,380.5 L170.9,380.5 L171.4,380.5 L171.9,380.5 L172.4,380.5 L172.9,380.5 L173.4,380.5 L173.9,380.5 L174.4,380.5 L174.9,380.5 L175.4,380.5 L175.9,380.5 L176.4,380.5 L176.9,380.5 L177.4,380.5 L177.9,380.5 L178.4,380.5 L178.9,380.5 L179.4,380.5 L179.9,380.5 L180.4,380.4 L180.9,380.3 L181.4,380.2 L181.9,380 L182.4,379.7 L182.9,379.4 L183.4,379.1 L183.9,379 L184.4,379 L184.9,379.2 L185.4,379.4 L185.9,379.7 L186.4,380 L186.9,380.1 L187.4,380.2 L187.9,380.3 L188.4,380.2 L188.9,380.2 L189.4,380.1 L189.9,380 L190.4,379.8 L190.9,379.7 L191.4,379.5 L191.9,379.3 L192.4,379.1 L192.9,378.8 L193.4,378.6 L193.9,378.3 L194.4,378.1 L194.9,377.9 L195.4,377.7 L195.9,377.5 L196.4,377.3 L196.9,377.3 L197.4,377.2 L197.9,377.2 L198.4,377.3 L198.9,377.4 L199.4,377.5 L199.9,377.7 L200.4,377.9 L200.9,378.2 L201.4,378.4 L201.9,378.6 L202.4,378.9 L202.9,379.1 L203.4,379.3 L203.9,379.5 L204.4,379.6 L204.9,379.7 L205.4,379.7 L205.9,379.5 L206.4,379.2 L206.9,378.7 L207.4,377.9 L207.9,376.6 L208.4,374.7 L208.9,372.1 L209.4,368.7 L209.9,364.2 L210.4,358.6 L210.9,352 L211.4,344.4 L211.9,336.4 L212.4,328.5 L212.9,321.6 L213.4,316.7 L213.9,316 L214.4,319.8 L214.9,325.7 L215.4,332.7 L215.9,340.2 L216.4,347.4 L216.9,354.1 L217.4,360 L217.9,365 L218.4,369 L218.9,372.2 L219.4,374.6 L219.9,376.5 L220.4,377.8 L220.9,378.7 L221.4,379.3 L221.9,379.8 L222.4,380 L222.9,380.2 L223.4,380.3 L223.9,380.4 L224.4,380.4 L224.9,380.5 L225.4,380.5 L225.9,380.5 L226.4,380.5 L226.9,380.5 L227.4,380.5 L227.9,380.5 L228.4,380.5 L228.9,380.5 L229.4,380.5 L229.9,380.5 L230.4,380.5 L230.9,380.5 L231.4,380.5 L231.9,380.5 L232.4,380.5 L232.9,380.5 L233.4,380.5 L233.9,380.5 L234.4,380.5 L234.9,380.5 L235.4,380.5 L235.9,380.5" fill="none" stroke="#9e1d3b" stroke-width="1.25" stroke-linejoin="round"/>
</g>
<rect x="168.4" y="311.9" width="67.5" height="68.6" fill="none" stroke="#000" stroke-width="1.2"/>
<path d="M165.2,325.6H168.4 M165.2,343.8H168.4 M165.2,361.9H168.4 M165.2,379.8H168.4 M166.6,375.3H168.4 M166.6,370.9H168.4 M166.6,366.4H168.4 M166.6,357.4H168.4 M166.6,352.9H168.4 M166.6,348.5H168.4 M166.6,339.5H168.4 M166.6,335H168.4 M166.6,330.6H168.4 M166.6,321.6H168.4 M166.6,317.1H168.4 M166.6,312.7H168.4" stroke="#000" stroke-width="0.8"/>
<text x="163.1" y="327.7" font-size="6.0" text-anchor="end" fill="#222" style="stroke-width:0.2px">600</text>
<text x="163.1" y="345.9" font-size="6.0" text-anchor="end" fill="#222" style="stroke-width:0.2px">400</text>
<text x="163.1" y="364" font-size="6.0" text-anchor="end" fill="#222" style="stroke-width:0.2px">200</text>
<text x="163.1" y="381.9" font-size="6.0" text-anchor="end" fill="#222" style="stroke-width:0.2px">0</text>
<path d="M170.4,380.5v2.6 M184.1,380.5v2.6 M194.4,380.5v2.6 M212.1,380.5v2.6 M229.8,380.5v2.6 M199.7,380.5v1.6 M202.8,380.5v1.6 M205,380.5v1.6 M206.8,380.5v1.6 M208.2,380.5v1.6 M209.4,380.5v1.6 M210.4,380.5v1.6 M211.3,380.5v1.6 M217.5,380.5v1.6 M220.6,380.5v1.6 M222.8,380.5v1.6 M224.5,380.5v1.6 M225.9,380.5v1.6 M227.1,380.5v1.6 M228.1,380.5v1.6 M229.1,380.5v1.6 M186.5,380.5v1.6 M181,380.5v1.6 M188.3,380.5v1.6 M178.5,380.5v1.6 M189.7,380.5v1.6 M176.7,380.5v1.6 M190.8,380.5v1.6 M175.3,380.5v1.6 M191.6,380.5v1.6 M174.1,380.5v1.6 M192.3,380.5v1.6 M173.2,380.5v1.6 M192.9,380.5v1.6 M172.4,380.5v1.6 M193.5,380.5v1.6 M171.6,380.5v1.6 M194,380.5v1.6 M171,380.5v1.6" stroke="#000" stroke-width="0.75"/>
<text x="164.8" y="392.3" font-size="6.0" fill="#222" style="stroke-width:0.2px">-10</text>
<text x="173.8" y="389.5" font-size="4.3" fill="#222" style="stroke-width:0.12px">3</text>
<text x="184.6" y="392.3" font-size="6.0" text-anchor="middle" fill="#222" style="stroke-width:0.2px">0</text>
<text x="190.2" y="392.3" font-size="6.0" fill="#222" style="stroke-width:0.2px">10</text>
<text x="197.1" y="389.5" font-size="4.3" fill="#222" style="stroke-width:0.12px">3</text>
<text x="208.5" y="392.3" font-size="6.0" fill="#222" style="stroke-width:0.2px">10</text>
<text x="215.5" y="389.5" font-size="4.3" fill="#222" style="stroke-width:0.12px">4</text>
<text x="224.9" y="392.3" font-size="6.0" fill="#222" style="stroke-width:0.2px">10</text>
<text x="231.8" y="389.5" font-size="4.3" fill="#222" style="stroke-width:0.12px">5</text>
<text transform="translate(148.8,346.5) rotate(-90)" font-size="9.0" text-anchor="middle" textLength="21.4" lengthAdjust="spacingAndGlyphs" fill="#111" style="stroke-width:0.15px">Count</text>
<clipPath id="c32"><rect x="267.6" y="311.9" width="69.2" height="68.6"/></clipPath>
<g clip-path="url(#c32)">
<path d="M267.6,380.5 L267.6,380.5 268.1,380.5 268.6,380.5 269.1,380.5 269.6,380.5 270.1,380.5 270.6,380.5 271.1,380.5 271.6,380.5 272.1,380.5 272.6,380.5 273.1,380.5 273.6,380.5 274.1,380.5 274.6,380.5 275.1,380.5 275.6,380.5 276.1,380.5 276.6,380.5 277.1,380.5 277.6,380.5 278.1,380.5 278.6,380.5 279.1,380.5 279.6,380.5 280.1,380.5 280.6,380.5 281.1,380.5 281.6,380.5 282.1,380.5 282.6,380.5 283.1,380.4 283.6,380.4 284.1,380.4 284.6,380.4 285.1,380.3 285.6,380.3 286.1,380.2 286.6,380.1 287.1,380.1 287.6,380 288.1,379.9 288.6,379.7 289.1,379.6 289.6,379.5 290.1,379.3 290.6,379.1 291.1,378.9 291.6,378.8 292.1,378.6 292.6,378.4 293.1,378.2 293.6,378 294.1,377.8 294.6,377.7 295.1,377.5 295.6,377.4 296.1,377.4 296.6,377.3 297.1,377.3 297.6,377.3 298.1,377.4 298.6,377.4 299.1,377.5 299.6,377.7 300.1,377.8 300.6,378 301.1,378.2 301.6,378.4 302.1,378.6 302.6,378.8 303.1,378.9 303.6,379.1 304.1,379.3 304.6,379.5 305.1,379.6 305.6,379.7 306.1,379.8 306.6,379.9 307.1,380 307.6,380 308.1,380 308.6,379.9 309.1,379.8 309.6,379.5 310.1,379.1 310.6,378.6 311.1,377.7 311.6,376.6 312.1,375.1 312.6,373.2 313.1,370.7 313.6,367.6 314.1,363.9 314.6,359.5 315.1,354.7 315.6,349.4 316.1,344 316.6,338.9 317.1,334.3 317.6,331.1 318.1,330 318.6,331.7 319.1,334.9 319.6,338.9 320.1,343.4 320.6,348.1 321.1,352.7 321.6,357.2 322.1,361.2 322.6,364.9 323.1,368 323.6,370.7 324.1,372.9 324.6,374.7 325.1,376.2 325.6,377.3 326.1,378.2 326.6,378.8 327.1,379.3 327.6,379.7 328.1,379.9 328.6,380.1 329.1,380.2 329.6,380.3 330.1,380.4 330.6,380.4 331.1,380.5 331.6,380.5 332.1,380.5 332.6,380.5 333.1,380.5 333.6,380.5 334.1,380.5 334.6,380.5 335.1,380.5 335.6,380.5 336.1,380.5 336.6,380.5 L336.6,380.5 Z" fill="#a2a7d2"/>
<path d="M267.6,380.5 L267.6,380.5 268.1,380.5 268.6,380.5 269.1,380.5 269.6,380.5 270.1,380.5 270.6,380.5 271.1,380.5 271.6,380.5 272.1,380.5 272.6,380.5 273.1,380.5 273.6,380.5 274.1,380.5 274.6,380.5 275.1,380.5 275.6,380.5 276.1,380.5 276.6,380.5 277.1,380.5 277.6,380.5 278.1,380.5 278.6,380.5 279.1,380.5 279.6,380.5 280.1,380.5 280.6,380.5 281.1,380.5 281.6,380.5 282.1,380.5 282.6,380.5 283.1,380.4 283.6,380.4 284.1,380.4 284.6,380.4 285.1,380.3 285.6,380.3 286.1,380.2 286.6,380.2 287.1,380.1 287.6,380 288.1,379.9 288.6,379.8 289.1,379.7 289.6,379.6 290.1,379.4 290.6,379.3 291.1,379.1 291.6,379 292.1,378.8 292.6,378.7 293.1,378.5 293.6,378.4 294.1,378.3 294.6,378.1 295.1,378 295.6,378 296.1,377.9 296.6,377.9 297.1,377.9 297.6,377.9 298.1,378 298.6,378.1 299.1,378.2 299.6,378.3 300.1,378.4 300.6,378.5 301.1,378.7 301.6,378.8 302.1,378.9 302.6,379 303.1,379.1 303.6,379 304.1,378.9 304.6,378.5 305.1,377.9 305.6,376.9 306.1,375.3 306.6,373.1 307.1,370.1 307.6,366 308.1,360.9 308.6,354.6 309.1,347.4 309.6,339.5 310.1,331.5 310.6,324.3 311.1,318.8 311.6,317 312.1,319.3 312.6,323.4 313.1,328.7 313.6,334.6 314.1,340.7 314.6,346.7 315.1,352.4 315.6,357.5 316.1,362.1 316.6,366 317.1,369.2 317.6,371.9 318.1,374.1 318.6,375.7 319.1,377 319.6,378 320.1,378.7 320.6,379.3 321.1,379.7 321.6,379.9 322.1,380.1 322.6,380.3 323.1,380.3 323.6,380.4 324.1,380.4 324.6,380.5 325.1,380.5 325.6,380.5 326.1,380.5 326.6,380.5 327.1,380.5 327.6,380.5 328.1,380.5 328.6,380.5 329.1,380.5 329.6,380.5 330.1,380.5 330.6,380.5 331.1,380.5 331.6,380.5 332.1,380.5 332.6,380.5 333.1,380.5 333.6,380.5 334.1,380.5 334.6,380.5 335.1,380.5 335.6,380.5 336.1,380.5 336.6,380.5 L336.6,380.5 Z" fill="#e59d90"/>
<path d="M267.6,380.5 L267.6,380.5 268.1,380.5 268.6,380.5 269.1,380.5 269.6,380.5 270.1,380.5 270.6,380.5 271.1,380.5 271.6,380.5 272.1,380.5 272.6,380.5 273.1,380.5 273.6,380.5 274.1,380.5 274.6,380.5 275.1,380.5 275.6,380.5 276.1,380.5 276.6,380.5 277.1,380.5 277.6,380.5 278.1,380.5 278.6,380.5 279.1,380.5 279.6,380.5 280.1,380.5 280.6,380.5 281.1,380.5 281.6,380.5 282.1,380.5 282.6,380.5 283.1,380.4 283.6,380.4 284.1,380.4 284.6,380.4 285.1,380.3 285.6,380.3 286.1,380.2 286.6,380.2 287.1,380.1 287.6,380 288.1,379.9 288.6,379.8 289.1,379.7 289.6,379.6 290.1,379.4 290.6,379.3 291.1,379.1 291.6,379 292.1,378.8 292.6,378.7 293.1,378.5 293.6,378.4 294.1,378.3 294.6,378.1 295.1,378 295.6,378 296.1,377.9 296.6,377.9 297.1,377.9 297.6,377.9 298.1,378 298.6,378.1 299.1,378.2 299.6,378.3 300.1,378.4 300.6,378.5 301.1,378.7 301.6,378.8 302.1,378.9 302.6,379 303.1,379.1 303.6,379.1 304.1,379.3 304.6,379.5 305.1,379.6 305.6,379.7 306.1,379.8 306.6,379.9 307.1,380 307.6,380 308.1,380 308.6,379.9 309.1,379.8 309.6,379.5 310.1,379.1 310.6,378.6 311.1,377.7 311.6,376.6 312.1,375.1 312.6,373.2 313.1,370.7 313.6,367.6 314.1,363.9 314.6,359.5 315.1,354.7 315.6,357.5 316.1,362.1 316.6,366 317.1,369.2 317.6,371.9 318.1,374.1 318.6,375.7 319.1,377 319.6,378 320.1,378.7 320.6,379.3 321.1,379.7 321.6,379.9 322.1,380.1 322.6,380.3 323.1,380.3 323.6,380.4 324.1,380.4 324.6,380.5 325.1,380.5 325.6,380.5 326.1,380.5 326.6,380.5 327.1,380.5 327.6,380.5 328.1,380.5 328.6,380.5 329.1,380.5 329.6,380.5 330.1,380.5 330.6,380.5 331.1,380.5 331.6,380.5 332.1,380.5 332.6,380.5 333.1,380.5 333.6,380.5 334.1,380.5 334.6,380.5 335.1,380.5 335.6,380.5 336.1,380.5 336.6,380.5 L336.6,380.5 Z" fill="#aea99f"/>
<path d="M267.6,380.5 L268.1,380.5 L268.6,380.5 L269.1,380.5 L269.6,380.5 L270.1,380.5 L270.6,380.5 L271.1,380.5 L271.6,380.5 L272.1,380.5 L272.6,380.5 L273.1,380.5 L273.6,380.5 L274.1,380.5 L274.6,380.5 L275.1,380.5 L275.6,380.5 L276.1,380.5 L276.6,380.5 L277.1,380.5 L277.6,380.5 L278.1,380.5 L278.6,380.5 L279.1,380.5 L279.6,380.5 L280.1,380.5 L280.6,380.5 L281.1,380.5 L281.6,380.5 L282.1,380.5 L282.6,380.5 L283.1,380.4 L283.6,380.4 L284.1,380.4 L284.6,380.4 L285.1,380.3 L285.6,380.3 L286.1,380.2 L286.6,380.1 L287.1,380.1 L287.6,380 L288.1,379.9 L288.6,379.7 L289.1,379.6 L289.6,379.5 L290.1,379.3 L290.6,379.1 L291.1,378.9 L291.6,378.8 L292.1,378.6 L292.6,378.4 L293.1,378.2 L293.6,378 L294.1,377.8 L294.6,377.7 L295.1,377.5 L295.6,377.4 L296.1,377.4 L296.6,377.3 L297.1,377.3 L297.6,377.3 L298.1,377.4 L298.6,377.4 L299.1,377.5 L299.6,377.7 L300.1,377.8 L300.6,378 L301.1,378.2 L301.6,378.4 L302.1,378.6 L302.6,378.8 L303.1,378.9 L303.6,379.1 L304.1,379.3 L304.6,379.5 L305.1,379.6 L305.6,379.7 L306.1,379.8 L306.6,379.9 L307.1,380 L307.6,380 L308.1,380 L308.6,379.9 L309.1,379.8 L309.6,379.5 L310.1,379.1 L310.6,378.6 L311.1,377.7 L311.6,376.6 L312.1,375.1 L312.6,373.2 L313.1,370.7 L313.6,367.6 L314.1,363.9 L314.6,359.5 L315.1,354.7 L315.6,349.4 L316.1,344 L316.6,338.9 L317.1,334.3 L317.6,331.1 L318.1,330 L318.6,331.7 L319.1,334.9 L319.6,338.9 L320.1,343.4 L320.6,348.1 L321.1,352.7 L321.6,357.2 L322.1,361.2 L322.6,364.9 L323.1,368 L323.6,370.7 L324.1,372.9 L324.6,374.7 L325.1,376.2 L325.6,377.3 L326.1,378.2 L326.6,378.8 L327.1,379.3 L327.6,379.7 L328.1,379.9 L328.6,380.1 L329.1,380.2 L329.6,380.3 L330.1,380.4 L330.6,380.4 L331.1,380.5 L331.6,380.5 L332.1,380.5 L332.6,380.5 L333.1,380.5 L333.6,380.5 L334.1,380.5 L334.6,380.5 L335.1,380.5 L335.6,380.5 L336.1,380.5 L336.6,380.5" fill="none" stroke="#29345f" stroke-width="1.25" stroke-linejoin="round"/>
<path d="M267.6,380.5 L268.1,380.5 L268.6,380.5 L269.1,380.5 L269.6,380.5 L270.1,380.5 L270.6,380.5 L271.1,380.5 L271.6,380.5 L272.1,380.5 L272.6,380.5 L273.1,380.5 L273.6,380.5 L274.1,380.5 L274.6,380.5 L275.1,380.5 L275.6,380.5 L276.1,380.5 L276.6,380.5 L277.1,380.5 L277.6,380.5 L278.1,380.5 L278.6,380.5 L279.1,380.5 L279.6,380.5 L280.1,380.5 L280.6,380.5 L281.1,380.5 L281.6,380.5 L282.1,380.5 L282.6,380.5 L283.1,380.4 L283.6,380.4 L284.1,380.4 L284.6,380.4 L285.1,380.3 L285.6,380.3 L286.1,380.2 L286.6,380.2 L287.1,380.1 L287.6,380 L288.1,379.9 L288.6,379.8 L289.1,379.7 L289.6,379.6 L290.1,379.4 L290.6,379.3 L291.1,379.1 L291.6,379 L292.1,378.8 L292.6,378.7 L293.1,378.5 L293.6,378.4 L294.1,378.3 L294.6,378.1 L295.1,378 L295.6,378 L296.1,377.9 L296.6,377.9 L297.1,377.9 L297.6,377.9 L298.1,378 L298.6,378.1 L299.1,378.2 L299.6,378.3 L300.1,378.4 L300.6,378.5 L301.1,378.7 L301.6,378.8 L302.1,378.9 L302.6,379 L303.1,379.1 L303.6,379 L304.1,378.9 L304.6,378.5 L305.1,377.9 L305.6,376.9 L306.1,375.3 L306.6,373.1 L307.1,370.1 L307.6,366 L308.1,360.9 L308.6,354.6 L309.1,347.4 L309.6,339.5 L310.1,331.5 L310.6,324.3 L311.1,318.8 L311.6,317 L312.1,319.3 L312.6,323.4 L313.1,328.7 L313.6,334.6 L314.1,340.7 L314.6,346.7 L315.1,352.4 L315.6,357.5 L316.1,362.1 L316.6,366 L317.1,369.2 L317.6,371.9 L318.1,374.1 L318.6,375.7 L319.1,377 L319.6,378 L320.1,378.7 L320.6,379.3 L321.1,379.7 L321.6,379.9 L322.1,380.1 L322.6,380.3 L323.1,380.3 L323.6,380.4 L324.1,380.4 L324.6,380.5 L325.1,380.5 L325.6,380.5 L326.1,380.5 L326.6,380.5 L327.1,380.5 L327.6,380.5 L328.1,380.5 L328.6,380.5 L329.1,380.5 L329.6,380.5 L330.1,380.5 L330.6,380.5 L331.1,380.5 L331.6,380.5 L332.1,380.5 L332.6,380.5 L333.1,380.5 L333.6,380.5 L334.1,380.5 L334.6,380.5 L335.1,380.5 L335.6,380.5 L336.1,380.5 L336.6,380.5" fill="none" stroke="#9e1d3b" stroke-width="1.25" stroke-linejoin="round"/>
</g>
<rect x="267.6" y="311.9" width="69.2" height="68.6" fill="none" stroke="#000" stroke-width="1.2"/>
<path d="M264.4,314.6H267.6 M264.4,330.8H267.6 M264.4,347.3H267.6 M264.4,363.8H267.6 M264.4,380.1H267.6 M265.8,376H267.6 M265.8,372H267.6 M265.8,367.9H267.6 M265.8,359.7H267.6 M265.8,355.6H267.6 M265.8,351.6H267.6 M265.8,343.4H267.6 M265.8,339.4H267.6 M265.8,335.3H267.6 M265.8,327.1H267.6 M265.8,323H267.6 M265.8,319H267.6" stroke="#000" stroke-width="0.8"/>
<text x="262.3" y="316.7" font-size="6.0" text-anchor="end" fill="#222" style="stroke-width:0.2px">800</text>
<text x="262.3" y="332.9" font-size="6.0" text-anchor="end" fill="#222" style="stroke-width:0.2px">600</text>
<text x="262.3" y="349.4" font-size="6.0" text-anchor="end" fill="#222" style="stroke-width:0.2px">400</text>
<text x="262.3" y="365.9" font-size="6.0" text-anchor="end" fill="#222" style="stroke-width:0.2px">200</text>
<text x="262.3" y="382.2" font-size="6.0" text-anchor="end" fill="#222" style="stroke-width:0.2px">0</text>
<path d="M269.7,380.5v2.6 M283.7,380.5v2.6 M294.2,380.5v2.6 M312.4,380.5v2.6 M330.6,380.5v2.6 M299.7,380.5v1.6 M302.9,380.5v1.6 M305.2,380.5v1.6 M306.9,380.5v1.6 M308.4,380.5v1.6 M309.6,380.5v1.6 M310.6,380.5v1.6 M311.6,380.5v1.6 M317.9,380.5v1.6 M321.1,380.5v1.6 M323.4,380.5v1.6 M325.1,380.5v1.6 M326.6,380.5v1.6 M327.8,380.5v1.6 M328.8,380.5v1.6 M329.8,380.5v1.6 M286.1,380.5v1.6 M280.5,380.5v1.6 M288,380.5v1.6 M278,380.5v1.6 M289.4,380.5v1.6 M276.1,380.5v1.6 M290.5,380.5v1.6 M274.7,380.5v1.6 M291.4,380.5v1.6 M273.5,380.5v1.6 M292.1,380.5v1.6 M272.5,380.5v1.6 M292.8,380.5v1.6 M271.7,380.5v1.6 M293.3,380.5v1.6 M270.9,380.5v1.6 M293.8,380.5v1.6 M270.3,380.5v1.6" stroke="#000" stroke-width="0.75"/>
<text x="264" y="392.3" font-size="6.0" fill="#222" style="stroke-width:0.2px">-10</text>
<text x="273" y="389.5" font-size="4.3" fill="#222" style="stroke-width:0.12px">3</text>
<text x="284.2" y="392.3" font-size="6.0" text-anchor="middle" fill="#222" style="stroke-width:0.2px">0</text>
<text x="290" y="392.3" font-size="6.0" fill="#222" style="stroke-width:0.2px">10</text>
<text x="297" y="389.5" font-size="4.3" fill="#222" style="stroke-width:0.12px">3</text>
<text x="308.9" y="392.3" font-size="6.0" fill="#222" style="stroke-width:0.2px">10</text>
<text x="315.8" y="389.5" font-size="4.3" fill="#222" style="stroke-width:0.12px">4</text>
<text x="325.6" y="392.3" font-size="6.0" fill="#222" style="stroke-width:0.2px">10</text>
<text x="332.6" y="389.5" font-size="4.3" fill="#222" style="stroke-width:0.12px">5</text>
<text transform="translate(248,346.5) rotate(-90)" font-size="9.0" text-anchor="middle" textLength="21.4" lengthAdjust="spacingAndGlyphs" fill="#111" style="stroke-width:0.15px">Count</text>
<text x="102.8" y="38.6" font-size="9.1" text-anchor="middle" fill="#111">sgRNA A</text>
<text x="200.9" y="38.6" font-size="9.1" text-anchor="middle" fill="#111">sgRNA B</text>
<text x="303" y="38.6" font-size="9.1" text-anchor="middle" fill="#111">sgRNA C</text>
<text x="36.7" y="80.2" font-size="8.9" font-style="italic" text-anchor="end" fill="#111">NT</text>
<text x="36.9" y="168.3" font-size="8.9" font-style="italic" text-anchor="end" fill="#111">CLCN7</text>
<text x="37.9" y="258.6" font-size="8.9" font-style="italic" text-anchor="end" fill="#111">OSTM1</text>
<text x="38.4" y="350.6" font-size="8.9" font-style="italic" text-anchor="end" fill="#111">TFEB</text>
<path d="M73,397.6 H327" stroke="#111" stroke-width="1.5"/>
<path d="M334,397.6 L325.6,394.3 L327.4,397.6 L325.6,400.9 Z" fill="#111"/>
<text x="204" y="406.7" font-size="7.8" text-anchor="middle" fill="#111">Lysotracker</text>
<defs><linearGradient id="shade" x1="0.1" y1="0.9" x2="0.9" y2="0.1"><stop offset="0" stop-color="#000" stop-opacity="0.42"/><stop offset="0.45" stop-color="#000" stop-opacity="0.1"/><stop offset="0.75" stop-color="#fff" stop-opacity="0.05"/><stop offset="1" stop-color="#fff" stop-opacity="0.35"/></linearGradient><symbol id="tb" overflow="visible"><circle cx="-.45" cy=".3" r="1" fill="#000" opacity=".3"/><circle cx=".45" cy="-.3" r="1" fill="#fff" opacity=".32"/><circle r=".6" fill="currentColor"/></symbol><filter id="soft" x="0" y="0" width="1" height="1"><feGaussianBlur stdDeviation="0.35"/></filter></defs>
<clipPath id="im0"><rect x="344.3" y="41" width="83.4" height="68.7"/></clipPath>
<g clip-path="url(#im0)">
<g filter="url(#soft)">
<rect x="342.3" y="39" width="87.4" height="72.7" fill="rgb(158,158,158)"/>
<circle cx="375" cy="56.5" r="8" fill="rgb(43,43,43)" opacity="0.85"/>
<circle cx="376.2" cy="55.5" r="8" fill="rgb(220,220,220)" opacity="0.8"/>
<circle cx="375.6" cy="56" r="7.2" fill="rgb(124,124,124)"/>
<g color="rgb(124,124,124)"><use href="#tb" transform="translate(375.9 60.4)scale(0.9)"/><use href="#tb" transform="translate(371.9 53.1)scale(0.7)"/><use href="#tb" transform="translate(381 56.4)scale(0.8)"/><use href="#tb" transform="translate(376.2 61.9)scale(1)"/><use href="#tb" transform="translate(377.7 52.5)scale(1.2)"/><use href="#tb" transform="translate(378.4 59.8)scale(1.4)"/><use href="#tb" transform="translate(370.5 55.3)scale(1.2)"/><use href="#tb" transform="translate(380.4 58)scale(1.1)"/><use href="#tb" transform="translate(375.3 57)scale(1.4)"/><use href="#tb" transform="translate(370.6 56.9)scale(1.4)"/><use href="#tb" transform="translate(374.3 50.4)scale(1)"/></g>
<circle cx="375.6" cy="56" r="7.2" fill="url(#shade)"/>
<circle cx="385.8" cy="66.4" r="8.5" fill="rgb(43,43,43)" opacity="0.85"/>
<circle cx="386.9" cy="65.5" r="8.5" fill="rgb(220,220,220)" opacity="0.8"/>
<circle cx="386.4" cy="65.9" r="7.8" fill="rgb(124,124,124)"/>
<g color="rgb(124,124,124)"><use href="#tb" transform="translate(387.8 61.8)scale(1.4)"/><use href="#tb" transform="translate(387.9 64.5)scale(0.7)"/><use href="#tb" transform="translate(387.7 72.1)scale(1)"/><use href="#tb" transform="translate(383.9 63.4)scale(1.1)"/><use href="#tb" transform="translate(383.5 68.4)scale(1.1)"/><use href="#tb" transform="translate(381.1 62.8)scale(1.2)"/><use href="#tb" transform="translate(391.8 63.3)scale(1.5)"/><use href="#tb" transform="translate(385.2 63.6)scale(1.4)"/><use href="#tb" transform="translate(392.4 64.5)scale(1.1)"/><use href="#tb" transform="translate(385.7 63)scale(1.3)"/><use href="#tb" transform="translate(383.3 64.4)scale(0.7)"/></g>
<circle cx="386.4" cy="65.9" r="7.8" fill="url(#shade)"/>
<circle cx="401.5" cy="61.5" r="8.5" fill="rgb(43,43,43)" opacity="0.85"/>
<circle cx="402.7" cy="60.5" r="8.5" fill="rgb(220,220,220)" opacity="0.8"/>
<circle cx="402.1" cy="61" r="7.8" fill="rgb(124,124,124)"/>
<g color="rgb(124,124,124)"><use href="#tb" transform="translate(406 55.9)scale(0.7)"/><use href="#tb" transform="translate(403.4 57.1)scale(0.7)"/><use href="#tb" transform="translate(400.6 66.5)scale(1.4)"/><use href="#tb" transform="translate(407 62.4)scale(0.6)"/><use href="#tb" transform="translate(401.4 57.3)scale(1.4)"/><use href="#tb" transform="translate(406.7 60.4)scale(1.5)"/><use href="#tb" transform="translate(401.4 62.7)scale(1.1)"/><use href="#tb" transform="translate(404.9 61.6)scale(1)"/><use href="#tb" transform="translate(400.1 59.4)scale(0.6)"/><use href="#tb" transform="translate(404.5 58.3)scale(1.5)"/><use href="#tb" transform="translate(405.3 58.6)scale(1)"/></g>
<circle cx="402.1" cy="61" r="7.8" fill="url(#shade)"/>
<circle cx="370" cy="74.7" r="8.5" fill="rgb(43,43,43)" opacity="0.85"/>
<circle cx="371.2" cy="73.8" r="8.5" fill="rgb(220,220,220)" opacity="0.8"/>
<circle cx="370.6" cy="74.2" r="7.8" fill="rgb(124,124,124)"/>
<g color="rgb(124,124,124)"><use href="#tb" transform="translate(365.4 73.5)scale(1.1)"/><use href="#tb" transform="translate(365.8 72.3)scale(1.4)"/><use href="#tb" transform="translate(366.3 74)scale(1.2)"/><use href="#tb" transform="translate(370.9 77.7)scale(1.5)"/><use href="#tb" transform="translate(365.8 73.6)scale(0.6)"/><use href="#tb" transform="translate(366.3 76.7)scale(0.6)"/><use href="#tb" transform="translate(366.8 70.8)scale(0.7)"/><use href="#tb" transform="translate(367.5 71)scale(1.2)"/><use href="#tb" transform="translate(367.3 78.6)scale(1.3)"/><use href="#tb" transform="translate(372.2 74.4)scale(1.2)"/><use href="#tb" transform="translate(373.8 73.5)scale(1)"/></g>
<circle cx="370.6" cy="74.2" r="7.8" fill="url(#shade)"/>
<circle cx="381.6" cy="81.4" r="6.9" fill="rgb(43,43,43)" opacity="0.85"/>
<circle cx="382.8" cy="80.5" r="6.9" fill="rgb(220,220,220)" opacity="0.8"/>
<circle cx="382.2" cy="80.9" r="6.2" fill="rgb(124,124,124)"/>
<g color="rgb(124,124,124)"><use href="#tb" transform="translate(379.9 79.4)scale(0.9)"/><use href="#tb" transform="translate(381.1 83.6)scale(1.1)"/><use href="#tb" transform="translate(381.3 83.8)scale(1.3)"/><use href="#tb" transform="translate(385.8 81.5)scale(1.3)"/><use href="#tb" transform="translate(381.4 83)scale(1.3)"/><use href="#tb" transform="translate(382.4 83)scale(1)"/><use href="#tb" transform="translate(381.7 79.4)scale(0.9)"/><use href="#tb" transform="translate(380 84.8)scale(1)"/><use href="#tb" transform="translate(383.4 79.3)scale(0.9)"/></g>
<circle cx="382.2" cy="80.9" r="6.2" fill="url(#shade)"/>
<circle cx="398.2" cy="77.2" r="9" fill="rgb(43,43,43)" opacity="0.85"/>
<circle cx="399.4" cy="76.2" r="9" fill="rgb(220,220,220)" opacity="0.8"/>
<circle cx="398.8" cy="76.7" r="8.3" fill="rgb(124,124,124)"/>
<g color="rgb(124,124,124)"><use href="#tb" transform="translate(394.9 71.4)scale(1)"/><use href="#tb" transform="translate(399.2 79.1)scale(1.1)"/><use href="#tb" transform="translate(401.1 82.6)scale(1.4)"/><use href="#tb" transform="translate(400.3 80.1)scale(1.3)"/><use href="#tb" transform="translate(394.8 71.8)scale(0.9)"/><use href="#tb" transform="translate(401.4 79.5)scale(1.3)"/><use href="#tb" transform="translate(398.3 80.8)scale(1)"/><use href="#tb" transform="translate(394.9 78.9)scale(1.4)"/><use href="#tb" transform="translate(399.1 77.1)scale(1.4)"/><use href="#tb" transform="translate(403.9 71.9)scale(1)"/><use href="#tb" transform="translate(405.2 74.6)scale(0.8)"/><use href="#tb" transform="translate(398.6 70.3)scale(1.2)"/></g>
<circle cx="398.8" cy="76.7" r="8.3" fill="url(#shade)"/>
<circle cx="399.9" cy="93" r="8.5" fill="rgb(43,43,43)" opacity="0.85"/>
<circle cx="401.1" cy="92" r="8.5" fill="rgb(220,220,220)" opacity="0.8"/>
<circle cx="400.5" cy="92.5" r="7.8" fill="rgb(124,124,124)"/>
<g color="rgb(124,124,124)"><use href="#tb" transform="translate(397 92.1)scale(0.9)"/><use href="#tb" transform="translate(400.7 94.2)scale(1.1)"/><use href="#tb" transform="translate(399.2 98.2)scale(0.6)"/><use href="#tb" transform="translate(404.9 89.4)scale(1.4)"/><use href="#tb" transform="translate(405.4 88.8)scale(1.1)"/><use href="#tb" transform="translate(406.1 93)scale(0.8)"/><use href="#tb" transform="translate(398.9 97.5)scale(1.1)"/><use href="#tb" transform="translate(395.1 95.7)scale(1.2)"/><use href="#tb" transform="translate(398.7 95.2)scale(1.4)"/><use href="#tb" transform="translate(394.8 93.3)scale(0.9)"/><use href="#tb" transform="translate(402 97)scale(1.3)"/></g>
<circle cx="400.5" cy="92.5" r="7.8" fill="url(#shade)"/>
</g>
</g>
<clipPath id="im1"><rect x="431.8" y="41" width="81.2" height="68.7"/></clipPath>
<g clip-path="url(#im1)">
<g filter="url(#soft)">
<rect x="429.8" y="39" width="85.2" height="72.7" fill="rgb(162,162,162)"/>
<circle cx="442.9" cy="49.5" r="7.4" fill="rgb(47,47,47)" opacity="0.85"/>
<circle cx="444.1" cy="48.5" r="7.4" fill="rgb(224,224,224)" opacity="0.8"/>
<circle cx="443.5" cy="49" r="6.7" fill="rgb(132,132,132)"/>
<g color="rgb(132,132,132)"><use href="#tb" transform="translate(445.8 53.2)scale(1.4)"/><use href="#tb" transform="translate(445.2 44.4)scale(0.6)"/><use href="#tb" transform="translate(440 45.4)scale(0.6)"/><use href="#tb" transform="translate(443.1 51.8)scale(1.1)"/><use href="#tb" transform="translate(440.2 50.7)scale(1.3)"/><use href="#tb" transform="translate(444.8 49)scale(0.7)"/><use href="#tb" transform="translate(444.5 50)scale(1.5)"/><use href="#tb" transform="translate(444.5 47.7)scale(1.1)"/><use href="#tb" transform="translate(442.3 51.8)scale(0.9)"/><use href="#tb" transform="translate(441 45.7)scale(0.9)"/><use href="#tb" transform="translate(444.6 51.9)scale(0.7)"/><use href="#tb" transform="translate(439.2 47.4)scale(0.9)"/><use href="#tb" transform="translate(445.5 50.1)scale(0.9)"/><use href="#tb" transform="translate(439.7 46.1)scale(0.9)"/><use href="#tb" transform="translate(444.9 44.9)scale(1)"/><use href="#tb" transform="translate(440.8 51.7)scale(1.2)"/></g>
<circle cx="443.5" cy="49" r="6.7" fill="url(#shade)"/>
<circle cx="476.5" cy="72.9" r="8.7" fill="rgb(47,47,47)" opacity="0.85"/>
<circle cx="477.7" cy="72" r="8.7" fill="rgb(224,224,224)" opacity="0.8"/>
<circle cx="477.1" cy="72.4" r="8" fill="rgb(132,132,132)"/>
<g color="rgb(132,132,132)"><use href="#tb" transform="translate(472.2 75.1)scale(1)"/><use href="#tb" transform="translate(477.3 77.3)scale(1.2)"/><use href="#tb" transform="translate(481 74.3)scale(1)"/><use href="#tb" transform="translate(481.8 68)scale(0.9)"/><use href="#tb" transform="translate(481.9 68.8)scale(0.8)"/><use href="#tb" transform="translate(474.8 72.9)scale(1.3)"/><use href="#tb" transform="translate(473.8 67)scale(1.3)"/><use href="#tb" transform="translate(474.3 67.4)scale(1.1)"/><use href="#tb" transform="translate(481.2 75.5)scale(0.6)"/><use href="#tb" transform="translate(480.8 77)scale(0.6)"/><use href="#tb" transform="translate(478.9 73.5)scale(1.4)"/><use href="#tb" transform="translate(477.5 73.3)scale(1.4)"/><use href="#tb" transform="translate(481.5 76.6)scale(1.2)"/><use href="#tb" transform="translate(480.5 66.8)scale(1.1)"/><use href="#tb" transform="translate(477.5 71.2)scale(1.3)"/><use href="#tb" transform="translate(471.5 72)scale(0.7)"/><use href="#tb" transform="translate(477.1 65.9)scale(0.7)"/><use href="#tb" transform="translate(474.8 76.9)scale(1.3)"/><use href="#tb" transform="translate(477.2 75.2)scale(0.8)"/></g>
<circle cx="477.1" cy="72.4" r="8" fill="url(#shade)"/>
<circle cx="446.2" cy="86.7" r="9.3" fill="rgb(47,47,47)" opacity="0.85"/>
<circle cx="447.4" cy="85.8" r="9.3" fill="rgb(224,224,224)" opacity="0.8"/>
<circle cx="446.8" cy="86.2" r="8.6" fill="rgb(132,132,132)"/>
<g color="rgb(132,132,132)"><use href="#tb" transform="translate(442.1 82)scale(1)"/><use href="#tb" transform="translate(443.7 89.6)scale(0.9)"/><use href="#tb" transform="translate(445 87.2)scale(1.1)"/><use href="#tb" transform="translate(451.4 85.4)scale(1.3)"/><use href="#tb" transform="translate(450 91.4)scale(1.3)"/><use href="#tb" transform="translate(444.4 81.5)scale(1)"/><use href="#tb" transform="translate(442.5 80.8)scale(0.7)"/><use href="#tb" transform="translate(452 89.8)scale(1.4)"/><use href="#tb" transform="translate(442 85.7)scale(1.2)"/><use href="#tb" transform="translate(448.3 89.7)scale(0.8)"/><use href="#tb" transform="translate(443.3 84.1)scale(0.8)"/><use href="#tb" transform="translate(444.2 79.5)scale(0.9)"/><use href="#tb" transform="translate(445.5 81.7)scale(1.4)"/><use href="#tb" transform="translate(443.5 84.3)scale(0.8)"/><use href="#tb" transform="translate(451.8 86.9)scale(0.9)"/><use href="#tb" transform="translate(448.9 90.1)scale(0.9)"/><use href="#tb" transform="translate(447.2 83.5)scale(1.5)"/><use href="#tb" transform="translate(441.2 86.9)scale(1)"/><use href="#tb" transform="translate(450.2 80.5)scale(1.1)"/><use href="#tb" transform="translate(440.6 86.9)scale(1.4)"/></g>
<circle cx="446.8" cy="86.2" r="8.6" fill="url(#shade)"/>
<circle cx="440.4" cy="102.5" r="7.7" fill="rgb(47,47,47)" opacity="0.85"/>
<circle cx="441.6" cy="101.5" r="7.7" fill="rgb(224,224,224)" opacity="0.8"/>
<circle cx="441" cy="102" r="7" fill="rgb(132,132,132)"/>
<g color="rgb(132,132,132)"><use href="#tb" transform="translate(437 104.9)scale(1.5)"/><use href="#tb" transform="translate(438.3 102.6)scale(0.8)"/><use href="#tb" transform="translate(440 97.4)scale(1.5)"/><use href="#tb" transform="translate(442.7 99.8)scale(0.8)"/><use href="#tb" transform="translate(440.9 104.5)scale(1.2)"/><use href="#tb" transform="translate(444.4 97.8)scale(0.8)"/><use href="#tb" transform="translate(443.1 99.6)scale(1)"/><use href="#tb" transform="translate(440.8 100.3)scale(0.7)"/><use href="#tb" transform="translate(442.6 99.3)scale(0.9)"/><use href="#tb" transform="translate(436.9 99.7)scale(0.6)"/><use href="#tb" transform="translate(439.1 105.3)scale(1)"/><use href="#tb" transform="translate(442.1 106.3)scale(1.5)"/><use href="#tb" transform="translate(437.7 104.7)scale(0.7)"/><use href="#tb" transform="translate(440.3 106.6)scale(0.7)"/><use href="#tb" transform="translate(445.2 98.4)scale(0.7)"/><use href="#tb" transform="translate(444.3 100.7)scale(1.3)"/><use href="#tb" transform="translate(441.1 98.9)scale(1.2)"/></g>
<circle cx="441" cy="102" r="7" fill="url(#shade)"/>
<circle cx="471.1" cy="98" r="6.8" fill="rgb(47,47,47)" opacity="0.85"/>
<circle cx="472.2" cy="97" r="6.8" fill="rgb(224,224,224)" opacity="0.8"/>
<circle cx="471.7" cy="97.5" r="6.1" fill="rgb(132,132,132)"/>
<g color="rgb(132,132,132)"><use href="#tb" transform="translate(469.3 94)scale(0.8)"/><use href="#tb" transform="translate(471.8 92.8)scale(1.2)"/><use href="#tb" transform="translate(470.1 97.1)scale(1)"/><use href="#tb" transform="translate(469.3 100.7)scale(1.2)"/><use href="#tb" transform="translate(469.8 96.7)scale(1.2)"/><use href="#tb" transform="translate(470.3 96)scale(1.4)"/><use href="#tb" transform="translate(470.8 96.1)scale(1.4)"/><use href="#tb" transform="translate(473.4 99.6)scale(1.2)"/><use href="#tb" transform="translate(468.8 95.5)scale(1.2)"/><use href="#tb" transform="translate(469.1 98.2)scale(0.8)"/><use href="#tb" transform="translate(475.4 99.2)scale(1.3)"/><use href="#tb" transform="translate(467.7 96.4)scale(0.9)"/><use href="#tb" transform="translate(471.4 100.4)scale(1.4)"/><use href="#tb" transform="translate(475 98.4)scale(0.8)"/></g>
<circle cx="471.7" cy="97.5" r="6.1" fill="url(#shade)"/>
<circle cx="504.4" cy="83.8" r="7.7" fill="rgb(47,47,47)" opacity="0.85"/>
<circle cx="505.6" cy="82.8" r="7.7" fill="rgb(224,224,224)" opacity="0.8"/>
<circle cx="505" cy="83.3" r="7" fill="rgb(132,132,132)"/>
<g color="rgb(132,132,132)"><use href="#tb" transform="translate(505.4 79.9)scale(0.9)"/><use href="#tb" transform="translate(501.5 85.7)scale(1.3)"/><use href="#tb" transform="translate(501.8 87.5)scale(0.7)"/><use href="#tb" transform="translate(504.8 85.1)scale(0.7)"/><use href="#tb" transform="translate(505.9 78.5)scale(0.8)"/><use href="#tb" transform="translate(506.4 86.7)scale(1.3)"/><use href="#tb" transform="translate(507 78.8)scale(1.1)"/><use href="#tb" transform="translate(507.2 86.2)scale(0.8)"/><use href="#tb" transform="translate(500.7 82.6)scale(0.8)"/><use href="#tb" transform="translate(505 88.4)scale(0.6)"/><use href="#tb" transform="translate(506.8 78.2)scale(1.5)"/><use href="#tb" transform="translate(501.8 86.2)scale(1.1)"/><use href="#tb" transform="translate(501.2 79.1)scale(1.2)"/><use href="#tb" transform="translate(503.4 88.4)scale(1)"/><use href="#tb" transform="translate(501.1 80.4)scale(0.6)"/><use href="#tb" transform="translate(505.6 78.7)scale(1)"/><use href="#tb" transform="translate(501.1 82.7)scale(0.8)"/></g>
<circle cx="505" cy="83.3" r="7" fill="url(#shade)"/>
<circle cx="511" cy="97" r="6.4" fill="rgb(47,47,47)" opacity="0.85"/>
<circle cx="512.1" cy="96.1" r="6.4" fill="rgb(224,224,224)" opacity="0.8"/>
<circle cx="511.6" cy="96.6" r="5.7" fill="rgb(132,132,132)"/>
<g color="rgb(132,132,132)"><use href="#tb" transform="translate(510.8 96.4)scale(1.1)"/><use href="#tb" transform="translate(509.8 94.3)scale(1.1)"/><use href="#tb" transform="translate(515.6 95.6)scale(0.7)"/><use href="#tb" transform="translate(512.5 93.3)scale(0.6)"/><use href="#tb" transform="translate(510.3 98.2)scale(0.7)"/><use href="#tb" transform="translate(507.5 95.6)scale(0.9)"/><use href="#tb" transform="translate(514.1 94)scale(0.7)"/><use href="#tb" transform="translate(513.7 94)scale(1.4)"/><use href="#tb" transform="translate(510.8 92.9)scale(0.9)"/><use href="#tb" transform="translate(513.1 92.7)scale(1.4)"/><use href="#tb" transform="translate(508.1 98.1)scale(1)"/><use href="#tb" transform="translate(512.3 97.2)scale(0.7)"/><use href="#tb" transform="translate(512.1 98.3)scale(1)"/></g>
<circle cx="511.6" cy="96.6" r="5.7" fill="url(#shade)"/>
<circle cx="505.3" cy="54.3" r="2.5" fill="rgb(47,47,47)" opacity="0.6"/>
<circle cx="506.1" cy="54.3" r="2.5" fill="rgb(224,224,224)" opacity="0.6"/>
<circle cx="505.7" cy="54.3" r="1.9" fill="rgb(137,137,137)"/>
</g>
<path d="M450.9,48.6 L459.9,44.3 L457.1,48.6 L459.9,52.9 Z" fill="#f0e23c"/>
<path d="M469.1,67.2 L460.1,62.9 L462.9,67.2 L460.1,71.5 Z" fill="#f0e23c"/>
</g>
<clipPath id="im2"><rect x="344.3" y="130.7" width="83.4" height="67.2"/></clipPath>
<g clip-path="url(#im2)">
<g filter="url(#soft)">
<rect x="342.3" y="128.7" width="87.4" height="71.2" fill="rgb(162,162,162)"/>
<circle cx="356.5" cy="143.8" r="7.4" fill="rgb(47,47,47)" opacity="0.85"/>
<circle cx="357.7" cy="143" r="7.4" fill="rgb(224,224,224)" opacity="0.8"/>
<circle cx="357.1" cy="143.4" r="6.7" fill="rgb(128,128,128)"/>
<g color="rgb(128,128,128)"><use href="#tb" transform="translate(355.9 139.6)scale(1)"/><use href="#tb" transform="translate(355.3 141)scale(1)"/><use href="#tb" transform="translate(357.3 140)scale(0.8)"/><use href="#tb" transform="translate(360.8 140.7)scale(0.9)"/><use href="#tb" transform="translate(354.4 146.3)scale(1.1)"/><use href="#tb" transform="translate(357.1 143.7)scale(0.8)"/><use href="#tb" transform="translate(357.5 141.4)scale(1)"/><use href="#tb" transform="translate(357.9 145.7)scale(0.8)"/><use href="#tb" transform="translate(355.3 144.7)scale(0.6)"/><use href="#tb" transform="translate(358.8 144.8)scale(1)"/></g>
<circle cx="357.1" cy="143.4" r="6.7" fill="url(#shade)"/>
<circle cx="381.8" cy="152.5" r="9.5" fill="rgb(47,47,47)" opacity="0.85"/>
<circle cx="382.9" cy="151.7" r="9.5" fill="rgb(224,224,224)" opacity="0.8"/>
<circle cx="382.4" cy="152.1" r="8.8" fill="rgb(128,128,128)"/>
<g color="rgb(128,128,128)"><use href="#tb" transform="translate(383.5 152.5)scale(1)"/><use href="#tb" transform="translate(377.1 155.6)scale(0.6)"/><use href="#tb" transform="translate(378.5 154.8)scale(0.6)"/><use href="#tb" transform="translate(385.8 151.3)scale(0.7)"/><use href="#tb" transform="translate(379.4 152.6)scale(1.2)"/><use href="#tb" transform="translate(380.9 154.3)scale(0.6)"/><use href="#tb" transform="translate(381.8 148.2)scale(1.3)"/><use href="#tb" transform="translate(375.3 153.7)scale(0.9)"/><use href="#tb" transform="translate(382.4 156)scale(1.3)"/><use href="#tb" transform="translate(379.4 148.9)scale(0.7)"/><use href="#tb" transform="translate(379.3 145.3)scale(1.1)"/><use href="#tb" transform="translate(383.7 152.1)scale(0.7)"/><use href="#tb" transform="translate(383.1 153.4)scale(0.6)"/></g>
<circle cx="382.4" cy="152.1" r="8.8" fill="url(#shade)"/>
<circle cx="416.1" cy="149.2" r="8.5" fill="rgb(47,47,47)" opacity="0.85"/>
<circle cx="417.2" cy="148.4" r="8.5" fill="rgb(224,224,224)" opacity="0.8"/>
<circle cx="416.7" cy="148.8" r="7.8" fill="rgb(128,128,128)"/>
<g color="rgb(128,128,128)"><use href="#tb" transform="translate(413.2 143.7)scale(0.8)"/><use href="#tb" transform="translate(421.1 148.1)scale(1.3)"/><use href="#tb" transform="translate(422.2 145.7)scale(0.6)"/><use href="#tb" transform="translate(415 153.6)scale(1.5)"/><use href="#tb" transform="translate(419.7 150.6)scale(1.4)"/><use href="#tb" transform="translate(419.7 151.5)scale(0.9)"/><use href="#tb" transform="translate(414 143.1)scale(0.8)"/><use href="#tb" transform="translate(416.3 143.3)scale(1.4)"/><use href="#tb" transform="translate(410.8 146.8)scale(0.9)"/><use href="#tb" transform="translate(414 150.4)scale(1.3)"/><use href="#tb" transform="translate(413.4 149.2)scale(0.8)"/></g>
<circle cx="416.7" cy="148.8" r="7.8" fill="url(#shade)"/>
<circle cx="401.4" cy="168.8" r="8" fill="rgb(47,47,47)" opacity="0.85"/>
<circle cx="402.6" cy="168" r="8" fill="rgb(224,224,224)" opacity="0.8"/>
<circle cx="402" cy="168.4" r="7.2" fill="rgb(128,128,128)"/>
<g color="rgb(128,128,128)"><use href="#tb" transform="translate(401.1 163.8)scale(1.2)"/><use href="#tb" transform="translate(398.9 171.1)scale(0.7)"/><use href="#tb" transform="translate(401.8 167.5)scale(1)"/><use href="#tb" transform="translate(402.3 163.5)scale(0.7)"/><use href="#tb" transform="translate(402.4 173.8)scale(1.2)"/><use href="#tb" transform="translate(406 164.6)scale(1)"/><use href="#tb" transform="translate(406.1 165.3)scale(0.9)"/><use href="#tb" transform="translate(400.9 169.6)scale(1)"/><use href="#tb" transform="translate(403.9 167.9)scale(1.1)"/><use href="#tb" transform="translate(403.3 169.5)scale(1.2)"/><use href="#tb" transform="translate(402.1 169.7)scale(0.7)"/></g>
<circle cx="402" cy="168.4" r="7.2" fill="url(#shade)"/>
<circle cx="416.1" cy="179.4" r="8.5" fill="rgb(47,47,47)" opacity="0.85"/>
<circle cx="417.2" cy="178.6" r="8.5" fill="rgb(224,224,224)" opacity="0.8"/>
<circle cx="416.7" cy="179" r="7.8" fill="rgb(128,128,128)"/>
<g color="rgb(128,128,128)"><use href="#tb" transform="translate(413.6 175.1)scale(0.6)"/><use href="#tb" transform="translate(417.5 185.3)scale(0.8)"/><use href="#tb" transform="translate(412.8 177.4)scale(1.3)"/><use href="#tb" transform="translate(412.1 175.5)scale(1.1)"/><use href="#tb" transform="translate(417.7 181.5)scale(0.7)"/><use href="#tb" transform="translate(417.7 177.1)scale(0.6)"/><use href="#tb" transform="translate(419.5 178.4)scale(1.4)"/><use href="#tb" transform="translate(420.5 181.3)scale(0.8)"/><use href="#tb" transform="translate(419.1 174.5)scale(1.2)"/><use href="#tb" transform="translate(417.1 173)scale(0.9)"/><use href="#tb" transform="translate(413.3 176.4)scale(0.7)"/></g>
<circle cx="416.7" cy="179" r="7.8" fill="url(#shade)"/>
<circle cx="375.3" cy="183.5" r="8.5" fill="rgb(47,47,47)" opacity="0.85"/>
<circle cx="376.4" cy="182.7" r="8.5" fill="rgb(224,224,224)" opacity="0.8"/>
<circle cx="375.9" cy="183.1" r="7.8" fill="rgb(128,128,128)"/>
<g color="rgb(128,128,128)"><use href="#tb" transform="translate(378.5 178.8)scale(1.3)"/><use href="#tb" transform="translate(377.2 187.7)scale(1)"/><use href="#tb" transform="translate(375.7 181.3)scale(0.9)"/><use href="#tb" transform="translate(374.2 183.3)scale(1.1)"/><use href="#tb" transform="translate(375.5 178.9)scale(1.2)"/><use href="#tb" transform="translate(373.5 181.2)scale(0.9)"/><use href="#tb" transform="translate(379.7 183)scale(1)"/><use href="#tb" transform="translate(378.5 184.6)scale(0.7)"/><use href="#tb" transform="translate(380.9 180.8)scale(1.4)"/><use href="#tb" transform="translate(381 182.7)scale(1.4)"/><use href="#tb" transform="translate(371.8 182.2)scale(1.5)"/></g>
<circle cx="375.9" cy="183.1" r="7.8" fill="url(#shade)"/>
<circle cx="365.1" cy="145.5" r="2.5" fill="rgb(47,47,47)" opacity="0.6"/>
<circle cx="365.9" cy="145.5" r="2.5" fill="rgb(224,224,224)" opacity="0.6"/>
<circle cx="365.5" cy="145.5" r="1.9" fill="rgb(137,137,137)"/>
<circle cx="369.1" cy="173.5" r="1.8" fill="rgb(47,47,47)" opacity="0.6"/>
<circle cx="369.9" cy="173.5" r="1.8" fill="rgb(224,224,224)" opacity="0.6"/>
<circle cx="369.5" cy="173.5" r="1.2" fill="rgb(137,137,137)"/>
<circle cx="346.1" cy="181.5" r="1.8" fill="rgb(47,47,47)" opacity="0.6"/>
<circle cx="346.9" cy="181.5" r="1.8" fill="rgb(224,224,224)" opacity="0.6"/>
<circle cx="346.5" cy="181.5" r="1.2" fill="rgb(137,137,137)"/>
</g>
</g>
<clipPath id="im3"><rect x="431.8" y="130.7" width="81.2" height="67.2"/></clipPath>
<g clip-path="url(#im3)">
<g filter="url(#soft)">
<rect x="429.8" y="128.7" width="85.2" height="71.2" fill="rgb(168,168,168)"/>
<circle cx="436.9" cy="143.5" r="8" fill="rgb(53,53,53)" opacity="0.85"/>
<circle cx="438.1" cy="142.7" r="8" fill="rgb(230,230,230)" opacity="0.8"/>
<circle cx="437.5" cy="143.1" r="7.2" fill="rgb(138,138,138)"/>
<g color="rgb(138,138,138)"><use href="#tb" transform="translate(442.3 139.8)scale(1)"/><use href="#tb" transform="translate(438.1 139.3)scale(1.5)"/><use href="#tb" transform="translate(440.3 141.6)scale(1.4)"/><use href="#tb" transform="translate(438.2 144.8)scale(1.3)"/><use href="#tb" transform="translate(436.3 147.2)scale(1.2)"/><use href="#tb" transform="translate(442.5 144.4)scale(0.8)"/><use href="#tb" transform="translate(434.3 144.5)scale(1.3)"/><use href="#tb" transform="translate(437.4 139.9)scale(0.7)"/><use href="#tb" transform="translate(436.3 146.7)scale(0.7)"/><use href="#tb" transform="translate(440.5 147.4)scale(1.2)"/><use href="#tb" transform="translate(443.3 142.2)scale(1.4)"/><use href="#tb" transform="translate(435.8 144.8)scale(0.9)"/><use href="#tb" transform="translate(433.3 144.1)scale(1.1)"/><use href="#tb" transform="translate(434 147.3)scale(0.9)"/><use href="#tb" transform="translate(432 144.4)scale(1.3)"/><use href="#tb" transform="translate(436.6 145.9)scale(1.3)"/><use href="#tb" transform="translate(439.7 143.2)scale(1.1)"/></g>
<circle cx="437.5" cy="143.1" r="7.2" fill="url(#shade)"/>
<circle cx="452.5" cy="140.2" r="8.8" fill="rgb(53,53,53)" opacity="0.85"/>
<circle cx="453.7" cy="139.4" r="8.8" fill="rgb(230,230,230)" opacity="0.8"/>
<circle cx="453.1" cy="139.8" r="8.1" fill="rgb(138,138,138)"/>
<g color="rgb(138,138,138)"><use href="#tb" transform="translate(450.4 139.2)scale(0.6)"/><use href="#tb" transform="translate(454.8 145.5)scale(1)"/><use href="#tb" transform="translate(459.1 139)scale(1.5)"/><use href="#tb" transform="translate(456 140.4)scale(0.6)"/><use href="#tb" transform="translate(449.5 141.4)scale(0.6)"/><use href="#tb" transform="translate(451.1 139.2)scale(0.9)"/><use href="#tb" transform="translate(453.2 145.9)scale(1)"/><use href="#tb" transform="translate(453 141.2)scale(1)"/><use href="#tb" transform="translate(449.2 135.8)scale(1.4)"/><use href="#tb" transform="translate(454.3 136.6)scale(0.7)"/><use href="#tb" transform="translate(453.4 133.8)scale(1.1)"/><use href="#tb" transform="translate(455.6 135.4)scale(0.9)"/><use href="#tb" transform="translate(453.5 140.6)scale(1.2)"/><use href="#tb" transform="translate(458.3 135.9)scale(1)"/><use href="#tb" transform="translate(449.8 134.2)scale(1.3)"/><use href="#tb" transform="translate(449.6 137.2)scale(1.1)"/><use href="#tb" transform="translate(454.5 142.4)scale(1.2)"/><use href="#tb" transform="translate(458.1 139.6)scale(1)"/><use href="#tb" transform="translate(450.4 143.5)scale(1.3)"/></g>
<circle cx="453.1" cy="139.8" r="8.1" fill="url(#shade)"/>
<circle cx="465.5" cy="155.8" r="9" fill="rgb(53,53,53)" opacity="0.85"/>
<circle cx="466.7" cy="154.9" r="9" fill="rgb(230,230,230)" opacity="0.8"/>
<circle cx="466.1" cy="155.3" r="8.3" fill="rgb(138,138,138)"/>
<g color="rgb(138,138,138)"><use href="#tb" transform="translate(459.5 157.3)scale(0.7)"/><use href="#tb" transform="translate(464.1 159.9)scale(1)"/><use href="#tb" transform="translate(469.9 150.2)scale(1.4)"/><use href="#tb" transform="translate(465.2 154.5)scale(1.1)"/><use href="#tb" transform="translate(461.4 153.8)scale(0.9)"/><use href="#tb" transform="translate(464.4 148.8)scale(0.7)"/><use href="#tb" transform="translate(464 151.6)scale(1.1)"/><use href="#tb" transform="translate(471.5 151.1)scale(1.2)"/><use href="#tb" transform="translate(468.4 161.6)scale(0.8)"/><use href="#tb" transform="translate(461.4 159.6)scale(0.9)"/><use href="#tb" transform="translate(465.2 162.1)scale(1.4)"/><use href="#tb" transform="translate(464.3 159.3)scale(0.9)"/><use href="#tb" transform="translate(468.5 157.9)scale(1.5)"/><use href="#tb" transform="translate(469.1 156.9)scale(0.8)"/><use href="#tb" transform="translate(470.6 157.7)scale(1.3)"/><use href="#tb" transform="translate(469 150.6)scale(1.3)"/><use href="#tb" transform="translate(469.8 155.4)scale(1.5)"/><use href="#tb" transform="translate(469.4 156.8)scale(1)"/><use href="#tb" transform="translate(465.5 160.4)scale(0.6)"/></g>
<circle cx="466.1" cy="155.3" r="8.3" fill="url(#shade)"/>
<circle cx="500.7" cy="135.3" r="7.4" fill="rgb(53,53,53)" opacity="0.85"/>
<circle cx="501.9" cy="134.5" r="7.4" fill="rgb(230,230,230)" opacity="0.8"/>
<circle cx="501.3" cy="134.9" r="6.7" fill="rgb(138,138,138)"/>
<g color="rgb(138,138,138)"><use href="#tb" transform="translate(501.8 140.2)scale(0.7)"/><use href="#tb" transform="translate(503.2 133.6)scale(1.5)"/><use href="#tb" transform="translate(499.3 131)scale(0.7)"/><use href="#tb" transform="translate(505.7 136.5)scale(0.8)"/><use href="#tb" transform="translate(503.1 139.5)scale(1.4)"/><use href="#tb" transform="translate(506.4 136.5)scale(1.1)"/><use href="#tb" transform="translate(500 136.1)scale(1)"/><use href="#tb" transform="translate(504.2 134.7)scale(0.7)"/><use href="#tb" transform="translate(502.5 136.4)scale(0.9)"/><use href="#tb" transform="translate(502.6 134.1)scale(0.8)"/><use href="#tb" transform="translate(506.3 132.9)scale(1.5)"/><use href="#tb" transform="translate(501.4 138.1)scale(1.5)"/><use href="#tb" transform="translate(496.8 135.3)scale(0.9)"/><use href="#tb" transform="translate(504.5 135.3)scale(1.3)"/><use href="#tb" transform="translate(502.1 130.9)scale(1)"/><use href="#tb" transform="translate(497.8 134)scale(1.1)"/></g>
<circle cx="501.3" cy="134.9" r="6.7" fill="url(#shade)"/>
<circle cx="499" cy="147.6" r="8.5" fill="rgb(53,53,53)" opacity="0.85"/>
<circle cx="500.2" cy="146.8" r="8.5" fill="rgb(230,230,230)" opacity="0.8"/>
<circle cx="499.6" cy="147.2" r="7.8" fill="rgb(138,138,138)"/>
<g color="rgb(138,138,138)"><use href="#tb" transform="translate(501 144.7)scale(1.1)"/><use href="#tb" transform="translate(505 144.8)scale(0.8)"/><use href="#tb" transform="translate(505.4 145.8)scale(0.8)"/><use href="#tb" transform="translate(499.3 150.1)scale(0.6)"/><use href="#tb" transform="translate(503.7 146.6)scale(1.4)"/><use href="#tb" transform="translate(500.2 147.7)scale(1.4)"/><use href="#tb" transform="translate(501.4 141)scale(1.2)"/><use href="#tb" transform="translate(494 146.3)scale(0.7)"/><use href="#tb" transform="translate(495.4 146.1)scale(0.7)"/><use href="#tb" transform="translate(496.6 145)scale(1.1)"/><use href="#tb" transform="translate(497 149.8)scale(0.9)"/><use href="#tb" transform="translate(494.4 143.4)scale(1.4)"/><use href="#tb" transform="translate(503.4 142.7)scale(0.9)"/><use href="#tb" transform="translate(502.9 146.7)scale(0.7)"/><use href="#tb" transform="translate(494.1 147.2)scale(0.9)"/><use href="#tb" transform="translate(497.5 144.5)scale(1.5)"/><use href="#tb" transform="translate(495.3 148.5)scale(1.1)"/><use href="#tb" transform="translate(504.1 142.6)scale(1.1)"/></g>
<circle cx="499.6" cy="147.2" r="7.8" fill="url(#shade)"/>
<circle cx="510.4" cy="158.4" r="9.8" fill="rgb(53,53,53)" opacity="0.85"/>
<circle cx="511.6" cy="157.6" r="9.8" fill="rgb(230,230,230)" opacity="0.8"/>
<circle cx="511" cy="158" r="9.1" fill="rgb(138,138,138)"/>
<g color="rgb(138,138,138)"><use href="#tb" transform="translate(505.3 160.2)scale(0.7)"/><use href="#tb" transform="translate(504.6 161.2)scale(1.3)"/><use href="#tb" transform="translate(517.7 160.6)scale(0.9)"/><use href="#tb" transform="translate(515.7 157.4)scale(0.8)"/><use href="#tb" transform="translate(504.1 155.8)scale(1)"/><use href="#tb" transform="translate(515.4 153.2)scale(0.9)"/><use href="#tb" transform="translate(509.3 163.2)scale(1)"/><use href="#tb" transform="translate(506.6 162.5)scale(1.4)"/><use href="#tb" transform="translate(508.4 156.5)scale(0.8)"/><use href="#tb" transform="translate(506.8 162.4)scale(0.7)"/><use href="#tb" transform="translate(514.8 160.2)scale(0.9)"/><use href="#tb" transform="translate(516.6 159)scale(1.4)"/><use href="#tb" transform="translate(504.5 156.6)scale(1.3)"/><use href="#tb" transform="translate(514.9 151.7)scale(1)"/><use href="#tb" transform="translate(509.9 155.5)scale(1.4)"/><use href="#tb" transform="translate(507.1 161.7)scale(1.4)"/><use href="#tb" transform="translate(510.2 161.3)scale(1.3)"/><use href="#tb" transform="translate(509.2 156.7)scale(0.6)"/><use href="#tb" transform="translate(510.6 158.5)scale(1.3)"/><use href="#tb" transform="translate(512.6 161.7)scale(0.9)"/><use href="#tb" transform="translate(505.9 157.6)scale(1.2)"/></g>
<circle cx="511" cy="158" r="9.1" fill="url(#shade)"/>
<circle cx="441.8" cy="181.1" r="8.5" fill="rgb(53,53,53)" opacity="0.85"/>
<circle cx="442.9" cy="180.2" r="8.5" fill="rgb(230,230,230)" opacity="0.8"/>
<circle cx="442.4" cy="180.7" r="7.8" fill="rgb(138,138,138)"/>
<g color="rgb(138,138,138)"><use href="#tb" transform="translate(440.1 177.1)scale(0.7)"/><use href="#tb" transform="translate(447.7 180)scale(0.7)"/><use href="#tb" transform="translate(437.1 182.7)scale(1.5)"/><use href="#tb" transform="translate(443 181)scale(1)"/><use href="#tb" transform="translate(437 183.6)scale(1.3)"/><use href="#tb" transform="translate(440.3 184.4)scale(1.1)"/><use href="#tb" transform="translate(444.6 178.8)scale(1)"/><use href="#tb" transform="translate(446.8 183.4)scale(0.6)"/><use href="#tb" transform="translate(446.7 178.8)scale(1.1)"/><use href="#tb" transform="translate(445.1 182.3)scale(1)"/><use href="#tb" transform="translate(445.4 177)scale(0.9)"/><use href="#tb" transform="translate(447.6 180.1)scale(1.1)"/><use href="#tb" transform="translate(443.4 184.1)scale(1.4)"/><use href="#tb" transform="translate(445.6 184.2)scale(1.2)"/><use href="#tb" transform="translate(438.9 185.2)scale(1.4)"/><use href="#tb" transform="translate(445.9 176.4)scale(0.8)"/><use href="#tb" transform="translate(446.4 182.3)scale(0.9)"/><use href="#tb" transform="translate(444.5 186.4)scale(0.8)"/></g>
<circle cx="442.4" cy="180.7" r="7.8" fill="url(#shade)"/>
<circle cx="459.8" cy="179.4" r="9.5" fill="rgb(53,53,53)" opacity="0.85"/>
<circle cx="460.9" cy="178.6" r="9.5" fill="rgb(230,230,230)" opacity="0.8"/>
<circle cx="460.4" cy="179" r="8.8" fill="rgb(138,138,138)"/>
<g color="rgb(138,138,138)"><use href="#tb" transform="translate(463.6 172.4)scale(0.7)"/><use href="#tb" transform="translate(464.5 176.5)scale(0.8)"/><use href="#tb" transform="translate(461 180.3)scale(1)"/><use href="#tb" transform="translate(455.2 183.6)scale(1.3)"/><use href="#tb" transform="translate(464.9 180.7)scale(1)"/><use href="#tb" transform="translate(462.1 182.4)scale(0.8)"/><use href="#tb" transform="translate(458.9 174.9)scale(0.7)"/><use href="#tb" transform="translate(461.3 183.9)scale(1.1)"/><use href="#tb" transform="translate(460.6 185.3)scale(0.8)"/><use href="#tb" transform="translate(457.6 173.8)scale(0.8)"/><use href="#tb" transform="translate(460.4 174.3)scale(1.1)"/><use href="#tb" transform="translate(455.5 175.6)scale(1)"/><use href="#tb" transform="translate(466.7 181.3)scale(1.4)"/><use href="#tb" transform="translate(454.7 179.4)scale(0.8)"/><use href="#tb" transform="translate(465.4 175.3)scale(0.8)"/><use href="#tb" transform="translate(463.5 172.2)scale(0.9)"/><use href="#tb" transform="translate(465.6 178.9)scale(0.8)"/><use href="#tb" transform="translate(459.5 174.7)scale(1.3)"/><use href="#tb" transform="translate(458.3 177.8)scale(1.1)"/><use href="#tb" transform="translate(463.5 174.8)scale(1.1)"/></g>
<circle cx="460.4" cy="179" r="8.8" fill="url(#shade)"/>
<circle cx="451.6" cy="192.5" r="8.5" fill="rgb(53,53,53)" opacity="0.85"/>
<circle cx="452.8" cy="191.7" r="8.5" fill="rgb(230,230,230)" opacity="0.8"/>
<circle cx="452.2" cy="192.1" r="7.8" fill="rgb(138,138,138)"/>
<g color="rgb(138,138,138)"><use href="#tb" transform="translate(455 188.8)scale(1)"/><use href="#tb" transform="translate(447.1 189.2)scale(0.8)"/><use href="#tb" transform="translate(456.9 195.2)scale(1.1)"/><use href="#tb" transform="translate(450.2 197.9)scale(1.4)"/><use href="#tb" transform="translate(446 190.4)scale(1.4)"/><use href="#tb" transform="translate(452.2 188.6)scale(0.6)"/><use href="#tb" transform="translate(449.8 187.1)scale(0.9)"/><use href="#tb" transform="translate(447.4 192.7)scale(0.8)"/><use href="#tb" transform="translate(450.6 187.5)scale(0.9)"/><use href="#tb" transform="translate(455.9 195.2)scale(0.9)"/><use href="#tb" transform="translate(451.8 189.4)scale(1)"/><use href="#tb" transform="translate(453.6 196)scale(1.1)"/><use href="#tb" transform="translate(453.4 193)scale(1)"/><use href="#tb" transform="translate(453.6 196.5)scale(0.8)"/><use href="#tb" transform="translate(456 194.9)scale(1.4)"/><use href="#tb" transform="translate(455.4 188.7)scale(1)"/><use href="#tb" transform="translate(455.3 193.5)scale(0.9)"/><use href="#tb" transform="translate(454.3 191.3)scale(1.5)"/></g>
<circle cx="452.2" cy="192.1" r="7.8" fill="url(#shade)"/>
<circle cx="467.1" cy="140" r="2.8" fill="rgb(53,53,53)" opacity="0.6"/>
<circle cx="467.9" cy="140" r="2.8" fill="rgb(230,230,230)" opacity="0.6"/>
<circle cx="467.5" cy="140" r="2.2" fill="rgb(143,143,143)"/>
<circle cx="482.1" cy="154" r="1.6" fill="rgb(53,53,53)" opacity="0.6"/>
<circle cx="482.9" cy="154" r="1.6" fill="rgb(230,230,230)" opacity="0.6"/>
<circle cx="482.5" cy="154" r="1" fill="rgb(143,143,143)"/>
<circle cx="489.5" cy="175.8" r="2.9" fill="rgb(193,193,193)" opacity="0.5"/>
<circle cx="489.5" cy="175.8" r="1.6" fill="#111"/>
</g>
</g>
<clipPath id="im4"><rect x="344.3" y="218.8" width="83.4" height="69.7"/></clipPath>
<g clip-path="url(#im4)">
<g filter="url(#soft)">
<rect x="342.3" y="216.8" width="87.4" height="73.7" fill="rgb(164,164,164)"/>
<circle cx="376.2" cy="222.8" r="6.4" fill="rgb(49,49,49)" opacity="0.85"/>
<circle cx="377.4" cy="222" r="6.4" fill="rgb(226,226,226)" opacity="0.8"/>
<circle cx="376.8" cy="222.4" r="5.7" fill="rgb(132,132,132)"/>
<g color="rgb(132,132,132)"><use href="#tb" transform="translate(374 222.8)scale(0.8)"/><use href="#tb" transform="translate(378.6 222)scale(1.1)"/><use href="#tb" transform="translate(374.9 222.3)scale(0.8)"/><use href="#tb" transform="translate(380.7 222)scale(1.3)"/><use href="#tb" transform="translate(377.9 221.6)scale(1.2)"/><use href="#tb" transform="translate(376.8 220.3)scale(1)"/><use href="#tb" transform="translate(379.3 222)scale(1.3)"/><use href="#tb" transform="translate(378.6 225.5)scale(0.8)"/></g>
<circle cx="376.8" cy="222.4" r="5.7" fill="url(#shade)"/>
<circle cx="388.9" cy="229.5" r="8.5" fill="rgb(49,49,49)" opacity="0.85"/>
<circle cx="390.1" cy="228.7" r="8.5" fill="rgb(226,226,226)" opacity="0.8"/>
<circle cx="389.5" cy="229.1" r="7.8" fill="rgb(132,132,132)"/>
<g color="rgb(132,132,132)"><use href="#tb" transform="translate(385.6 228.9)scale(1.4)"/><use href="#tb" transform="translate(389.4 224.5)scale(1.2)"/><use href="#tb" transform="translate(384.3 231.7)scale(0.8)"/><use href="#tb" transform="translate(384.7 227.7)scale(0.9)"/><use href="#tb" transform="translate(392.1 229.9)scale(1.2)"/><use href="#tb" transform="translate(390.9 234.6)scale(1.1)"/><use href="#tb" transform="translate(395.2 227.4)scale(1.3)"/><use href="#tb" transform="translate(388.6 230.1)scale(1.1)"/><use href="#tb" transform="translate(389.3 222.9)scale(0.8)"/><use href="#tb" transform="translate(393 234.5)scale(1.3)"/><use href="#tb" transform="translate(384 229.6)scale(0.7)"/></g>
<circle cx="389.5" cy="229.1" r="7.8" fill="url(#shade)"/>
<circle cx="375.4" cy="237.9" r="9" fill="rgb(49,49,49)" opacity="0.85"/>
<circle cx="376.6" cy="237.1" r="9" fill="rgb(226,226,226)" opacity="0.8"/>
<circle cx="376" cy="237.5" r="8.3" fill="rgb(132,132,132)"/>
<g color="rgb(132,132,132)"><use href="#tb" transform="translate(370.5 235.9)scale(1.1)"/><use href="#tb" transform="translate(377.4 239.7)scale(1.2)"/><use href="#tb" transform="translate(377.9 235.8)scale(0.6)"/><use href="#tb" transform="translate(381.4 240.6)scale(1)"/><use href="#tb" transform="translate(369.3 239.4)scale(1.2)"/><use href="#tb" transform="translate(375.5 243.3)scale(0.6)"/><use href="#tb" transform="translate(374.8 243.2)scale(0.8)"/><use href="#tb" transform="translate(380.9 238.5)scale(0.9)"/><use href="#tb" transform="translate(378.2 237.1)scale(1.3)"/><use href="#tb" transform="translate(371.2 241.6)scale(1)"/><use href="#tb" transform="translate(374 234)scale(0.8)"/><use href="#tb" transform="translate(370 239.3)scale(0.9)"/></g>
<circle cx="376" cy="237.5" r="8.3" fill="url(#shade)"/>
<circle cx="361.1" cy="259.8" r="10.1" fill="rgb(49,49,49)" opacity="0.85"/>
<circle cx="362.2" cy="258.9" r="10.1" fill="rgb(226,226,226)" opacity="0.8"/>
<circle cx="361.7" cy="259.4" r="9.4" fill="rgb(132,132,132)"/>
<g color="rgb(132,132,132)"><use href="#tb" transform="translate(362.4 264.6)scale(0.7)"/><use href="#tb" transform="translate(359.2 265)scale(1.1)"/><use href="#tb" transform="translate(358.1 256.9)scale(0.6)"/><use href="#tb" transform="translate(366.3 260.2)scale(0.8)"/><use href="#tb" transform="translate(357.9 257.7)scale(1.3)"/><use href="#tb" transform="translate(356.4 255.5)scale(1.3)"/><use href="#tb" transform="translate(356.5 258.7)scale(0.9)"/><use href="#tb" transform="translate(368.3 262.2)scale(1.1)"/><use href="#tb" transform="translate(368 264)scale(1.1)"/><use href="#tb" transform="translate(357.9 255.7)scale(0.7)"/><use href="#tb" transform="translate(365 259.4)scale(0.9)"/><use href="#tb" transform="translate(364.5 259.4)scale(1)"/><use href="#tb" transform="translate(357.7 259.9)scale(1.4)"/><use href="#tb" transform="translate(361 259.8)scale(1)"/></g>
<circle cx="361.7" cy="259.4" r="9.4" fill="url(#shade)"/>
<circle cx="410.7" cy="267.4" r="8" fill="rgb(49,49,49)" opacity="0.85"/>
<circle cx="411.9" cy="266.6" r="8" fill="rgb(226,226,226)" opacity="0.8"/>
<circle cx="411.3" cy="267" r="7.2" fill="rgb(132,132,132)"/>
<g color="rgb(132,132,132)"><use href="#tb" transform="translate(416.3 267.1)scale(1.4)"/><use href="#tb" transform="translate(412.4 266.3)scale(1.2)"/><use href="#tb" transform="translate(409.9 270.9)scale(0.9)"/><use href="#tb" transform="translate(410.6 269)scale(1.2)"/><use href="#tb" transform="translate(416.3 270.1)scale(0.6)"/><use href="#tb" transform="translate(413.8 266.4)scale(0.7)"/><use href="#tb" transform="translate(411.2 262.7)scale(1.3)"/><use href="#tb" transform="translate(406.6 266.7)scale(0.7)"/><use href="#tb" transform="translate(409.3 263.2)scale(1.5)"/><use href="#tb" transform="translate(412.9 267.1)scale(1.2)"/><use href="#tb" transform="translate(414.8 265.3)scale(1.2)"/></g>
<circle cx="411.3" cy="267" r="7.2" fill="url(#shade)"/>
<circle cx="419.2" cy="278.3" r="8" fill="rgb(49,49,49)" opacity="0.85"/>
<circle cx="420.4" cy="277.4" r="8" fill="rgb(226,226,226)" opacity="0.8"/>
<circle cx="419.8" cy="277.9" r="7.2" fill="rgb(132,132,132)"/>
<g color="rgb(132,132,132)"><use href="#tb" transform="translate(416.3 276.5)scale(1)"/><use href="#tb" transform="translate(419 277.3)scale(0.9)"/><use href="#tb" transform="translate(419.6 274.9)scale(1)"/><use href="#tb" transform="translate(419.6 281.5)scale(1.2)"/><use href="#tb" transform="translate(419.6 272.1)scale(1)"/><use href="#tb" transform="translate(420.8 281.2)scale(0.7)"/><use href="#tb" transform="translate(420.1 282.4)scale(1.1)"/><use href="#tb" transform="translate(419.9 280.4)scale(0.7)"/><use href="#tb" transform="translate(421.6 281.7)scale(0.8)"/><use href="#tb" transform="translate(423.1 274.9)scale(0.9)"/><use href="#tb" transform="translate(418.7 278.4)scale(1.3)"/></g>
<circle cx="419.8" cy="277.9" r="7.2" fill="url(#shade)"/>
<circle cx="347.8" cy="244.3" r="3" fill="rgb(49,49,49)" opacity="0.6"/>
<circle cx="348.6" cy="244.3" r="3" fill="rgb(226,226,226)" opacity="0.6"/>
<circle cx="348.2" cy="244.3" r="2.4" fill="rgb(139,139,139)"/>
<circle cx="365.6" cy="241" r="2.5" fill="rgb(49,49,49)" opacity="0.6"/>
<circle cx="366.4" cy="241" r="2.5" fill="rgb(226,226,226)" opacity="0.6"/>
<circle cx="366" cy="241" r="1.9" fill="rgb(139,139,139)"/>
<circle cx="347.6" cy="285" r="3" fill="rgb(49,49,49)" opacity="0.6"/>
<circle cx="348.4" cy="285" r="3" fill="rgb(226,226,226)" opacity="0.6"/>
<circle cx="348" cy="285" r="2.4" fill="rgb(139,139,139)"/>
</g>
</g>
<clipPath id="im5"><rect x="431.8" y="218.8" width="81.2" height="69.7"/></clipPath>
<g clip-path="url(#im5)">
<g filter="url(#soft)">
<rect x="429.8" y="216.8" width="85.2" height="73.7" fill="rgb(164,164,164)"/>
<circle cx="480.9" cy="221.1" r="5.3" fill="rgb(49,49,49)" opacity="0.85"/>
<circle cx="482.1" cy="220.2" r="5.3" fill="rgb(226,226,226)" opacity="0.8"/>
<circle cx="481.5" cy="220.7" r="4.6" fill="rgb(134,134,134)"/>
<g color="rgb(134,134,134)"><use href="#tb" transform="translate(481.5 218.7)scale(1.3)"/><use href="#tb" transform="translate(481.3 222.2)scale(0.8)"/><use href="#tb" transform="translate(482.3 223.1)scale(1.2)"/><use href="#tb" transform="translate(481.4 219.6)scale(1.3)"/><use href="#tb" transform="translate(479.5 221)scale(1.1)"/><use href="#tb" transform="translate(480.2 221.3)scale(1)"/><use href="#tb" transform="translate(479.8 218.5)scale(1.4)"/><use href="#tb" transform="translate(482.6 223.6)scale(1.3)"/><use href="#tb" transform="translate(480.7 217.5)scale(0.7)"/><use href="#tb" transform="translate(482 217.6)scale(0.7)"/><use href="#tb" transform="translate(478.8 218.9)scale(0.9)"/></g>
<circle cx="481.5" cy="220.7" r="4.6" fill="url(#shade)"/>
<circle cx="487.6" cy="223.6" r="6.4" fill="rgb(49,49,49)" opacity="0.85"/>
<circle cx="488.8" cy="222.8" r="6.4" fill="rgb(226,226,226)" opacity="0.8"/>
<circle cx="488.2" cy="223.2" r="5.7" fill="rgb(134,134,134)"/>
<g color="rgb(134,134,134)"><use href="#tb" transform="translate(490.7 219.9)scale(1)"/><use href="#tb" transform="translate(489.4 224.8)scale(1.3)"/><use href="#tb" transform="translate(486 224.4)scale(1)"/><use href="#tb" transform="translate(490.2 222.2)scale(0.6)"/><use href="#tb" transform="translate(490.5 222.4)scale(0.9)"/><use href="#tb" transform="translate(490.5 222.8)scale(0.7)"/><use href="#tb" transform="translate(489.8 221.8)scale(0.8)"/><use href="#tb" transform="translate(490.1 222.4)scale(1.4)"/><use href="#tb" transform="translate(487 225.3)scale(0.8)"/><use href="#tb" transform="translate(485.1 222.3)scale(1)"/><use href="#tb" transform="translate(485.8 223.1)scale(1.4)"/><use href="#tb" transform="translate(491.7 221.7)scale(1.3)"/><use href="#tb" transform="translate(490.2 224.1)scale(0.8)"/></g>
<circle cx="488.2" cy="223.2" r="5.7" fill="url(#shade)"/>
<circle cx="474.2" cy="233.8" r="9.5" fill="rgb(49,49,49)" opacity="0.85"/>
<circle cx="475.4" cy="232.9" r="9.5" fill="rgb(226,226,226)" opacity="0.8"/>
<circle cx="474.8" cy="233.3" r="8.8" fill="rgb(134,134,134)"/>
<g color="rgb(134,134,134)"><use href="#tb" transform="translate(479 239.4)scale(1.4)"/><use href="#tb" transform="translate(479.6 230.4)scale(0.7)"/><use href="#tb" transform="translate(473.2 234.1)scale(1.4)"/><use href="#tb" transform="translate(474.4 237.3)scale(1.5)"/><use href="#tb" transform="translate(477 240.2)scale(0.9)"/><use href="#tb" transform="translate(473.5 231.2)scale(1.4)"/><use href="#tb" transform="translate(471.2 235.9)scale(1.2)"/><use href="#tb" transform="translate(471.7 231.2)scale(0.7)"/><use href="#tb" transform="translate(473.7 232.8)scale(1.4)"/><use href="#tb" transform="translate(473.1 235.9)scale(0.9)"/><use href="#tb" transform="translate(478 236.1)scale(1.1)"/><use href="#tb" transform="translate(471.2 235.7)scale(0.9)"/><use href="#tb" transform="translate(468.2 233.9)scale(1)"/><use href="#tb" transform="translate(475.4 228.1)scale(0.7)"/><use href="#tb" transform="translate(478.1 239.4)scale(1)"/><use href="#tb" transform="translate(470.8 236.9)scale(1.4)"/><use href="#tb" transform="translate(471.6 236.5)scale(0.9)"/><use href="#tb" transform="translate(480.4 233.7)scale(1)"/><use href="#tb" transform="translate(469.7 233.4)scale(1)"/><use href="#tb" transform="translate(474.1 230.1)scale(1.5)"/></g>
<circle cx="474.8" cy="233.3" r="8.8" fill="url(#shade)"/>
<circle cx="448.9" cy="249.8" r="9" fill="rgb(49,49,49)" opacity="0.85"/>
<circle cx="450.1" cy="248.9" r="9" fill="rgb(226,226,226)" opacity="0.8"/>
<circle cx="449.5" cy="249.3" r="8.3" fill="rgb(134,134,134)"/>
<g color="rgb(134,134,134)"><use href="#tb" transform="translate(454.4 253.6)scale(0.8)"/><use href="#tb" transform="translate(450.5 245.9)scale(0.7)"/><use href="#tb" transform="translate(443.3 247.7)scale(1.4)"/><use href="#tb" transform="translate(454.5 244.5)scale(0.6)"/><use href="#tb" transform="translate(447.8 250.9)scale(1.3)"/><use href="#tb" transform="translate(443.7 251.1)scale(1.3)"/><use href="#tb" transform="translate(455.3 249.3)scale(1.4)"/><use href="#tb" transform="translate(447.6 248.7)scale(1.4)"/><use href="#tb" transform="translate(451.2 250.4)scale(1.3)"/><use href="#tb" transform="translate(448.4 254.9)scale(0.6)"/><use href="#tb" transform="translate(450.9 255.1)scale(0.6)"/><use href="#tb" transform="translate(442.7 248.8)scale(0.8)"/><use href="#tb" transform="translate(447.8 243.5)scale(1.2)"/><use href="#tb" transform="translate(450.1 243.5)scale(0.6)"/><use href="#tb" transform="translate(451.3 254.1)scale(1.5)"/><use href="#tb" transform="translate(450.6 254.6)scale(0.7)"/><use href="#tb" transform="translate(452.2 245.5)scale(1.1)"/><use href="#tb" transform="translate(448.2 247)scale(1.3)"/><use href="#tb" transform="translate(451.5 243.1)scale(0.9)"/></g>
<circle cx="449.5" cy="249.3" r="8.3" fill="url(#shade)"/>
<circle cx="466.6" cy="248.9" r="8" fill="rgb(49,49,49)" opacity="0.85"/>
<circle cx="467.8" cy="248.1" r="8" fill="rgb(226,226,226)" opacity="0.8"/>
<circle cx="467.2" cy="248.5" r="7.2" fill="rgb(134,134,134)"/>
<g color="rgb(134,134,134)"><use href="#tb" transform="translate(467.4 250.9)scale(1.4)"/><use href="#tb" transform="translate(463.8 249.9)scale(1.1)"/><use href="#tb" transform="translate(466.1 245.3)scale(0.9)"/><use href="#tb" transform="translate(467.7 243.3)scale(0.9)"/><use href="#tb" transform="translate(472.3 251.1)scale(1.3)"/><use href="#tb" transform="translate(464.1 246.4)scale(1.5)"/><use href="#tb" transform="translate(464.7 249.7)scale(0.7)"/><use href="#tb" transform="translate(464.5 252.2)scale(0.9)"/><use href="#tb" transform="translate(471.7 246.9)scale(1)"/><use href="#tb" transform="translate(464.7 244.6)scale(1.2)"/><use href="#tb" transform="translate(462.9 248.6)scale(1)"/><use href="#tb" transform="translate(468.5 246.2)scale(1.3)"/><use href="#tb" transform="translate(465.6 253.7)scale(0.7)"/><use href="#tb" transform="translate(463.3 248.9)scale(1.2)"/><use href="#tb" transform="translate(468.1 251.4)scale(0.7)"/><use href="#tb" transform="translate(463 246.8)scale(0.6)"/><use href="#tb" transform="translate(468.4 250.9)scale(1.5)"/></g>
<circle cx="467.2" cy="248.5" r="7.2" fill="url(#shade)"/>
<circle cx="484.3" cy="249.8" r="8.5" fill="rgb(49,49,49)" opacity="0.85"/>
<circle cx="485.4" cy="248.9" r="8.5" fill="rgb(226,226,226)" opacity="0.8"/>
<circle cx="484.9" cy="249.3" r="7.8" fill="rgb(134,134,134)"/>
<g color="rgb(134,134,134)"><use href="#tb" transform="translate(480.2 250.7)scale(0.9)"/><use href="#tb" transform="translate(481.8 244.4)scale(1.2)"/><use href="#tb" transform="translate(489.2 249.3)scale(1)"/><use href="#tb" transform="translate(490.4 250.9)scale(0.9)"/><use href="#tb" transform="translate(483.5 254.2)scale(1.1)"/><use href="#tb" transform="translate(478.9 249.4)scale(1.1)"/><use href="#tb" transform="translate(484 250.7)scale(1.1)"/><use href="#tb" transform="translate(481.8 252.9)scale(0.9)"/><use href="#tb" transform="translate(486.2 249.4)scale(0.7)"/><use href="#tb" transform="translate(489.9 252.6)scale(1.1)"/><use href="#tb" transform="translate(485.3 254.7)scale(1.2)"/><use href="#tb" transform="translate(490.1 251.4)scale(0.8)"/><use href="#tb" transform="translate(487.3 249.3)scale(0.9)"/><use href="#tb" transform="translate(484.9 255.3)scale(1.3)"/><use href="#tb" transform="translate(482.7 248.1)scale(1)"/><use href="#tb" transform="translate(484.4 247.8)scale(1.4)"/><use href="#tb" transform="translate(488.3 244)scale(1.2)"/><use href="#tb" transform="translate(480.2 245)scale(0.8)"/></g>
<circle cx="484.9" cy="249.3" r="7.8" fill="url(#shade)"/>
<circle cx="500.3" cy="264.1" r="9" fill="rgb(49,49,49)" opacity="0.85"/>
<circle cx="501.4" cy="263.2" r="9" fill="rgb(226,226,226)" opacity="0.8"/>
<circle cx="500.9" cy="263.6" r="8.3" fill="rgb(134,134,134)"/>
<g color="rgb(134,134,134)"><use href="#tb" transform="translate(500.1 265.9)scale(0.8)"/><use href="#tb" transform="translate(501.5 261.5)scale(1.3)"/><use href="#tb" transform="translate(495.7 267.6)scale(1.3)"/><use href="#tb" transform="translate(498.4 257.7)scale(0.6)"/><use href="#tb" transform="translate(500.5 267.8)scale(1)"/><use href="#tb" transform="translate(497.7 257.8)scale(1.3)"/><use href="#tb" transform="translate(506.2 261.1)scale(0.9)"/><use href="#tb" transform="translate(494.8 263.3)scale(1.3)"/><use href="#tb" transform="translate(498 266.6)scale(1.2)"/><use href="#tb" transform="translate(501.8 270.1)scale(0.6)"/><use href="#tb" transform="translate(498 259.7)scale(0.8)"/><use href="#tb" transform="translate(496.5 261.5)scale(1.5)"/><use href="#tb" transform="translate(504.9 260)scale(1.4)"/><use href="#tb" transform="translate(503 261.7)scale(1.3)"/><use href="#tb" transform="translate(504.4 257.6)scale(1.3)"/><use href="#tb" transform="translate(498.4 265.6)scale(1.2)"/><use href="#tb" transform="translate(502.4 269.5)scale(1.1)"/><use href="#tb" transform="translate(502.8 259.9)scale(0.9)"/><use href="#tb" transform="translate(505.6 260.4)scale(0.9)"/></g>
<circle cx="500.9" cy="263.6" r="8.3" fill="url(#shade)"/>
<circle cx="452.6" cy="269.5" r="1.8" fill="rgb(49,49,49)" opacity="0.6"/>
<circle cx="453.4" cy="269.5" r="1.8" fill="rgb(226,226,226)" opacity="0.6"/>
<circle cx="453" cy="269.5" r="1.2" fill="rgb(139,139,139)"/>
<circle cx="454.6" cy="279.5" r="2" fill="rgb(49,49,49)" opacity="0.6"/>
<circle cx="455.4" cy="279.5" r="2" fill="rgb(226,226,226)" opacity="0.6"/>
<circle cx="455" cy="279.5" r="1.4" fill="rgb(139,139,139)"/>
<circle cx="447.6" cy="280" r="1.5" fill="rgb(49,49,49)" opacity="0.6"/>
<circle cx="448.4" cy="280" r="1.5" fill="rgb(226,226,226)" opacity="0.6"/>
<circle cx="448" cy="280" r="0.9" fill="rgb(139,139,139)"/>
<circle cx="490.6" cy="277" r="2" fill="rgb(49,49,49)" opacity="0.6"/>
<circle cx="491.4" cy="277" r="2" fill="rgb(226,226,226)" opacity="0.6"/>
<circle cx="491" cy="277" r="1.4" fill="rgb(139,139,139)"/>
<circle cx="489.6" cy="283" r="2" fill="rgb(49,49,49)" opacity="0.6"/>
<circle cx="490.4" cy="283" r="2" fill="rgb(226,226,226)" opacity="0.6"/>
<circle cx="490" cy="283" r="1.4" fill="rgb(139,139,139)"/>
</g>
</g>
<clipPath id="im6"><rect x="344.3" y="311.7" width="83.4" height="68.7"/></clipPath>
<g clip-path="url(#im6)">
<g filter="url(#soft)">
<rect x="342.3" y="309.7" width="87.4" height="72.7" fill="rgb(162,162,162)"/>
<g opacity="0.8">
<circle cx="366.1" cy="340.9" r="9.5" fill="rgb(47,47,47)" opacity="0.85"/>
<circle cx="367.2" cy="340.1" r="9.5" fill="rgb(224,224,224)" opacity="0.8"/>
<circle cx="366.7" cy="340.5" r="8.8" fill="rgb(136,136,136)"/>
<g color="rgb(136,136,136)"><use href="#tb" transform="translate(362.1 338.6)scale(1.2)"/><use href="#tb" transform="translate(362.7 340.1)scale(1.5)"/><use href="#tb" transform="translate(371.6 336.2)scale(0.9)"/><use href="#tb" transform="translate(368.9 346.6)scale(1.3)"/><use href="#tb" transform="translate(364.7 337.6)scale(1.2)"/><use href="#tb" transform="translate(362.1 339.8)scale(1.1)"/><use href="#tb" transform="translate(360.9 342.4)scale(1.3)"/><use href="#tb" transform="translate(369.2 340.2)scale(1.1)"/><use href="#tb" transform="translate(372.5 338.4)scale(1.1)"/><use href="#tb" transform="translate(367.5 339.4)scale(1.3)"/><use href="#tb" transform="translate(362.6 336.5)scale(0.9)"/><use href="#tb" transform="translate(364.7 338.7)scale(1.1)"/><use href="#tb" transform="translate(366.3 347.8)scale(1.3)"/></g>
<circle cx="366.7" cy="340.5" r="8.8" fill="url(#shade)"/>
</g>
<g opacity="0.35">
<circle cx="381.3" cy="336.8" r="7.4" fill="rgb(47,47,47)" opacity="0.85"/>
<circle cx="382.4" cy="335.9" r="7.4" fill="rgb(224,224,224)" opacity="0.8"/>
<circle cx="381.9" cy="336.3" r="6.7" fill="rgb(136,136,136)"/>
<g color="rgb(136,136,136)"><use href="#tb" transform="translate(377.3 337.1)scale(0.9)"/><use href="#tb" transform="translate(379.7 336)scale(1.4)"/><use href="#tb" transform="translate(382.3 331.6)scale(0.7)"/><use href="#tb" transform="translate(382.2 335.8)scale(1.1)"/><use href="#tb" transform="translate(380.6 336.4)scale(1)"/><use href="#tb" transform="translate(385.1 333.5)scale(0.9)"/><use href="#tb" transform="translate(383.2 333.3)scale(1.4)"/><use href="#tb" transform="translate(380.7 337.2)scale(1.5)"/><use href="#tb" transform="translate(384.4 337.5)scale(1.3)"/><use href="#tb" transform="translate(384.9 338.9)scale(1.4)"/></g>
<circle cx="381.9" cy="336.3" r="6.7" fill="url(#shade)"/>
</g>
<circle cx="394.7" cy="337.6" r="8" fill="rgb(47,47,47)" opacity="0.85"/>
<circle cx="395.9" cy="336.7" r="8" fill="rgb(224,224,224)" opacity="0.8"/>
<circle cx="395.3" cy="337.1" r="7.2" fill="rgb(136,136,136)"/>
<g color="rgb(136,136,136)"><use href="#tb" transform="translate(392.3 335.2)scale(1.3)"/><use href="#tb" transform="translate(397.4 333.1)scale(1.2)"/><use href="#tb" transform="translate(393.6 340.5)scale(1.5)"/><use href="#tb" transform="translate(395.5 337.1)scale(0.8)"/><use href="#tb" transform="translate(396.1 342.3)scale(0.8)"/><use href="#tb" transform="translate(397.8 341.7)scale(0.8)"/><use href="#tb" transform="translate(399.3 336.5)scale(1.4)"/><use href="#tb" transform="translate(396.4 334.6)scale(1.3)"/><use href="#tb" transform="translate(392.9 338.5)scale(0.6)"/><use href="#tb" transform="translate(394 332.8)scale(0.9)"/><use href="#tb" transform="translate(396.6 334.8)scale(1)"/></g>
<circle cx="395.3" cy="337.1" r="7.2" fill="url(#shade)"/>
<g opacity="0.75">
<circle cx="376.2" cy="356.1" r="10.6" fill="rgb(47,47,47)" opacity="0.85"/>
<circle cx="377.4" cy="355.2" r="10.6" fill="rgb(224,224,224)" opacity="0.8"/>
<circle cx="376.8" cy="355.6" r="9.9" fill="rgb(136,136,136)"/>
<g color="rgb(136,136,136)"><use href="#tb" transform="translate(381.1 358.3)scale(1.4)"/><use href="#tb" transform="translate(373.4 355.6)scale(0.8)"/><use href="#tb" transform="translate(374 352)scale(1.4)"/><use href="#tb" transform="translate(384.2 358.6)scale(1.2)"/><use href="#tb" transform="translate(379 351)scale(0.7)"/><use href="#tb" transform="translate(380 361.6)scale(0.6)"/><use href="#tb" transform="translate(382.7 360.5)scale(1.4)"/><use href="#tb" transform="translate(381.7 349.4)scale(1.1)"/><use href="#tb" transform="translate(381.9 350.5)scale(1.1)"/><use href="#tb" transform="translate(375.6 356.2)scale(0.7)"/><use href="#tb" transform="translate(376.8 361.4)scale(0.7)"/><use href="#tb" transform="translate(383.2 354.4)scale(1.3)"/><use href="#tb" transform="translate(380 353)scale(1.4)"/><use href="#tb" transform="translate(381.1 354.4)scale(0.7)"/></g>
<circle cx="376.8" cy="355.6" r="9.9" fill="url(#shade)"/>
</g>
<circle cx="393.9" cy="352.6" r="7.4" fill="rgb(47,47,47)" opacity="0.85"/>
<circle cx="395.1" cy="351.8" r="7.4" fill="rgb(224,224,224)" opacity="0.8"/>
<circle cx="394.5" cy="352.2" r="6.7" fill="rgb(136,136,136)"/>
<g color="rgb(136,136,136)"><use href="#tb" transform="translate(396.1 347.3)scale(1.3)"/><use href="#tb" transform="translate(391 354.5)scale(0.7)"/><use href="#tb" transform="translate(394.8 355.7)scale(1.3)"/><use href="#tb" transform="translate(398.9 355)scale(0.6)"/><use href="#tb" transform="translate(397.1 351.7)scale(1.3)"/><use href="#tb" transform="translate(396.7 347.4)scale(1)"/><use href="#tb" transform="translate(393.6 349.4)scale(1.3)"/><use href="#tb" transform="translate(398.4 355.4)scale(1.1)"/><use href="#tb" transform="translate(399.4 354.2)scale(0.9)"/><use href="#tb" transform="translate(397 353.3)scale(0.6)"/></g>
<circle cx="394.5" cy="352.2" r="6.7" fill="url(#shade)"/>
<g opacity="0.85">
<circle cx="418.3" cy="359.4" r="9" fill="rgb(47,47,47)" opacity="0.85"/>
<circle cx="419.4" cy="358.6" r="9" fill="rgb(224,224,224)" opacity="0.8"/>
<circle cx="418.9" cy="359" r="8.3" fill="rgb(136,136,136)"/>
<g color="rgb(136,136,136)"><use href="#tb" transform="translate(417.7 364.8)scale(1.5)"/><use href="#tb" transform="translate(414.5 354.2)scale(1.3)"/><use href="#tb" transform="translate(417.9 354.8)scale(0.8)"/><use href="#tb" transform="translate(421.8 363.3)scale(0.8)"/><use href="#tb" transform="translate(418.6 355)scale(1.1)"/><use href="#tb" transform="translate(413.6 357.4)scale(0.7)"/><use href="#tb" transform="translate(418.7 364.8)scale(0.8)"/><use href="#tb" transform="translate(415.6 352.9)scale(1)"/><use href="#tb" transform="translate(424.2 357.7)scale(1.4)"/><use href="#tb" transform="translate(412.9 358)scale(1.2)"/><use href="#tb" transform="translate(420.6 363.7)scale(1.1)"/><use href="#tb" transform="translate(413.4 360.3)scale(1.4)"/></g>
<circle cx="418.9" cy="359" r="8.3" fill="url(#shade)"/>
</g>
<circle cx="350.3" cy="347.2" r="3" fill="rgb(47,47,47)" opacity="0.6"/>
<circle cx="351.1" cy="347.2" r="3" fill="rgb(224,224,224)" opacity="0.6"/>
<circle cx="350.7" cy="347.2" r="2.4" fill="rgb(137,137,137)"/>
<circle cx="408.4" cy="323.6" r="2" fill="rgb(47,47,47)" opacity="0.6"/>
<circle cx="409.2" cy="323.6" r="2" fill="rgb(224,224,224)" opacity="0.6"/>
<circle cx="408.8" cy="323.6" r="1.4" fill="rgb(137,137,137)"/>
<circle cx="422.7" cy="335.4" r="2" fill="rgb(47,47,47)" opacity="0.6"/>
<circle cx="423.5" cy="335.4" r="2" fill="rgb(224,224,224)" opacity="0.6"/>
<circle cx="423.1" cy="335.4" r="1.4" fill="rgb(137,137,137)"/>
</g>
</g>
<clipPath id="im7"><rect x="431.8" y="311.7" width="81.2" height="68.7"/></clipPath>
<g clip-path="url(#im7)">
<g filter="url(#soft)">
<rect x="429.8" y="309.7" width="85.2" height="72.7" fill="rgb(158,158,158)"/>
<circle cx="494.4" cy="317.3" r="8" fill="rgb(43,43,43)" opacity="0.85"/>
<circle cx="495.6" cy="316.4" r="8" fill="rgb(220,220,220)" opacity="0.8"/>
<circle cx="495" cy="316.9" r="7.2" fill="rgb(134,134,134)"/>
<g color="rgb(134,134,134)"><use href="#tb" transform="translate(496.5 311.7)scale(0.7)"/><use href="#tb" transform="translate(493.6 312.4)scale(1.4)"/><use href="#tb" transform="translate(497.5 316.9)scale(1.5)"/><use href="#tb" transform="translate(491.5 320.5)scale(1.1)"/><use href="#tb" transform="translate(491.8 319.3)scale(1.1)"/><use href="#tb" transform="translate(499.3 316.5)scale(1.3)"/><use href="#tb" transform="translate(493.3 321.6)scale(1.1)"/><use href="#tb" transform="translate(494.8 311.3)scale(0.7)"/><use href="#tb" transform="translate(499.5 315.9)scale(0.8)"/><use href="#tb" transform="translate(493.2 317.3)scale(0.8)"/><use href="#tb" transform="translate(497.6 312.6)scale(1.4)"/><use href="#tb" transform="translate(496 318.6)scale(0.9)"/><use href="#tb" transform="translate(490 317)scale(0.9)"/><use href="#tb" transform="translate(494.6 312.4)scale(0.9)"/><use href="#tb" transform="translate(495.4 315.3)scale(1.1)"/><use href="#tb" transform="translate(495.5 318)scale(1)"/><use href="#tb" transform="translate(490.4 316.3)scale(0.9)"/></g>
<circle cx="495" cy="316.9" r="7.2" fill="url(#shade)"/>
<circle cx="469.1" cy="336.8" r="9.5" fill="rgb(43,43,43)" opacity="0.85"/>
<circle cx="470.2" cy="335.9" r="9.5" fill="rgb(220,220,220)" opacity="0.8"/>
<circle cx="469.7" cy="336.3" r="8.8" fill="rgb(134,134,134)"/>
<g color="rgb(134,134,134)"><use href="#tb" transform="translate(475.7 333.4)scale(0.7)"/><use href="#tb" transform="translate(477.1 336.5)scale(1)"/><use href="#tb" transform="translate(472.2 338.2)scale(1.2)"/><use href="#tb" transform="translate(471.7 340.4)scale(1.2)"/><use href="#tb" transform="translate(466 341.2)scale(1.5)"/><use href="#tb" transform="translate(471.3 330.5)scale(1.2)"/><use href="#tb" transform="translate(467.5 341.9)scale(1.2)"/><use href="#tb" transform="translate(465.2 333.6)scale(1.3)"/><use href="#tb" transform="translate(471.5 342.4)scale(1.5)"/><use href="#tb" transform="translate(473.4 337.1)scale(1.5)"/><use href="#tb" transform="translate(475.6 339.7)scale(1.1)"/><use href="#tb" transform="translate(475.1 338.8)scale(0.6)"/><use href="#tb" transform="translate(472.1 332.9)scale(1.4)"/><use href="#tb" transform="translate(471.9 334.6)scale(1)"/><use href="#tb" transform="translate(473.5 341.7)scale(0.7)"/><use href="#tb" transform="translate(472 337.4)scale(1.4)"/><use href="#tb" transform="translate(469.8 340.6)scale(1)"/><use href="#tb" transform="translate(465.1 334.8)scale(1.5)"/><use href="#tb" transform="translate(466.9 340.7)scale(1.4)"/><use href="#tb" transform="translate(469.8 339.4)scale(1.4)"/></g>
<circle cx="469.7" cy="336.3" r="8.8" fill="url(#shade)"/>
<circle cx="486.8" cy="333.3" r="9.5" fill="rgb(43,43,43)" opacity="0.85"/>
<circle cx="487.9" cy="332.4" r="9.5" fill="rgb(220,220,220)" opacity="0.8"/>
<circle cx="487.4" cy="332.9" r="8.8" fill="rgb(134,134,134)"/>
<g color="rgb(134,134,134)"><use href="#tb" transform="translate(484.5 339.4)scale(1.3)"/><use href="#tb" transform="translate(484.4 336)scale(0.7)"/><use href="#tb" transform="translate(490.9 329.3)scale(0.9)"/><use href="#tb" transform="translate(489 336.1)scale(1.4)"/><use href="#tb" transform="translate(491.2 337)scale(1.2)"/><use href="#tb" transform="translate(482.1 332.2)scale(1)"/><use href="#tb" transform="translate(489.9 339.3)scale(1.4)"/><use href="#tb" transform="translate(483.9 331.4)scale(1.4)"/><use href="#tb" transform="translate(488.3 335.9)scale(1.2)"/><use href="#tb" transform="translate(490.2 327.9)scale(0.7)"/><use href="#tb" transform="translate(490.4 332.5)scale(0.9)"/><use href="#tb" transform="translate(494.1 332.4)scale(1.3)"/><use href="#tb" transform="translate(493.6 336.1)scale(1)"/><use href="#tb" transform="translate(494.1 333.4)scale(1.4)"/><use href="#tb" transform="translate(492.3 334.4)scale(1.4)"/><use href="#tb" transform="translate(485.3 336.5)scale(1.3)"/><use href="#tb" transform="translate(480.4 335.6)scale(1.4)"/><use href="#tb" transform="translate(491.4 328)scale(0.8)"/><use href="#tb" transform="translate(485.2 327.6)scale(1)"/><use href="#tb" transform="translate(483.6 331.2)scale(0.8)"/></g>
<circle cx="487.4" cy="332.9" r="8.8" fill="url(#shade)"/>
<circle cx="454.8" cy="340.9" r="8" fill="rgb(43,43,43)" opacity="0.85"/>
<circle cx="455.9" cy="340.1" r="8" fill="rgb(220,220,220)" opacity="0.8"/>
<circle cx="455.4" cy="340.5" r="7.2" fill="rgb(134,134,134)"/>
<g color="rgb(134,134,134)"><use href="#tb" transform="translate(458.5 338.6)scale(0.7)"/><use href="#tb" transform="translate(459.6 339.9)scale(1.2)"/><use href="#tb" transform="translate(454.2 342.4)scale(0.9)"/><use href="#tb" transform="translate(457 337.8)scale(1.4)"/><use href="#tb" transform="translate(453.5 345.8)scale(0.8)"/><use href="#tb" transform="translate(453.4 341.2)scale(0.7)"/><use href="#tb" transform="translate(451.8 340)scale(1.1)"/><use href="#tb" transform="translate(456.1 343.7)scale(0.9)"/><use href="#tb" transform="translate(456.8 339.5)scale(1)"/><use href="#tb" transform="translate(458.1 336.9)scale(0.8)"/><use href="#tb" transform="translate(457.4 340.5)scale(0.7)"/><use href="#tb" transform="translate(459.3 340.9)scale(1.4)"/><use href="#tb" transform="translate(454.8 343.6)scale(1.3)"/><use href="#tb" transform="translate(456.1 340.9)scale(1.2)"/><use href="#tb" transform="translate(459.1 342.8)scale(0.7)"/><use href="#tb" transform="translate(451 337.2)scale(1)"/><use href="#tb" transform="translate(454.7 345.1)scale(1.2)"/></g>
<circle cx="455.4" cy="340.5" r="7.2" fill="url(#shade)"/>
<circle cx="454" cy="354.3" r="6.9" fill="rgb(43,43,43)" opacity="0.85"/>
<circle cx="455.2" cy="353.4" r="6.9" fill="rgb(220,220,220)" opacity="0.8"/>
<circle cx="454.6" cy="353.9" r="6.2" fill="rgb(134,134,134)"/>
<g color="rgb(134,134,134)"><use href="#tb" transform="translate(456.8 354.7)scale(0.9)"/><use href="#tb" transform="translate(452 353.8)scale(1.2)"/><use href="#tb" transform="translate(454.4 358.5)scale(0.9)"/><use href="#tb" transform="translate(454.8 355.2)scale(0.7)"/><use href="#tb" transform="translate(455.6 358.4)scale(1)"/><use href="#tb" transform="translate(450.1 355.6)scale(1.5)"/><use href="#tb" transform="translate(454.8 351.5)scale(0.9)"/><use href="#tb" transform="translate(452.1 353.8)scale(0.9)"/><use href="#tb" transform="translate(455.2 356.2)scale(1.3)"/><use href="#tb" transform="translate(452 351.9)scale(1)"/><use href="#tb" transform="translate(451.5 351.3)scale(0.6)"/><use href="#tb" transform="translate(456.4 351.1)scale(0.9)"/><use href="#tb" transform="translate(458.7 352.8)scale(0.9)"/><use href="#tb" transform="translate(457.8 354.4)scale(1)"/><use href="#tb" transform="translate(453.5 355)scale(1.1)"/></g>
<circle cx="454.6" cy="353.9" r="6.2" fill="url(#shade)"/>
<circle cx="468.3" cy="351.8" r="8.5" fill="rgb(43,43,43)" opacity="0.85"/>
<circle cx="469.4" cy="350.9" r="8.5" fill="rgb(220,220,220)" opacity="0.8"/>
<circle cx="468.9" cy="351.4" r="7.8" fill="rgb(134,134,134)"/>
<g color="rgb(134,134,134)"><use href="#tb" transform="translate(468.7 357.1)scale(1.1)"/><use href="#tb" transform="translate(467.3 357.1)scale(1)"/><use href="#tb" transform="translate(471.9 353.1)scale(0.6)"/><use href="#tb" transform="translate(463.3 354)scale(1.4)"/><use href="#tb" transform="translate(467.4 349.3)scale(0.8)"/><use href="#tb" transform="translate(470 355.2)scale(1.2)"/><use href="#tb" transform="translate(473.4 352)scale(1)"/><use href="#tb" transform="translate(465.8 346.4)scale(1)"/><use href="#tb" transform="translate(466.2 349.4)scale(1)"/><use href="#tb" transform="translate(467.9 350.3)scale(1.1)"/><use href="#tb" transform="translate(466.1 351.4)scale(0.8)"/><use href="#tb" transform="translate(470.6 348)scale(0.8)"/><use href="#tb" transform="translate(467.9 356)scale(1)"/><use href="#tb" transform="translate(466.7 354.4)scale(0.8)"/><use href="#tb" transform="translate(463.9 351.3)scale(0.7)"/><use href="#tb" transform="translate(465.9 349.5)scale(1.5)"/><use href="#tb" transform="translate(471.1 350.5)scale(1.2)"/><use href="#tb" transform="translate(467.7 353.2)scale(1.4)"/></g>
<circle cx="468.9" cy="351.4" r="7.8" fill="url(#shade)"/>
<circle cx="482.6" cy="347.6" r="6.4" fill="rgb(43,43,43)" opacity="0.85"/>
<circle cx="483.8" cy="346.8" r="6.4" fill="rgb(220,220,220)" opacity="0.8"/>
<circle cx="483.2" cy="347.2" r="5.7" fill="rgb(134,134,134)"/>
<g color="rgb(134,134,134)"><use href="#tb" transform="translate(486.4 345.1)scale(1.2)"/><use href="#tb" transform="translate(486.4 346.8)scale(1.2)"/><use href="#tb" transform="translate(480.9 343.9)scale(1.4)"/><use href="#tb" transform="translate(482.5 349.1)scale(1.1)"/><use href="#tb" transform="translate(481 345.8)scale(1.4)"/><use href="#tb" transform="translate(485.3 344.3)scale(1.1)"/><use href="#tb" transform="translate(482.6 345.4)scale(1.3)"/><use href="#tb" transform="translate(486.1 350.2)scale(1.2)"/><use href="#tb" transform="translate(482.9 349.1)scale(1.1)"/><use href="#tb" transform="translate(479.7 348)scale(0.7)"/><use href="#tb" transform="translate(485.2 345.2)scale(1)"/><use href="#tb" transform="translate(483 343.8)scale(1)"/><use href="#tb" transform="translate(482.4 350.1)scale(0.6)"/></g>
<circle cx="483.2" cy="347.2" r="5.7" fill="url(#shade)"/>
<circle cx="478.4" cy="363.6" r="9.5" fill="rgb(43,43,43)" opacity="0.85"/>
<circle cx="479.6" cy="362.8" r="9.5" fill="rgb(220,220,220)" opacity="0.8"/>
<circle cx="479" cy="363.2" r="8.8" fill="rgb(134,134,134)"/>
<g color="rgb(134,134,134)"><use href="#tb" transform="translate(478.7 370)scale(0.7)"/><use href="#tb" transform="translate(485 366.8)scale(0.9)"/><use href="#tb" transform="translate(473.3 362.1)scale(1.2)"/><use href="#tb" transform="translate(476.2 369.2)scale(0.6)"/><use href="#tb" transform="translate(481.4 359.8)scale(1.2)"/><use href="#tb" transform="translate(476.8 369.4)scale(0.9)"/><use href="#tb" transform="translate(475.6 360.6)scale(1.3)"/><use href="#tb" transform="translate(479.6 359.9)scale(1.3)"/><use href="#tb" transform="translate(482.4 361.9)scale(0.8)"/><use href="#tb" transform="translate(485.7 360.1)scale(0.7)"/><use href="#tb" transform="translate(480.2 356)scale(0.8)"/><use href="#tb" transform="translate(479.8 359.2)scale(1.3)"/><use href="#tb" transform="translate(473.8 362.9)scale(0.7)"/><use href="#tb" transform="translate(475.4 358)scale(0.9)"/><use href="#tb" transform="translate(481.2 363.8)scale(0.8)"/><use href="#tb" transform="translate(485.5 363.1)scale(1.4)"/><use href="#tb" transform="translate(479 360.4)scale(0.9)"/><use href="#tb" transform="translate(485.6 361)scale(1.5)"/><use href="#tb" transform="translate(481.7 357.4)scale(1.3)"/><use href="#tb" transform="translate(483.3 360.7)scale(0.6)"/></g>
<circle cx="479" cy="363.2" r="8.8" fill="url(#shade)"/>
<circle cx="509.5" cy="372.1" r="8.5" fill="rgb(43,43,43)" opacity="0.85"/>
<circle cx="510.7" cy="371.2" r="8.5" fill="rgb(220,220,220)" opacity="0.8"/>
<circle cx="510.1" cy="371.6" r="7.8" fill="rgb(134,134,134)"/>
<g color="rgb(134,134,134)"><use href="#tb" transform="translate(509.8 372.3)scale(0.8)"/><use href="#tb" transform="translate(507.2 369.8)scale(0.8)"/><use href="#tb" transform="translate(513.3 373.8)scale(1.1)"/><use href="#tb" transform="translate(504.8 368.2)scale(0.7)"/><use href="#tb" transform="translate(510 373.4)scale(1.4)"/><use href="#tb" transform="translate(506.6 367.7)scale(1.3)"/><use href="#tb" transform="translate(516.3 371.7)scale(0.9)"/><use href="#tb" transform="translate(507.3 368.6)scale(1.3)"/><use href="#tb" transform="translate(509 374.8)scale(0.8)"/><use href="#tb" transform="translate(509.4 367.3)scale(0.7)"/><use href="#tb" transform="translate(507.1 375.5)scale(0.9)"/><use href="#tb" transform="translate(505.1 368.3)scale(1.2)"/><use href="#tb" transform="translate(511.2 368.2)scale(1.4)"/><use href="#tb" transform="translate(514.5 369.9)scale(0.6)"/><use href="#tb" transform="translate(514.9 374.5)scale(1.4)"/><use href="#tb" transform="translate(509.4 367)scale(1.1)"/><use href="#tb" transform="translate(513.8 374.9)scale(1.5)"/><use href="#tb" transform="translate(511.5 376.5)scale(1.4)"/></g>
<circle cx="510.1" cy="371.6" r="7.8" fill="url(#shade)"/>
</g>
<path d="M450.1,348.9 L441.1,344.6 L443.9,348.9 L441.1,353.2 Z" fill="#f0e23c"/>
<path d="M484.9,359.8 L493.9,355.5 L491.1,359.8 L493.9,364.1 Z" fill="#f0e23c"/>
</g>
<rect x="0" y="0" width="520" height="1.5" fill="#000"/><rect x="0" y="0" width="1.6" height="416" fill="#000"/><rect x="518.6" y="0" width="1.4" height="416" fill="#000"/><rect x="0" y="414.4" width="520" height="1.6" fill="#000"/>
</svg>
</body></html>
